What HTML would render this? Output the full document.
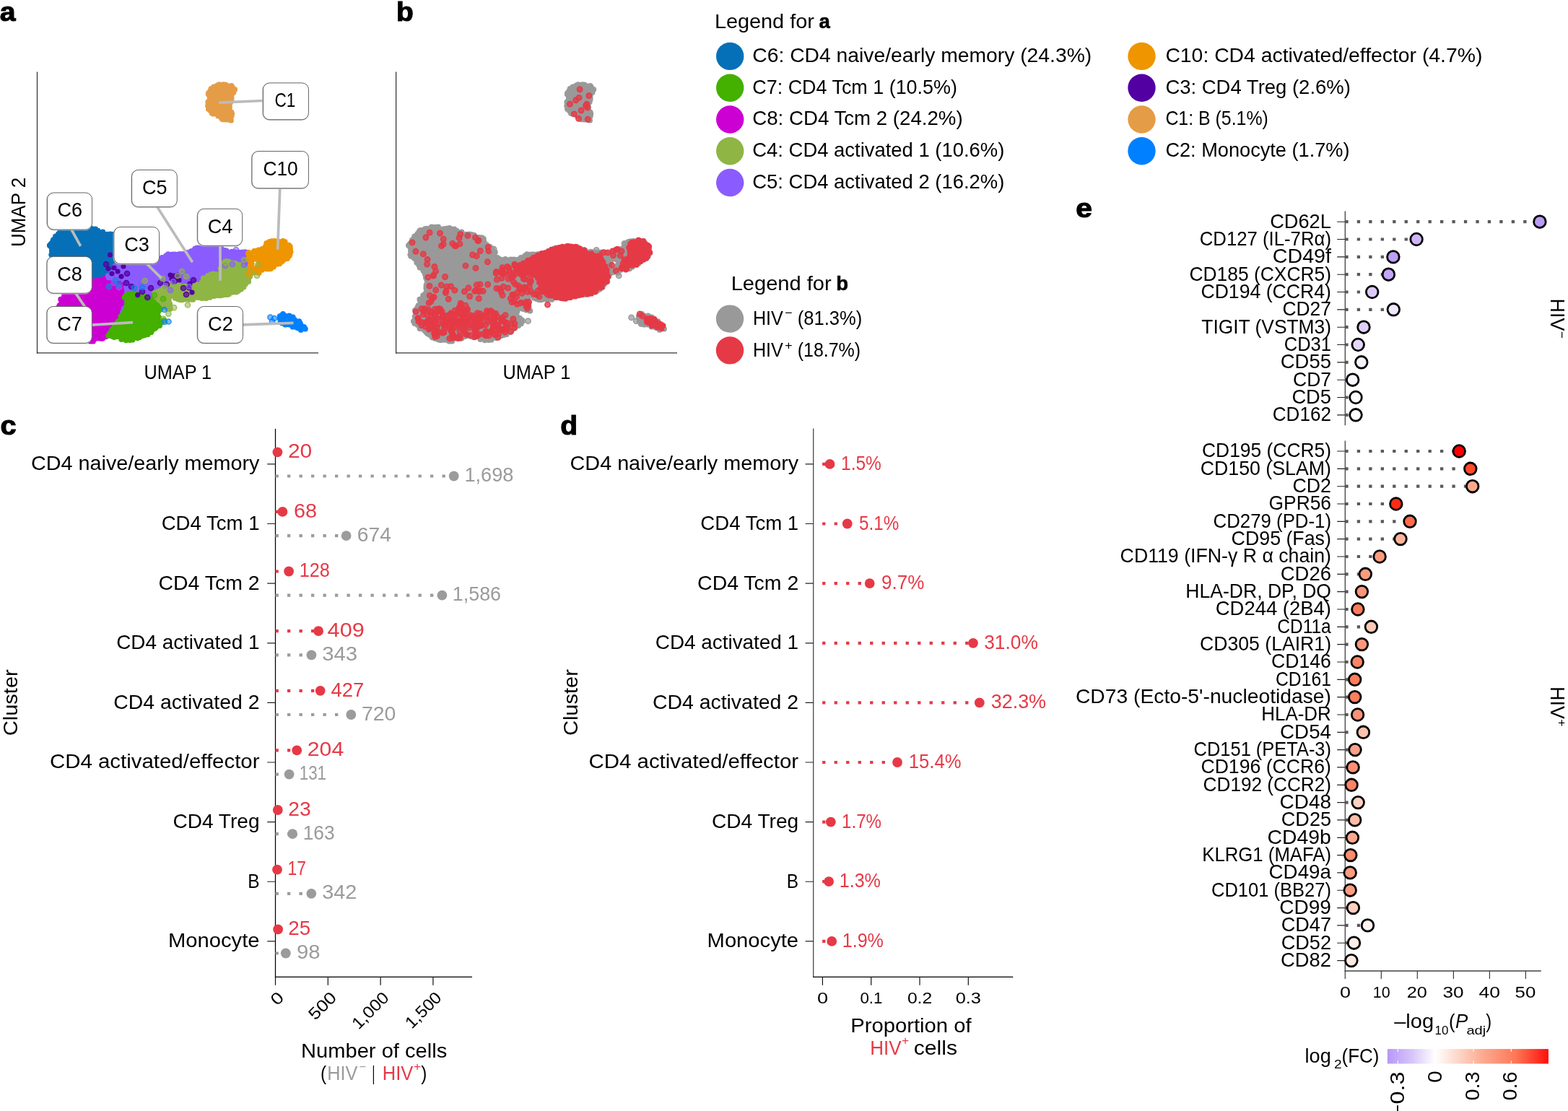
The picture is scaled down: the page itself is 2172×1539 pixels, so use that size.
<!DOCTYPE html>
<html lang="en"><head><meta charset="utf-8"><title>Figure</title>
<style>
html,body{margin:0;padding:0;background:#fff}
body{width:2172px;height:1539px;overflow:hidden}
svg{display:block}
text{font-family:"Liberation Sans",sans-serif}
.ax{stroke:#000;stroke-width:1.25;fill:none}
.tk{stroke:#222;stroke-width:1.15;fill:none}
</style></head><body>
<svg width="2172" height="1539" viewBox="0 0 2172 1539">
<rect width="2172" height="1539" fill="#fff"/>
<text x="-0.3" y="29.3" font-size="37.5" textLength="21.8" lengthAdjust="spacingAndGlyphs" font-weight="bold" stroke="#000" stroke-width="1.1">a</text>
<text x="549.1" y="29.3" font-size="37.5" textLength="23.8" lengthAdjust="spacingAndGlyphs" font-weight="bold" stroke="#000" stroke-width="1.1">b</text>
<path d="M50.9 488.9H441M548 488.9H938" stroke="#6e6e6e" stroke-width="1.7" fill="none"/>
<path d="M51.5 99.4V489.7M548.6 99.4V489.7" stroke="#3a3a3a" stroke-width="1.3" fill="none"/>
<text x="199.4" y="525.3" font-size="27.5" textLength="93.8" lengthAdjust="spacingAndGlyphs">UMAP 1</text>
<text x="696.5" y="525.3" font-size="27.5" textLength="93.8" lengthAdjust="spacingAndGlyphs">UMAP 1</text>
<g transform="translate(35 294) rotate(-90)">
<text x="-48.1" y="0" font-size="27.3" textLength="96.3" lengthAdjust="spacingAndGlyphs">UMAP 2</text>
</g>
<path d="M100.6 314.3h0M103.8 314.7h0M107.3 314.7h0M110 314.4h0M91.6 317.1h0M94.2 316.6h0M96.3 317.5h0M100.9 317.6h0M102.8 317.3h0M105.6 316.2h0M109.5 316.1h0M110.8 316.8h0M113.7 317.3h0M118.1 317.1h0M121 316.7h0M122.1 316.7h0M125.6 316h0M128.6 317.4h0M132.3 317.4h0M84.6 319.1h0M86.8 319h0M89.2 319h0M91.7 319h0M96.1 318.3h0M97.6 320.1h0M101.9 320h0M103.8 320.1h0M106.7 319.7h0M109.6 318.2h0M113.8 319.5h0M114.9 318.7h0M119.7 320.1h0M121.2 319.1h0M125.4 318.6h0M128 319.9h0M130.6 318.9h0M133 319.8h0M135.6 319.7h0M83.4 320.9h0M86 321.1h0M87.9 322.4h0M91.2 322.6h0M93.7 321.8h0M96.1 321.1h0M100.8 322.1h0M102.2 322.3h0M105.8 322h0M109.4 321.9h0M112.3 321h0M114.7 321.5h0M116.9 322.7h0M120 322.3h0M122.5 322.2h0M126.7 321.3h0M129.9 321.9h0M131.5 320.8h0M134 322h0M137.7 322.5h0M140 322.1h0M142.4 321.5h0M81.1 324h0M83.5 324.2h0M87.4 324.8h0M89.5 323.9h0M93.4 324.6h0M94.9 324.2h0M98.6 323.5h0M102.2 323.8h0M103.9 324.7h0M106.5 323.6h0M109.7 324.3h0M112.6 323.7h0M116.3 323.5h0M118 324h0M122.3 324.7h0M124 324.6h0M126.9 324.1h0M130.2 324.9h0M133.3 324.5h0M135.5 324.5h0M139.6 325.1h0M142.1 324.8h0M144.3 324.7h0M148.3 324.7h0M151 324.6h0M153.2 324.5h0M156.3 324.8h0M77 327.4h0M80.1 327.6h0M81.6 326.4h0M84.8 327.6h0M88.7 327.4h0M91.5 327h0M94.5 327h0M96.5 327.1h0M100.5 326h0M101.9 327.3h0M106.1 326.5h0M109.2 326.9h0M111.1 326.6h0M114.3 327.1h0M116.4 326.9h0M119.5 327.4h0M124 326.7h0M125.8 327h0M129.9 326.7h0M131 327.1h0M134 325.8h0M138 326h0M139.7 327.5h0M142.5 327.2h0M146.8 326.2h0M149.8 327.2h0M152.6 326h0M155.5 326.7h0M157.4 327.7h0M159.9 325.8h0M76.2 330.1h0M77.5 329.2h0M81.9 330h0M83.9 329h0M86.8 329.6h0M89.2 328.4h0M92.8 328.6h0M95.1 329.1h0M98 330h0M100.7 329.3h0M105.1 328.5h0M106.3 330.1h0M109.5 329.3h0M112.5 328.7h0M116.9 330.3h0M118 328.9h0M120.8 329.8h0M125.5 328.4h0M127.2 328.6h0M131.1 329.4h0M133.2 330.1h0M136.3 328.6h0M139.6 329.7h0M141.1 328.5h0M144.9 328.9h0M148 329.7h0M150.9 328.7h0M154.1 329.1h0M155.6 329.9h0M160.1 330h0M161.3 330.1h0M165.9 328.9h0M168.8 329.1h0M170.7 329.5h0M73.8 332.4h0M77.6 331.1h0M78.6 332.4h0M82.5 332.8h0M85.3 332.4h0M88.6 331.6h0M91.2 332.3h0M93.9 332h0M96.7 332.4h0M99.9 331.7h0M102.4 331.1h0M105.9 331h0M108.3 332.5h0M112.5 331.3h0M115.3 330.9h0M117.5 331.8h0M120.8 331.9h0M123.2 331.9h0M125.8 331.6h0M128.6 332.7h0M131.9 331h0M134.5 332h0M138.4 332.8h0M140.4 332.1h0M143.1 331.9h0M145.7 331.5h0M149.9 331.9h0M152.9 332.2h0M156 332.6h0M157.3 331.4h0M160.8 331.2h0M164 332h0M167.6 332.1h0M169.4 332.4h0M172.8 330.9h0M73.1 334.5h0M74.8 334.2h0M77.9 333.4h0M81.6 333.9h0M84.7 334.6h0M86.4 333.6h0M89.2 335.2h0M91.9 334.8h0M96.1 335h0M97.7 335.3h0M102.2 334.7h0M104.9 334.6h0M106.3 334.8h0M110.1 335.2h0M113.5 333.5h0M116.5 333.9h0M119.7 334.6h0M121.2 333.5h0M124.4 333.8h0M126.8 334.8h0M129.9 333.8h0M133.2 335.2h0M135.8 335.1h0M139.2 334h0M142.1 334.9h0M145.2 334.6h0M148.3 335h0M150.3 334.1h0M152.7 333.9h0M156.9 334.3h0M159 334.3h0M161.6 333.5h0M166.2 334.9h0M168.5 335.3h0M170.2 334.3h0M173.3 334.5h0M70.8 337.6h0M73.1 335.9h0M77.3 336.3h0M79.2 337.3h0M81.8 337.6h0M85.8 337.5h0M87.4 336.6h0M91.2 337.6h0M93.2 336.3h0M97.4 336.7h0M99.3 337.6h0M103.6 337.1h0M105.4 336.3h0M108.8 336h0M111.3 336.8h0M114.2 336.6h0M117.5 336.6h0M120.2 337.9h0M122.4 337.2h0M125.6 336.9h0M129.1 336.9h0M132.8 336h0M135.3 337.6h0M137.9 337.2h0M140.1 337.5h0M144.3 337.3h0M146.9 337.4h0M149.5 336.6h0M152 336h0M154.7 337.9h0M157.7 336.4h0M160.5 336.2h0M164.5 336.8h0M166.8 336.5h0M168.7 336.5h0M172.9 337h0M175 337.7h0M68.8 339.9h0M71.7 339.8h0M75 340.2h0M79 340.4h0M80.6 340h0M83.1 339.4h0M86.8 338.6h0M90.8 339h0M91.9 339.4h0M95.4 338.8h0M97.8 339.9h0M100.6 339.1h0M105.1 339.1h0M108.1 340.2h0M109.6 338.8h0M112.1 338.5h0M115.7 339.5h0M117.8 339.8h0M121.8 339.5h0M125.6 340.2h0M127.3 339h0M131.3 339.2h0M133.1 338.7h0M135.2 339.6h0M138.6 339.6h0M141.5 338.8h0M145.6 340h0M146.9 339.8h0M151 339.5h0M154.5 338.4h0M157.2 339.4h0M160.4 338.9h0M162.8 339.2h0M165 339.5h0M168.4 339.1h0M171.1 338.9h0M173.4 340.2h0M70.5 341.4h0M73.1 342.8h0M75.9 341.1h0M80.5 341.8h0M82.1 342.7h0M84.7 341h0M87.4 342.6h0M90.7 342.1h0M94.3 341.2h0M96.7 342.6h0M100.5 342.9h0M101.9 341.7h0M105.2 342h0M108.6 342.4h0M111.9 341.2h0M113.7 342.8h0M118.2 342h0M119.9 342.4h0M124 341.1h0M126.8 342.1h0M128.1 341.2h0M132.6 342.6h0M135.6 341h0M138.6 341.6h0M140.9 341h0M143.3 341.4h0M145.7 342.5h0M148.4 342.1h0M152.2 342.5h0M155 341h0M157.1 342.2h0M161 341.6h0M164.1 341.3h0M167.5 341.6h0M170.3 341.9h0M171.6 342.7h0M175.3 342h0M72.5 344.4h0M76.1 344.9h0M77.3 344.1h0M82 345.2h0M84.2 344.6h0M86.7 345h0M89.4 345h0M92.8 344.3h0M95.9 345.1h0M98.3 345.4h0M101.8 344h0M104.4 345.1h0M106.9 343.7h0M110.8 343.8h0M112.3 344.1h0M115.5 344.2h0M119.7 343.8h0M122.6 343.9h0M124.5 343.7h0M127.3 344.2h0M129.9 343.9h0M133.2 345.1h0M136.7 344.1h0M139.6 344.4h0M142.3 345h0M144.6 345.3h0M147.4 344.7h0M151.2 343.5h0M153.7 344.2h0M156 343.9h0M159.5 345h0M162.1 345.1h0M164.8 344.7h0M168.4 344.8h0M170.8 345.3h0M173.6 344.2h0M71.8 347.2h0M73.3 348h0M76.5 347.6h0M79.9 347.5h0M81.7 347.9h0M84.5 346.1h0M89.2 346.4h0M92.1 347.3h0M93.7 346.3h0M97.6 346.2h0M100.4 346.4h0M102.2 347h0M106.3 347.8h0M107.6 347.7h0M112.2 347h0M114.6 347.6h0M116.4 347.1h0M120 346h0M122.2 347.6h0M126 346.2h0M128.4 346.8h0M132.8 347.1h0M133.9 347.4h0M138.3 346.2h0M140.1 347.5h0M143.7 347.9h0M145.4 346.1h0M149.6 347.2h0M152.1 346.8h0M155.3 347.8h0M158.5 347.8h0M161.3 346h0M164.4 346.8h0M166 347.9h0M170 346.5h0M172.1 346.6h0M72.3 349.5h0M75.3 350.5h0M77.6 350.2h0M82.1 349.4h0M84.9 349.1h0M86.6 349.8h0M89.5 348.8h0M91.7 349.7h0M95.5 349.6h0M97.8 349h0M102.3 348.8h0M104.3 349.7h0M106.3 349h0M110.3 349.4h0M113.8 349.8h0M116.8 349h0M118.6 348.6h0M120.9 348.5h0M124.2 350.4h0M127.3 349.6h0M131 349.8h0M132.5 349h0M136.4 350.1h0M140 348.9h0M142.8 349.6h0M145.3 349h0M147.5 349.6h0M149.8 350h0M153.5 349.8h0M155.5 349.5h0M159.8 349.8h0M163.2 350.1h0M165.1 350.4h0M71.2 352.8h0M73.5 352.7h0M76.3 351.8h0M79.3 351.8h0M82 352.8h0M85.7 352.8h0M87.8 352.9h0M92.2 352.5h0M94.8 351.5h0M96.8 352.7h0M100 351.7h0M102.5 352.7h0M106.5 351.3h0M109.1 352.4h0M110.6 352.8h0M114.4 351.7h0M117.9 352.8h0M119.9 351.5h0M122.8 351.1h0M125.5 351.2h0M129.4 351.4h0M131.6 352.6h0M134.4 352.3h0M137.6 352.8h0M140.2 352.8h0M142.7 352.2h0M146.4 352h0M150 352.4h0M151.9 351.8h0M155.4 351.3h0M157 352.2h0M161.3 351.9h0M163.8 352.7h0M72.2 354.9h0M75.9 355.1h0M77.2 355.1h0M81.4 354.7h0M83.8 355.5h0M87.7 354.8h0M89.5 354.1h0M93.3 355.1h0M96.6 354.9h0M99 354.1h0M100.7 355.3h0M103.8 355.4h0M108 355.1h0M110.6 354.7h0M113.2 354.4h0M115.1 355.1h0M118.3 353.8h0M121.6 355h0M125.1 354.8h0M127.5 355h0M130.7 354.1h0M134.1 355.4h0M136 354.7h0M139.6 354.5h0M141.8 355.5h0M144.1 355h0M148.1 353.7h0M150.8 355h0M153.9 354.3h0M157.1 353.6h0M158.6 355.3h0M161.4 354.5h0M76.4 357.5h0M80.1 356.6h0M82.4 356.1h0M85.9 357.8h0M87.7 357.8h0M90.5 356.8h0M93.1 356.2h0M97.8 358.1h0M100.8 357.6h0M103 358h0M106.6 357.2h0M108.7 357h0M111.3 357.1h0M113.9 356.6h0M117.3 356.9h0M119.6 357.1h0M123.7 357.5h0M126.1 356.6h0M129 356.8h0M131.6 357.5h0M134.7 357.5h0M137.5 356.8h0M140.3 357.6h0M142.9 356.5h0M146.6 357.4h0M149.6 356.6h0M151.9 356.1h0M155.1 357.4h0M158.5 356.5h0M160.1 357.7h0M79 359.5h0M81.7 359h0M83.7 360.2h0M86.4 359.9h0M89.5 359.8h0M92.6 358.6h0M95.1 360.3h0M98.7 359.8h0M101.9 359.2h0M104.9 360h0M107.1 359.9h0M109.5 358.8h0M113 358.9h0M116.6 359.4h0M118.2 359.8h0M121.6 359.7h0M124.6 360.3h0M128.3 359h0M130.9 359.7h0M132.7 360.2h0M136.6 359.1h0M139.4 359.3h0M141.1 359.9h0M144.2 359.7h0M147 360.3h0M149.8 359.1h0M153.1 358.8h0M156 359.2h0M159.1 360.2h0M161.5 359h0M80.1 362.7h0M82.6 362.7h0M85.5 361.7h0M87.7 362.5h0M91.8 362.4h0M95 362.7h0M96.7 363h0M99.1 361.8h0M103.7 362.4h0M106.6 362.7h0M108.6 362.6h0M110.8 362.4h0M113.9 362.5h0M116.6 361.4h0M119.9 363h0M123 362.7h0M125.4 363.1h0M128.1 362h0M131.8 361.9h0M134.6 362.8h0M137.8 361.6h0M140.5 361.9h0M143.5 361.8h0M147.3 361.5h0M148.3 361.3h0M152 362.8h0M156 362.8h0M158.1 361.1h0M160.4 362.4h0M80.2 363.8h0M84.4 364.4h0M87.5 364.2h0M89.9 365h0M91.8 364.6h0M96.1 364.9h0M98.4 364.1h0M100.8 365.3h0M104.7 364.3h0M107.4 365h0M110.2 364h0M113.3 364.7h0M115.1 364.3h0M119.5 363.7h0M122.4 365.2h0M124.2 364.1h0M127.1 365.1h0M130.9 364.8h0M134.3 364.4h0M135.2 365.4h0M139.2 364.4h0M141.6 364.1h0M145 365.2h0M146.9 365.2h0M150.6 363.6h0M153.9 365.2h0M156.4 365.1h0M158.8 364.7h0M83 367.1h0M84.6 367.6h0M89 367.5h0M92 368h0M93.3 367.3h0M96.5 368h0M99.2 366.6h0M103 366.8h0M106.4 366.5h0M108.3 368.1h0M111.2 367.4h0M114.3 367.4h0M117 366.2h0M120.4 366.5h0M123.4 368h0M125.5 367.3h0M129.5 366.5h0M131.7 368h0M134.1 366.4h0M137.3 367h0M140.3 367.1h0M144 368h0M147.2 366.7h0M149.3 367.5h0M151.7 366.4h0M154.8 367.6h0M158 366.6h0M84.5 370.7h0M85.9 369.4h0M90 368.9h0M92.4 370.5h0M95.2 369h0M98.7 370.3h0M101.5 370.2h0M105.2 368.9h0M108.2 369.8h0M109.6 368.7h0M112.5 369.8h0M116 370.6h0M119.5 369.2h0M120.7 369.5h0M124.1 369.4h0M127 370.1h0M129.6 370.5h0M133.7 369.4h0M135.3 370.7h0M139 370.3h0M142.8 369.8h0M144.9 370.7h0M148.1 370.4h0M150.8 370.4h0M154.3 368.7h0M156.6 369h0M88.9 371.6h0M90.6 372.9h0M94.8 372h0M96.6 372.4h0M99.4 372h0M103.4 371.6h0M105.3 372.5h0M108.7 372.9h0M111 372.3h0M113.9 371.5h0M117 373h0M119.4 371.6h0M123.2 371.3h0M126.2 372.4h0M129.5 371.7h0M131.9 371.9h0M134.5 372.1h0M138.3 373.2h0M140.6 372.6h0M144.4 373.2h0M145.8 372.3h0M148.7 372.8h0M152.6 372.2h0M155.5 372.7h0M89.2 375h0M92.6 375.6h0M94.8 373.8h0M98.7 375h0M100.5 374.6h0M104.5 373.8h0M108 374.8h0M110.5 375.6h0M113.3 375.3h0M115.8 375.4h0M118.1 375.5h0M120.7 373.9h0M125.5 375h0M126.7 374.9h0M130.1 374h0M132.4 375h0M137 375.3h0M139.8 374.8h0M142 373.9h0M144.2 375.7h0M148.6 374.7h0M151 375.2h0M153.1 374.6h0M155.9 374h0M91.2 378.1h0M94.3 377.1h0M96.1 378h0M99.6 376.8h0M103.7 377.9h0M105.9 377.4h0M107.7 377.7h0M111.7 376.3h0M113.8 377.6h0M118.3 377.6h0M119.3 378.2h0M123.9 376.3h0M126 376.7h0M128.1 377.4h0M132.2 376.6h0M135 377.7h0M137.2 377.6h0M141.3 377.9h0M143.6 376.8h0M147.3 378.2h0M149.9 377.6h0M152.7 377.2h0M91.9 380.3h0M95.2 379.9h0M98.7 379.6h0M100.9 380.7h0M104.1 379.4h0M108 380.2h0M111.1 380.2h0M113.7 379h0M116.5 380.3h0M117.9 379.7h0M121.9 379.6h0M124.7 380h0M127.1 379.3h0M129.6 380.5h0M132.5 379.5h0M136.9 380.7h0M138.7 378.9h0M142 378.8h0M144.8 380.1h0M147 379.4h0M149.9 379h0M94.3 381.5h0M98 382.1h0M100.4 382.9h0M102.6 382.7h0M106 381.3h0M108 382h0M110.6 383.1h0M115.3 383.2h0M118 383.2h0M121 381.4h0M123.4 382.9h0M125.2 382.3h0M129.3 381.7h0M132.8 381.8h0M135.7 382.6h0M137.5 382.2h0M139.7 381.9h0M144.2 382h0M146.5 383.1h0M92.7 384.6h0M96 385.1h0M98 385.7h0M101 385h0M105.2 385.8h0M106.6 384.2h0M109.7 385.2h0M112.1 383.9h0M115.5 384.1h0M118.5 385.3h0M122.6 384.7h0M123.9 385h0M128.3 384.1h0M131.2 385.2h0M132.4 385.1h0M136.7 385.4h0M138.1 385.3h0M142.2 384.6h0M94.1 387.4h0M96.1 388h0M99.3 388.1h0M103.3 387.8h0M106.6 386.5h0M108 387.6h0M110.6 386.6h0M114.5 387.3h0M116.4 387.4h0M119.4 386.5h0M122.9 386.7h0M125.4 387.8h0M128.6 386.5h0M131 387.6h0M95.4 390.1h0M97.5 389.4h0M101.9 389.4h0M104.1 390.3h0M106.9 389.9h0M112.1 389.6h0M94.6 392h0M99.2 392.3h0" stroke="#0570B8" stroke-width="7.8" stroke-linecap="round" fill="none"/>
<path d="M145.5 385.8h0M147.2 385.8h0M134.7 388.1h0M138.1 388.2h0M141.2 387.2h0M144.1 387.1h0M145.4 386.8h0M150.1 387h0M153.1 387.7h0M154.3 387.1h0M158.8 387.2h0M160.4 386.4h0M162.9 387.9h0M166.2 388h0M109.9 390.4h0M115.4 389.6h0M118.5 389.2h0M120.8 390.7h0M124.7 390h0M127.7 390.6h0M129.5 389.3h0M133.5 390.4h0M135.8 390.3h0M139.9 389.2h0M142.4 390.7h0M145.5 389.1h0M147.4 390.3h0M150.1 389.4h0M154 390.7h0M155.6 390.5h0M159.8 389.9h0M161.4 389.3h0M165.1 390.6h0M168.2 390.8h0M170.8 389.9h0M97.1 393.2h0M103.5 392.2h0M106.5 392h0M109.6 392h0M111.8 392.1h0M114.3 393.1h0M117.8 392.5h0M120 391.7h0M122.8 391.4h0M126.1 392.4h0M128.1 391.6h0M130.9 393.1h0M135.7 393.1h0M137.3 392.3h0M140.5 392.8h0M143.9 392.4h0M146.3 392.6h0M150.1 393.4h0M152.3 391.6h0M155.9 391.9h0M157.4 392.8h0M161 392.9h0M164.4 392.4h0M166.3 392.5h0M168.9 391.5h0M172.7 392.2h0M93.3 395.1h0M94.6 394.2h0M99.4 395.8h0M102.3 394.8h0M105.1 395.6h0M106.8 394.1h0M109.6 394.3h0M112.6 394.3h0M115.6 393.9h0M118.9 394h0M120.7 394.9h0M124.7 394.4h0M128.4 395.5h0M131.3 394.7h0M133.1 395.5h0M135.6 394.8h0M140.1 394.6h0M141.8 395.7h0M144.9 395.1h0M147.4 395.1h0M151.6 395h0M153.9 395.4h0M156.8 394.7h0M159.1 394.4h0M162.4 394.3h0M164.8 394.7h0M169 395h0M170.8 395h0M173.9 394.9h0M94.7 398.1h0M97.4 397.5h0M100.3 397.7h0M103.3 397.2h0M104.8 398h0M108.4 396.5h0M112.3 397h0M115 397.8h0M116.8 397.8h0M121.2 397.5h0M124 397.7h0M126.3 396.7h0M129.7 397.4h0M131.3 397.4h0M135.3 397.6h0M137.4 396.9h0M140.9 397.1h0M143.2 397.3h0M146.1 397.2h0M149.7 397.4h0M151.6 396.7h0M155.3 396.7h0M157.3 397.6h0M161.2 398h0M163.5 396.6h0M166.9 398.1h0M170.5 398.3h0M172.5 397.8h0M93.1 399.1h0M95.1 400.9h0M99.3 400h0M100.8 399.9h0M104.4 400.9h0M108 399.2h0M110.3 400.7h0M112.9 400.6h0M115.6 400.7h0M118.8 399h0M121.5 399.4h0M123.9 400.6h0M128.4 400.3h0M130.2 401h0M133 399.3h0M135.7 400.2h0M139.8 399.8h0M141.2 400h0M144.9 399.2h0M147.8 399.1h0M151.4 400.1h0M153.9 399.1h0M155.5 400h0M158.9 399.2h0M161.6 400.3h0M165.1 400.1h0M168.7 400.3h0M171.4 399.2h0M173.3 399.9h0M94.3 403.1h0M97.8 403.2h0M100.1 401.9h0M102.3 401.9h0M104.8 403.1h0M109.4 401.6h0M112.3 402.2h0M114.8 402.5h0M116.6 401.7h0M121.1 401.6h0M123.2 402h0M126 402h0M128.8 403.1h0M131.9 403.1h0M134.4 403.3h0M138.6 402.1h0M140.4 403.2h0M143.5 402.5h0M146 401.7h0M148.7 401.7h0M152.2 403.1h0M155.1 401.9h0M157.8 402.3h0M161.6 403.5h0M163.6 403.1h0M166 402.4h0M169.1 403h0M172.7 402.1h0M93.6 404.7h0M96.2 405.6h0M98.2 404.5h0M102.3 405.2h0M103.7 405h0M107.3 405.6h0M110 405.4h0M112.9 405.1h0M116.7 406h0M119.1 405.1h0M121.2 404.9h0M125.2 405.4h0M126.7 404.3h0M130.9 404.7h0M133.5 405.2h0M135.7 404.7h0M139.7 404.8h0M142.1 404.5h0M145.2 405.7h0M147.1 404.5h0M150.1 404.8h0M154.4 405.2h0M156.2 404.3h0M159.5 405h0M161.8 405.8h0M165.4 404.7h0M168.6 404h0M171.9 405.3h0M173 405.6h0M92.2 406.7h0M94.2 406.8h0M97.2 407.8h0M99.2 407.2h0M102.2 407.5h0M106.3 406.8h0M108.7 407.9h0M111 406.8h0M114.2 408.1h0M117 408h0M119.3 408.5h0M122.8 407.1h0M125.5 408.1h0M129.4 407.3h0M132.7 406.9h0M134.1 408.5h0M137.5 408h0M139.7 407.6h0M143.4 408.2h0M145.9 407h0M149.3 408.3h0M152.1 407.4h0M154.4 407.3h0M157.3 407.2h0M161.7 407.5h0M162.8 407.6h0M165.9 407.5h0M169.2 408h0M171.6 406.6h0M89 409.2h0M92.1 409.5h0M95.6 409.6h0M97.9 409.6h0M102.3 410.5h0M103.5 411h0M106.4 410.8h0M111.1 409.9h0M112 410.2h0M116.7 409.5h0M118.5 410.7h0M122.6 410.2h0M124.1 409.5h0M127.1 409.7h0M129.4 410.1h0M132.6 410.4h0M136.7 409.4h0M138.7 409.2h0M141.4 409.3h0M145.8 409.8h0M148.3 409.2h0M151.4 409.7h0M153 410.5h0M156.3 410.5h0M158.8 409.7h0M161.8 410.6h0M165 410.5h0M169 410.3h0M170.4 409.5h0M89.2 413.5h0M91.7 412.7h0M94.2 413.5h0M96.9 412h0M99.8 413.2h0M103.1 411.7h0M105 412.7h0M109 412.5h0M112.4 413.3h0M113.5 412.9h0M117.1 412.3h0M119.5 412.9h0M123 413.1h0M125.4 412.1h0M129.3 412.8h0M131.6 413.1h0M134.2 411.8h0M138.3 413.5h0M141.2 412.8h0M143 413.3h0M146.3 412.7h0M148.5 412h0M152.7 411.8h0M156 411.9h0M158.1 413.3h0M160 413.1h0M162.8 413.5h0M166.6 412.6h0M169.7 411.7h0M84.2 414.7h0M86.9 414.2h0M90.5 416h0M92 414.8h0M94.9 415.7h0M98.6 414.6h0M100.6 415.1h0M103.3 414.5h0M107.9 415.4h0M110.9 414.4h0M113.4 415.3h0M115 414.5h0M119.6 414.7h0M122 414.5h0M125.4 415.7h0M128 415.8h0M130.8 414.1h0M133.2 416.1h0M136.1 415.5h0M139.3 414.1h0M141.5 415.5h0M145.1 415.6h0M147.1 414.6h0M151.2 414.9h0M153.3 414.7h0M156.3 415.3h0M160.2 414.1h0M162 416h0M164.2 415.5h0M168.7 415.4h0M171.3 415.5h0M173.3 415.4h0M86.4 418.4h0M89 418.6h0M92.1 417.4h0M94.5 418.2h0M97.7 417.3h0M100.1 418.5h0M103.1 418.3h0M106.1 416.9h0M108.3 417.9h0M111.9 416.9h0M114 417.7h0M118.2 417.1h0M121 417.8h0M123.6 416.9h0M125.5 417.5h0M129.7 418.4h0M132.8 418.5h0M135.5 418.5h0M137.4 417.9h0M140.2 417.6h0M142.8 418.2h0M146.7 417.5h0M148.8 416.8h0M151.7 417h0M155 418.4h0M157.8 417.5h0M160.1 417.2h0M164.6 417.8h0M167.6 418.2h0M169.3 416.7h0M171.9 418.3h0M85 420h0M87.6 419.7h0M89.6 419.4h0M92.2 419.6h0M96.5 420.1h0M98.8 419.8h0M101.6 419.5h0M104.5 419.6h0M108.1 420.1h0M110 419.2h0M112.7 421h0M116.8 419.5h0M117.8 419.3h0M120.8 419.6h0M125.4 419.6h0M127.9 420.5h0M131.2 420.9h0M133.9 420.2h0M135.4 420.4h0M138.8 419.8h0M142.6 420.7h0M144.9 419.2h0M147.1 421.1h0M150.7 419.7h0M152.6 419.8h0M157 419.9h0M159 419.4h0M161.5 419.5h0M165.3 419.6h0M168.1 420h0M171.3 419.4h0M173 420.7h0M82.4 423.1h0M85.1 423.2h0M88.1 423.1h0M91.2 422h0M94 421.8h0M96.7 422.3h0M100.7 423.4h0M102.1 421.8h0M106.3 423.1h0M108.4 422h0M111.3 423.2h0M114.3 421.8h0M117.4 423h0M119.9 422.1h0M122.5 421.7h0M125.3 422.7h0M129.8 422.6h0M131.1 423.1h0M135.2 422.1h0M137.5 422.5h0M139.8 421.7h0M144.4 423.6h0M146.7 422.1h0M148.2 422.3h0M152.2 422.1h0M155.1 422.1h0M158.8 422.6h0M161.3 421.9h0M164.1 422.6h0M167 422.1h0M168.8 422.5h0M172.6 422.7h0M81.1 425.8h0M83.3 425.9h0M87.8 425.4h0M89 426h0M92 425.3h0M95.7 424.3h0M98.8 424.8h0M101.4 425.7h0M103.9 425.7h0M107.6 425.6h0M110.8 424.3h0M112.6 425.2h0M115.7 424.5h0M118.5 424.4h0M120.8 424.6h0M124.4 426.1h0M127.5 425.2h0M131.4 425h0M133.3 424.9h0M137 424.2h0M139.6 425.2h0M142.4 424.5h0M144.3 425.9h0M147.6 425.8h0M151 424.7h0M153.9 426.2h0M156.3 425.8h0M159.9 425.9h0M162.7 424.8h0M164.9 425.8h0M167.9 425.6h0M170.4 425.9h0M79.7 428.4h0M83.5 427.3h0M85 427.5h0M87.5 428.5h0M91.7 428.7h0M94.5 428.4h0M96.9 427.1h0M99.9 428.4h0M103 428.2h0M105.3 426.9h0M108.5 427.1h0M111.2 427h0M113.7 427.1h0M118.3 428.1h0M120.9 428.6h0M123.7 428h0M126.8 428.1h0M129.8 427.6h0M130.9 428.2h0M135.5 428.7h0M137 427.9h0M139.7 426.9h0M143.3 427.1h0M146.9 428.4h0M149.7 428.3h0M151.8 427.9h0M154.5 427.4h0M158.1 426.9h0M160.2 426.9h0M163.4 428.6h0M166.8 427.7h0M170.2 427.1h0M77.9 430h0M80.9 431.2h0M84.8 431.2h0M87.8 430h0M90 430h0M93.6 429.6h0M95.4 430.9h0M98.4 430h0M102 430.8h0M104.6 431h0M106.7 430.7h0M109.9 429.2h0M113.4 429.6h0M116.4 429.9h0M119.1 430.6h0M122.5 430h0M124.5 431h0M127 430h0M130.9 429.6h0M134.3 429.9h0M136.6 430.5h0M138.1 431h0M142.6 430.9h0M145.4 430.7h0M148.7 431.1h0M150.3 431.1h0M153 431h0M157.4 429.9h0M158.7 431h0M162.1 430.5h0M166.1 429.8h0M168.1 430.2h0M79.5 432.8h0M82.3 433.5h0M85.9 432h0M87.5 433.5h0M91.8 432.8h0M94.2 433.6h0M96 433.7h0M100.1 431.8h0M103.1 431.8h0M104.8 431.9h0M109.2 432.4h0M111.1 432.2h0M114 433.6h0M116.8 433h0M119.4 432.5h0M123.7 432.2h0M126.4 432.6h0M129 432h0M132.7 432.1h0M134.1 431.8h0M138.3 433.6h0M140.2 432.4h0M143 432.7h0M145.9 432h0M149.5 431.8h0M152.8 433h0M156 432.2h0M157.2 433.6h0M161.6 433.1h0M164.2 432.3h0M166.9 433.3h0M79.1 434.3h0M81.7 436h0M84.8 436.1h0M87.9 436.3h0M90.5 434.8h0M91.9 435.2h0M96 435.2h0M97.9 435.1h0M101.4 435.4h0M104.5 435.1h0M107.2 436h0M110.3 435.8h0M112.3 434.9h0M116.4 436.1h0M118.2 434.5h0M121.8 434.6h0M125.1 436.2h0M128.1 436.1h0M129.7 435h0M133.6 434.6h0M136.7 436.2h0M140 436h0M141.4 435.1h0M145.5 435.9h0M148.1 434.3h0M149.8 435.3h0M153.9 435.1h0M156.1 436.3h0M158.6 435.3h0M163 434.3h0M164.7 435.2h0M168.4 434.8h0M77.5 438.5h0M80.5 438.7h0M82 438h0M85.3 437.8h0M88.2 438h0M91.7 437h0M94.1 438.4h0M97.5 437.3h0M100.6 437.2h0M102.9 436.9h0M105.8 437.1h0M108.6 437.8h0M111.3 438.6h0M114.9 437.1h0M117.8 438.5h0M120.7 437.1h0M122.7 438.5h0M127 437.9h0M129.8 438.4h0M131.7 437.3h0M135.4 438.3h0M136.8 437.7h0M140.6 438.1h0M142.4 437.4h0M146.2 437.4h0M148.7 437.8h0M151.6 438.7h0M155.8 438.6h0M158.8 437.2h0M160.6 437.1h0M164 437.1h0M77.9 440.2h0M82 439.9h0M83.7 440h0M87.3 440.2h0M90.7 439.6h0M93.7 440.4h0M94.6 439.7h0M98.9 439.6h0M100.5 440.9h0M104 440.5h0M106.7 440.4h0M110.5 441.2h0M112.9 440.5h0M116.4 440h0M118.5 440.9h0M121.8 441.1h0M124.6 440h0M128 439.7h0M129.7 440.9h0M132.9 440.3h0M136.2 439.4h0M140 440h0M142.2 440.3h0M145.3 440.5h0M147.4 439.8h0M151.3 440.3h0M153.5 441.1h0M156.6 439.9h0M159.9 440h0M162.2 441.3h0M164.8 439.8h0M77.4 443.5h0M78.7 442.5h0M83.2 442.8h0M85.4 443h0M87.7 443.6h0M90.9 442.4h0M94.2 442.2h0M96.7 442.6h0M99 443.6h0M103.3 443.7h0M105.4 443.2h0M108.7 443.1h0M111.2 442.8h0M114.2 443.3h0M116.8 442.9h0M119.9 443h0M122.5 443.5h0M126.7 442h0M128.2 443.4h0M131.3 443.8h0M134.5 442.3h0M137.3 443.6h0M141.2 442.6h0M143.1 443.1h0M146.1 442.6h0M149.8 442.8h0M151.4 443.3h0M154.5 442.5h0M157.9 442.8h0M161.4 442.7h0M163.9 441.9h0M75.7 445.1h0M78.8 446h0M80.6 444.9h0M83.9 445.7h0M87.5 445.5h0M90.1 444.9h0M92.9 445.8h0M96.3 446h0M99.1 444.9h0M101.1 445.9h0M104.4 444.6h0M106.4 444.6h0M110.9 445.1h0M113.1 445.8h0M116.8 444.4h0M119.2 445h0M121.8 445.3h0M125.2 445.2h0M127.7 446.1h0M130 444.4h0M133.4 445.3h0M135.5 444.8h0M139.2 445.2h0M141.9 445.4h0M145.9 445.5h0M148.6 444.6h0M150.1 444.7h0M153.4 446h0M156.9 445.4h0M160.1 444.6h0M77.3 447.9h0M79.9 447.8h0M83.3 448.5h0M85.5 447.8h0M87.9 446.9h0M90.7 447.3h0M93.7 448.3h0M97.3 447.1h0M100.6 447.7h0M102.8 447h0M106.3 448.8h0M109 448.8h0M111.5 448.8h0M114.6 448.1h0M117.1 447.9h0M120.4 447.6h0M122.3 447.3h0M127 447.8h0M129.6 447.4h0M131 448.1h0M134.9 447.4h0M138.3 447.4h0M140.4 447.1h0M143.9 448.2h0M146.1 447.9h0M148.4 447.8h0M152.4 447.8h0M155 448h0M157.6 447.4h0M160.6 447.5h0M81.3 450.1h0M83.5 450.3h0M87 450.8h0M89.5 449.5h0M91.8 450.9h0M96.3 450.7h0M98.1 451.3h0M101.5 450.2h0M104.6 450.5h0M107.8 451.4h0M111 450h0M113.5 451h0M115.5 450.5h0M118.6 450h0M122.6 450.1h0M124.8 449.6h0M127.2 449.8h0M130.9 450.4h0M133.3 450.8h0M136.1 449.8h0M139.3 450.5h0M141.5 449.5h0M145.3 449.9h0M147.2 451.1h0M150.2 450.1h0M152.6 451.1h0M156.1 450.1h0M84.8 452.9h0M89.1 453.2h0M91.2 453.1h0M93.7 452.4h0M96.5 453.9h0M99.4 453.9h0M101.9 452.7h0M106.1 453.7h0M107.7 453.5h0M111.8 453.6h0M114.5 453.8h0M117.6 453.5h0M119.5 453.3h0M124 452.9h0M125.3 453h0M129.2 452.1h0M131.9 453.5h0M133.8 453.8h0M137.9 453.9h0M140.3 452.5h0M143.4 452.2h0M147 452.3h0M149.3 452.4h0M151.4 453.5h0M155.8 452.5h0M84.3 455h0M87.4 455.3h0M89 455.7h0M92.3 455.3h0M94.6 456.4h0M99.1 454.5h0M101.4 456.1h0M103.8 455.4h0M106.9 454.8h0M109.1 454.8h0M113.7 455.8h0M115 455.1h0M119.6 456.3h0M122 455h0M124.7 455.6h0M127 455h0M130 455.2h0M133.4 455.2h0M136.3 455.7h0M139.3 454.7h0M142.3 455.9h0M145.4 455.7h0M147.3 455.6h0M150.4 454.9h0M154.5 455.1h0M91.4 458h0M93.3 457.8h0M97.5 458.4h0M99.3 458.5h0M102.8 457.7h0M104.8 457.6h0M108.6 458.6h0M112.5 457.4h0M114.1 457.3h0M117.3 457.8h0M120.8 458.5h0M123.2 458.2h0M126.9 457.7h0M129 458.5h0M131.4 458.2h0M134.1 457.8h0M137.3 457.3h0M140.5 458.2h0M143.5 457.9h0M146.3 458.1h0M148.5 457.1h0M151.4 457.1h0M92.9 459.7h0M96.4 459.6h0M97.6 460.6h0M100.5 459.6h0M105.2 459.8h0M106.8 460.2h0M109.9 461.5h0M113.7 461.1h0M116.3 460.6h0M117.9 461h0M122 461.5h0M124.8 461h0M127.6 461.2h0M130.2 461.2h0M132.7 460h0M136.7 460.4h0M140 460.7h0M141.2 459.5h0M144.8 459.7h0M148.5 461h0M149.9 461.4h0M94.9 462.1h0M97.5 463.5h0M100.3 463.8h0M102.6 462.5h0M106.4 463.8h0M108.1 464h0M111.3 462.9h0M113.5 463.4h0M116.8 462.9h0M119.6 463.3h0M122.5 462.7h0M126.7 463.2h0M128.9 463.2h0M132.7 462.7h0M135.4 462.9h0M138.2 463.6h0M140.3 462.7h0M143.6 463.4h0M146.6 462.5h0M149.8 463.7h0M101 466.4h0M103.5 466.5h0M108.1 465.2h0M109.7 466.3h0M113.2 465.6h0M115.6 466.4h0M118 465.7h0M121.3 466.5h0M124.5 466.4h0M126.8 466.5h0M130.9 465.1h0M134.2 466h0M135.6 466h0M138.7 464.6h0M142.1 465.2h0M144.8 465h0M147.1 466h0M102 467.6h0M105.7 468.9h0M107.9 467.4h0M110.7 468.3h0M113.6 468.9h0M117 467.2h0M120.3 468.5h0M122.9 467.7h0M125.9 468.1h0M129.4 468h0M131.2 467.9h0M134.6 468.4h0M137.1 468.6h0M141.2 468.9h0M142.8 468.2h0M109.9 470.3h0M113 471.2h0M115.3 470.6h0M117.9 470.8h0M122 471h0M123.8 470.2h0M127.8 471.4h0M131 469.6h0M125.3 472.7h0M129 472.7h0" stroke="#CC00D2" stroke-width="7.8" stroke-linecap="round" fill="none"/>
<path d="M177.2 339.5h0M178.2 341.3h0M181.2 341.7h0M280.1 342.4h0M283.3 342.8h0M286 342.6h0M288.6 341.8h0M291.9 342.7h0M295.2 342h0M296.4 342.9h0M299.5 342.6h0M302.3 341.9h0M176.5 343.8h0M179.8 344.5h0M183.4 343.7h0M184.6 344.3h0M270.2 344.5h0M273 343.5h0M275.2 343.6h0M278.7 344.6h0M281.2 344.6h0M284.8 345.4h0M287.9 344.1h0M289 344.4h0M292.7 344.8h0M295.6 344.1h0M298.4 344h0M302 344.5h0M303.8 344.9h0M306.8 344.6h0M175.2 347.9h0M179.1 347.5h0M182.1 347.5h0M183.5 346.8h0M186.4 347.8h0M265.2 347.9h0M267.7 347.5h0M270.2 346.6h0M274.3 346.9h0M276 347.8h0M280.4 346h0M282.1 347.7h0M285.9 346.5h0M287.8 347.8h0M291.7 347.2h0M293.6 346.3h0M298.1 346.7h0M300.2 346.4h0M302 347.7h0M306.8 346.7h0M308 347.6h0M311.4 347h0M314 347.6h0M167.9 350.4h0M170.5 350h0M174.2 350h0M176.2 348.9h0M178.8 348.8h0M182.4 348.7h0M186.4 349.7h0M188.8 349.4h0M258.6 350h0M263.9 348.6h0M267.1 349.3h0M269 350.1h0M271.7 349.7h0M275.8 350.1h0M277.8 348.7h0M281.3 348.8h0M284.3 348.7h0M286.5 349h0M290 350h0M293.2 348.9h0M296 349.9h0M299.4 348.9h0M301.8 349h0M303.8 350h0M307.7 350.4h0M309.8 349.1h0M312.2 349.7h0M315.1 349.5h0M319.8 350.3h0M321.2 348.7h0M324.7 349.2h0M327.6 350.1h0M329.6 349.3h0M332.9 349.8h0M335.9 349.5h0M339.7 349.2h0M342.9 350.4h0M166.4 351.5h0M170.1 351.5h0M173.4 351.9h0M175.8 352.9h0M177.8 351.7h0M180.5 352.1h0M184.4 351.3h0M232.9 352.1h0M236.4 352.8h0M239.3 352.5h0M242.5 352.4h0M245.6 352.9h0M248.7 351.9h0M249.9 352.6h0M252.9 351.9h0M257.5 351.7h0M258.9 351.4h0M262.2 352.3h0M264.6 351.5h0M267.5 351.7h0M270.4 352h0M274.9 352h0M276.8 351.4h0M279 351.4h0M283 353h0M285.2 351.9h0M288.8 351.8h0M292.1 352.2h0M294.9 352.5h0M297.4 352.9h0M299.9 351.6h0M303.3 352.5h0M305.1 351.8h0M309.3 352.2h0M311.3 352.9h0M314.3 351.4h0M318.2 352.6h0M320 352h0M323 352.8h0M326.2 352.9h0M329 351.7h0M332.2 352.6h0M334.6 351.8h0M338.6 352.1h0M340.3 352.7h0M165.6 355h0M169 353.9h0M171.6 353.8h0M173.9 354.2h0M177.6 354.5h0M179.2 355.4h0M183.4 354.8h0M186 354.8h0M229.9 354.3h0M231.5 353.6h0M234 354.1h0M237.8 355.4h0M240.3 355.4h0M243.6 355.3h0M246.1 354.8h0M250.2 354h0M251.3 353.6h0M254.5 354.6h0M258.7 354.9h0M261.7 355.5h0M264.2 353.6h0M266.5 355.5h0M269.7 353.6h0M273.3 354.7h0M274.4 354h0M279 353.8h0M280.7 355.3h0M283.7 355.5h0M287.4 353.7h0M290.9 353.8h0M292.3 353.8h0M296 355.5h0M299.6 354.8h0M300.8 355h0M304.1 355.4h0M306.6 353.9h0M310.4 355.2h0M313.1 354.7h0M315.8 354.6h0M318 354.4h0M322.3 354h0M324.2 353.7h0M327.4 354.2h0M329.9 354.9h0M333.3 354.6h0M336.5 353.9h0M338.4 354.2h0M342.4 354.4h0M163.7 356.8h0M166.6 357.5h0M170.2 357.8h0M172.3 356.7h0M174.7 356.4h0M179.1 357.8h0M181.8 357.9h0M183.4 357.6h0M186.2 357.9h0M189.6 357.3h0M191.8 356.9h0M224.5 356.8h0M226.8 358h0M231.2 356.6h0M233.1 356.1h0M236.9 356.6h0M239.1 358h0M241.8 356.5h0M245.5 357.8h0M247.6 357.7h0M250.3 357.6h0M254.6 356.3h0M256 356.1h0M258.6 356.8h0M262.4 356.7h0M265.3 358h0M268.2 357.1h0M271.8 356.5h0M273.7 356.7h0M277 356.6h0M280.6 356.8h0M283 357.1h0M285.2 357.8h0M288.3 358h0M291.1 356.4h0M294.6 357h0M296.6 357.7h0M300.7 356.8h0M302 356.5h0M306.2 357.4h0M308.7 356.5h0M311.9 357.5h0M314.8 356.3h0M316.8 357.1h0M320.4 356.3h0M323.5 356.3h0M326.5 357.2h0M329.6 357.2h0M331.8 357.7h0M335.3 356.8h0M338.7 357.7h0M339.9 357.3h0M164.8 358.8h0M168.7 360.6h0M170.1 360.1h0M174.8 359.4h0M175.9 360.5h0M179.6 359.5h0M183.3 359.5h0M185.3 360.4h0M188.7 359.7h0M191.4 359.1h0M194.9 358.8h0M197.9 360.6h0M200.2 359.9h0M202.8 358.9h0M206.2 360.1h0M210.6 359.5h0M214.7 359.3h0M219.9 359.7h0M222.4 360.1h0M227 358.6h0M228.7 359h0M231.9 359.4h0M234.8 359.2h0M237.5 359.5h0M241.5 359.2h0M244.2 359.4h0M245.9 358.8h0M249.2 360.3h0M252.1 360.1h0M254.4 359.6h0M258.9 360.4h0M261 359.4h0M263.7 360.4h0M266.9 360h0M270.4 358.8h0M272.9 358.6h0M274.6 359.5h0M277.6 359h0M280.4 359h0M283.4 360.2h0M286.5 359.1h0M289 360.1h0M293.7 359.4h0M296.4 358.8h0M299 359.8h0M301 359.6h0M304.3 359.2h0M306.9 359.1h0M309.4 360.2h0M312.5 358.8h0M316 360h0M318.7 360.4h0M322.8 360.4h0M325.6 359.1h0M327.8 359h0M330.8 360.2h0M332.5 360.3h0M335.8 359.8h0M339.1 360h0M342.4 358.8h0M163.8 361.9h0M166.4 361.3h0M170.1 362.3h0M172.6 362.9h0M175.9 361.2h0M178.6 361.7h0M181.8 362.9h0M184.2 361.9h0M187.5 362.4h0M189.9 363h0M193.6 362.3h0M194.7 362h0M199 363.1h0M201.4 362.4h0M204.7 363h0M206.9 362.9h0M210.7 361.2h0M213.6 361.6h0M215.4 362.5h0M219.1 361.8h0M222.6 362.7h0M224.1 362.2h0M227.2 362.7h0M230.6 362.7h0M232.4 361.7h0M237.1 361.4h0M238.9 362.2h0M241.2 361.8h0M244.2 361.7h0M248 361.4h0M250.8 361.4h0M254.3 361.6h0M257.2 361.6h0M260.2 362.8h0M262.9 362.7h0M265.9 363.1h0M268.8 363h0M271.4 362.5h0M274.1 361.7h0M276.9 361.4h0M280.5 361.6h0M283 361.4h0M286.1 361.7h0M288 362.7h0M292 361.4h0M293.9 362.9h0M296.3 362.6h0M300.4 361.3h0M303.3 362.9h0M305.7 361.2h0M308.2 362.7h0M320 361.7h0M323.5 362.1h0M327 363h0M329.2 362.8h0M331.5 361.3h0M335.4 361.4h0M338.7 362.1h0M341.3 362.9h0M342.8 362.4h0M162.7 364h0M164.9 363.8h0M168.5 364.8h0M171.5 363.9h0M173.2 363.8h0M176.8 364.2h0M180.6 364.2h0M183 364.8h0M186.4 365.6h0M188 364.3h0M191.1 365.4h0M194.9 364.3h0M197.9 364.2h0M199.2 364.4h0M202.2 364.1h0M205.7 364.3h0M209.2 365.1h0M212.4 365.2h0M214.4 364.3h0M218.2 364.9h0M221.1 365.4h0M223.6 364.1h0M226.8 364.3h0M229.3 364h0M231.7 365.6h0M235.2 363.7h0M236.9 363.9h0M239.9 365.2h0M243.7 365.4h0M245.8 365.2h0M250.2 364.3h0M253.1 364.3h0M255.9 364h0M258.9 363.9h0M261.4 365.1h0M263 365.6h0M267.3 365.1h0M270 364.5h0M271.6 365.5h0M276 364.6h0M277.9 364.7h0M281.2 363.8h0M284.4 364.5h0M287.9 365.6h0M290.3 365.1h0M291.8 365.5h0M295.9 365.3h0M297.6 365.5h0M300.6 363.9h0M304.9 364.1h0M330 364.1h0M333.7 364.8h0M336.3 364.7h0M338.6 363.7h0M341.7 363.9h0M344.1 365.5h0M160.5 367.5h0M162.7 367.6h0M165.8 366.7h0M170.2 367.3h0M171.9 366.7h0M175 367.7h0M178.6 367.9h0M180.4 366.3h0M183.6 367.2h0M187.1 367h0M190.8 367.7h0M191.8 368.1h0M196.3 366.4h0M198.3 367.9h0M200.6 366.6h0M205.3 367.5h0M206.8 366.7h0M211.1 366.3h0M212.7 366.5h0M216.8 366.7h0M219.1 367.5h0M221.1 367.9h0M224 366.6h0M227.5 367.3h0M231.2 367.1h0M234 366.2h0M235.5 367.4h0M238.4 366.8h0M242.4 366.4h0M245.5 367h0M248.2 366.8h0M250.1 367h0M253.4 367.3h0M256.3 367.8h0M259.1 368h0M263.2 367.7h0M265.8 367.3h0M267.7 366.4h0M270.7 367h0M273.1 367.6h0M277.4 367.9h0M279 367.7h0M282.4 366.9h0M286.2 367.1h0M288.1 366.8h0M291.8 367.9h0M294.6 367h0M297.7 367.3h0M299.6 367.9h0M302.5 366.3h0M306.8 366.2h0M338.1 366.8h0M340.6 367.8h0M344.3 367.5h0M159.3 369.1h0M162.5 369.5h0M164.4 370.1h0M167.6 370.3h0M171.8 369h0M174.4 369.9h0M175.8 369.6h0M179.9 370.6h0M181.7 370.1h0M184.9 369.6h0M188 369.3h0M190.6 369.5h0M193.8 370.3h0M196.3 369.9h0M200.8 368.9h0M203.2 369.4h0M206 370.2h0M208.6 370.1h0M211.4 369.1h0M214.6 370.5h0M217.5 369.3h0M220.6 370.2h0M223.6 370.7h0M227 369.6h0M229.7 369.1h0M232.9 368.8h0M234.7 370.2h0M238.5 370h0M239.7 368.8h0M242.5 369.7h0M245.8 370.4h0M250.2 369.4h0M252.3 369.2h0M254.1 369.2h0M258.8 369.7h0M260.5 369.9h0M263 370.2h0M266.7 369.5h0M270.6 370.5h0M273 370.1h0M274.5 370.4h0M278.6 369.3h0M282 369.8h0M283.8 369.4h0M287.9 370.5h0M288.9 369.5h0M293.2 370.3h0M296.3 368.9h0M297.8 370.4h0M301.5 369.2h0M303.6 369.3h0M339.3 368.8h0M341.7 368.9h0M345.4 370.2h0M158.9 372.8h0M161.2 372.2h0M163.6 371.9h0M166.6 372.3h0M168.7 372.2h0M171.8 372.1h0M175.3 372.3h0M177.5 371.2h0M182.1 371.8h0M183.7 372.7h0M187.5 371.2h0M189.3 371.9h0M192.5 373.1h0M195.8 373.1h0M198.7 372.9h0M200.5 373.1h0M204.5 371.3h0M207 372.5h0M211 371.9h0M213.8 371.7h0M215.9 373.2h0M218.3 372.8h0M221.6 372.8h0M225.2 371.4h0M227.3 372.8h0M231.2 372.2h0M232.6 372.2h0M235.6 373h0M239.9 371.5h0M242 371.4h0M245.8 372.7h0M248.1 372.9h0M250.9 371.3h0M253 371.7h0M256.6 372.4h0M259.4 371.5h0M262.4 371.8h0M266.1 373.1h0M267.3 372h0M270.6 372.7h0M273.2 372.2h0M277.6 372.1h0M279.7 372.2h0M282 371.8h0M284.6 372.4h0M288.9 372.1h0M290.8 373h0M293.3 371.4h0M296.9 373.2h0M300.5 371.3h0M303 371.4h0M343.6 371.4h0M159.7 373.9h0M163.2 374.3h0M164.8 373.9h0M168.8 375.3h0M171.4 375h0M174.2 374.8h0M177.2 374h0M180.4 374.9h0M183 374.7h0M185.6 373.8h0M187.5 375.7h0M191.6 374.1h0M193.8 375.3h0M197.3 375.2h0M200.7 374.8h0M203.6 374.2h0M205.5 373.9h0M209.1 374.7h0M212.3 373.9h0M214.9 374.8h0M216.9 374.2h0M220 375.6h0M224.1 374.3h0M225.3 374.5h0M229 375.6h0M231.6 374.3h0M233.9 375.4h0M236.8 375.6h0M240.4 374.6h0M243.5 375.5h0M246 373.8h0M249.6 375h0M251.3 375.5h0M255 375.7h0M258.3 373.9h0M261.4 374h0M264.7 375.4h0M267.6 375.2h0M270.2 375.3h0M272.8 374.1h0M275 375.5h0M277.9 375.7h0M280.3 374.4h0M285 374.5h0M287.7 374.8h0M289.8 374.7h0M292.3 374.8h0M295 374h0M299.2 374.6h0M302.4 374h0M303.5 375h0M345.8 374.2h0M155.6 377.6h0M158.7 376.3h0M160.8 376.5h0M162.9 378h0M165.9 377.8h0M169.4 377.4h0M173.3 377.3h0M175.3 377.1h0M177.5 377.6h0M181.7 377.3h0M183.2 376.4h0M187.7 378h0M190.3 377.9h0M193.5 376.6h0M195.7 377.7h0M198.1 378h0M201.3 376.7h0M204.8 377h0M207.2 376.3h0M209.7 377.3h0M212.5 376.4h0M215.2 378h0M217.9 376.8h0M221.1 376.9h0M224.5 376.7h0M226.8 377.3h0M229.6 377.4h0M233.8 377.5h0M236.5 376.6h0M239.5 377.9h0M241.9 376.8h0M245.7 377.4h0M248.4 376.8h0M250.5 377.2h0M254 376.6h0M255.9 376.9h0M260.4 377h0M261.4 378.2h0M264.3 377.8h0M268.6 376.3h0M270.8 376.4h0M273.6 377.7h0M277.8 377.9h0M280.6 378h0M282.7 376.6h0M285 376.6h0M288.1 377.8h0M292 376.4h0M294.3 377.5h0M297.5 377.1h0M300.2 376.5h0M303.4 376.3h0M154.3 378.9h0M157.2 380.1h0M160 378.9h0M163.2 379.2h0M165.7 378.9h0M168.4 379.1h0M171.3 379.2h0M173.3 380.5h0M177.2 380h0M180.5 380.3h0M182.8 379.8h0M185.6 379.3h0M187.8 378.8h0M192 380.2h0M194.2 379.9h0M197 379.8h0M200.8 379.8h0M203.2 379h0M205.4 379.5h0M208.3 380.8h0M211.3 380.2h0M213.8 380h0M217.1 380.5h0M219.9 379.1h0M223 379.5h0M226.5 380.6h0M229.5 379.1h0M230.9 379.2h0M234.1 379.7h0M238 379.6h0M241 379.4h0M244.2 380.3h0M246 379.3h0M248.6 380.7h0M252.3 378.9h0M254.9 380.7h0M258.2 378.9h0M261.4 380.4h0M263.1 379.3h0M266.8 378.9h0M268.9 380.6h0M272.1 380.7h0M274.7 379.5h0M277.5 380.4h0M281.8 379.5h0M283.3 380.2h0M287.5 379.2h0M289.3 380.5h0M149.7 382.2h0M152.3 381.9h0M154.1 382.6h0M157.8 382.4h0M161.8 382h0M164.7 382.4h0M166 382.9h0M170.1 383.1h0M172.8 382.4h0M175.3 381.4h0M179.2 382.1h0M181 381.4h0M183.5 381.7h0M187.8 381.3h0M190 382.3h0M191.8 382h0M195.3 383.3h0M199.2 382.9h0M201.4 382.3h0M203.6 381.8h0M207.2 382.2h0M211 382.1h0M212.2 382.8h0M215.3 383.1h0M218.2 382.3h0M221 381.8h0M224.3 383.2h0M227 381.9h0M229.6 382.7h0M234.3 382.9h0M236.2 381.7h0M238.6 382.8h0M241.3 381.9h0M245.8 382.8h0M248.8 383.3h0M250.2 381.7h0M253.8 382.3h0M256.6 381.9h0M260.3 381.4h0M261.6 382.8h0M265.9 382.6h0M268.3 382.5h0M271.6 382h0M274.8 381.4h0M277.7 382.6h0M280 382.8h0M282.1 381.5h0M285.4 381.6h0M150.6 384.4h0M154.6 384.8h0M156.3 384.7h0M160.3 385.3h0M162.9 385.7h0M165.3 384.6h0M168.1 384.5h0M172 384.4h0M172.9 384.5h0M177.1 385.2h0M178.9 385.5h0M182.5 385h0M185.5 384.8h0M188.9 385.3h0M191.8 384.6h0M193.9 385.6h0M197.6 384.6h0M199.9 385h0M203 385.7h0M206.6 385h0M209.1 385.3h0M211.4 384.1h0M215.2 385.3h0M217.4 384.9h0M220.3 384.7h0M223.4 385.8h0M225.4 385.4h0M229.2 385h0M231.5 385.2h0M235.4 384.8h0M238.7 384.4h0M241.4 384.9h0M244.2 385.6h0M247.4 384.6h0M250 384.6h0M251.9 384.5h0M255.8 383.9h0M258.6 384.9h0M260.5 385.4h0M263.6 384.8h0M266.2 385.5h0M269.5 385.1h0M271.5 384.5h0M274.8 384.9h0M277.8 385.3h0M170.5 387.5h0M173.3 387.1h0M175.8 387.7h0M178.6 387.9h0M180.3 386.5h0M183.3 388h0M187.9 387.8h0M189.2 387.2h0M193.5 388.1h0M194.7 387.7h0M198.8 388h0M201.7 388h0M205.2 387.7h0M206.6 387.6h0M211 386.9h0M213 388.2h0M216.7 387.8h0M219.7 388.1h0M221.8 386.4h0M224.9 386.6h0M227.2 387.1h0M231.1 387.8h0M233.4 388.3h0M236.5 386.5h0M238.2 386.6h0M241.4 387.9h0M244.3 388.2h0M248.2 388.3h0M250.7 388h0M254 386.5h0M256.9 387.1h0M259.4 386.6h0M261.5 387.8h0M266.1 386.6h0M268.4 386.7h0M271.1 387.6h0M273.9 388h0M276.3 387h0M278.8 387.3h0M174.6 389.2h0M176.3 389.6h0M179.3 389.2h0M182.8 389h0M184.7 389.3h0M188.1 389.9h0M190.5 390h0M193.7 389.6h0M197.9 390.4h0M199.1 389.6h0M202.8 389.7h0M204.9 390.2h0M207.9 389.7h0M211.1 389.9h0M214.6 389.7h0M218.2 390.3h0M220 389.8h0M223.9 389.6h0M225.4 390h0M229.8 389.6h0M232 389.6h0M235.7 390.3h0M237.8 390.1h0M241.3 390.2h0M243.1 390.4h0M246 390.9h0M249.6 390.6h0M252 390.8h0M255.4 389.7h0M257.1 390.7h0M261.1 389.8h0M262.8 389.7h0M266.9 389.6h0M270.4 389.7h0M271.5 390.5h0M275.3 388.9h0M277.3 390.7h0M175.8 392.1h0M177.5 392.6h0M180.6 392.7h0M185 392.5h0M187.3 391.8h0M190.1 392.2h0M193.3 392.8h0M196.6 393.2h0M199.4 393.4h0M200.8 391.9h0M203.6 391.9h0M206.3 392.6h0M210.6 391.9h0M212.5 391.4h0M215.7 392h0M218.6 392.5h0M221.6 393.1h0M225.3 393.2h0M226.6 391.7h0M230.5 392.1h0M232.8 392.6h0M239.7 392.9h0M241.9 391.8h0M245.3 392.1h0M247.6 391.9h0M251.3 392.3h0M254.4 391.7h0M255.9 392.5h0M258.5 393.2h0M263 392.2h0M264.4 391.9h0M267.7 393.2h0M271.9 391.7h0M274.6 392h0M275.9 392.5h0M176.2 394.3h0M179.3 394h0M182.7 394.1h0M185.4 395.2h0M189 395.3h0M191.4 394.4h0M193.9 394.4h0M198.1 394.2h0M200.9 394h0M202.8 395.3h0M206.7 394.6h0M208.1 393.9h0M211.8 395.7h0M214 395.7h0M217.2 394.1h0M219.7 395.2h0M223.2 395.6h0M225.7 394.7h0M248.6 394.8h0M252.1 394.4h0M255.2 394.1h0M258.4 394.3h0M260 394.9h0M265.8 394h0M175.1 397.9h0M178.1 397.6h0M181.1 397h0M184.1 397.8h0M186.9 397.8h0M190.8 396.9h0M192.9 397.8h0M195.4 397.1h0M199.1 398.2h0M201.6 397.4h0M204.8 397.5h0M208.1 398.2h0M209.4 398.1h0M213.4 396.8h0M215 396.6h0M218.9 397.3h0M222.3 396.9h0M224.4 397.4h0M177.3 399.6h0M179.6 400.8h0M182.8 400.5h0M186.4 400.9h0M189 399.2h0M191.7 400.1h0M194.7 399.6h0M197.4 399.2h0M199.5 399.8h0M203.2 400.2h0M206.6 400.4h0M208.9 400.3h0M212.1 400.2h0M213.5 400.4h0M217.2 399.4h0M221 400.5h0M222.6 399.4h0M175.9 403h0M178.5 401.8h0M181.8 403.1h0M184.3 401.8h0M187.6 401.5h0M189.6 402.9h0M193.5 403.3h0M195.1 401.7h0M197.7 403.4h0M201.4 401.6h0M203.8 403h0M206.8 401.8h0M209.7 402.6h0M212.5 401.8h0M215.7 402.4h0M218.2 401.7h0M176.6 405.3h0M179.3 405.4h0M182.5 404.8h0M186.2 405.4h0M189 405.9h0M191.6 404.4h0M193.9 405.9h0M196.7 405.9h0M200.5 404.7h0M202 404h0M205.5 404.5h0M208.6 405.7h0M211.3 404.7h0M175.5 407.6h0M193.1 407.4h0M194.9 407.7h0M199.1 406.8h0M201.7 406.8h0M205.2 407.8h0M207.4 408.1h0M210.4 407.7h0M213.6 407.9h0M202.8 410.8h0M206.3 410.8h0M207.8 409.5h0M212.1 410.5h0M207.5 411.9h0M209.4 412h0M212.6 412.5h0M212.3 415h0M175.9 417.8h0M174.2 425.9h0M172 427.1h0M171.4 429.6h0M170 432.8h0" stroke="#8A5CFF" stroke-width="7.8" stroke-linecap="round" fill="none"/>
<path d="M312.2 362.2h0M313.8 361.9h0M317 362.6h0M308.1 365h0M309.5 364.5h0M312.1 364.5h0M317 363.9h0M319.6 365.1h0M322.2 364.6h0M324 364.7h0M326.9 365.4h0M308.8 367.3h0M311.5 367.3h0M315.4 366.4h0M317.8 367.4h0M320.7 368h0M322.3 366.6h0M325.4 367.2h0M328.4 367.2h0M332.4 367h0M334.4 368.1h0M308.3 369.5h0M310.8 369.9h0M313.6 370.5h0M315.2 370.2h0M318.5 369.4h0M320.9 369.6h0M325.7 369.7h0M327.6 370.2h0M330.3 370.2h0M334.2 369.3h0M336.8 369.8h0M305.7 371.9h0M309.1 371.5h0M310.7 371.7h0M315.5 373.1h0M316.7 372.8h0M320.3 373.2h0M322.5 371.6h0M326.4 372.5h0M328.1 371.2h0M331.5 371.7h0M334.1 372.8h0M337.9 372.4h0M340.9 372.4h0M306.8 374.6h0M310.1 374.6h0M313.1 374.3h0M315.4 374h0M318.6 375.2h0M322.1 374.5h0M324.3 374.6h0M327.7 374.3h0M330.3 375.2h0M333.3 374.8h0M336.6 374.6h0M338.4 374h0M341.5 375.1h0M305.9 377.7h0M308.7 377.2h0M310.8 377.3h0M314.7 376.8h0M316.9 378h0M321.1 377.7h0M323.3 376.3h0M326.4 376.5h0M329 377.6h0M332.8 377.5h0M335.5 378h0M338.2 378h0M339.8 377.9h0M344.1 377.6h0M347.2 377.9h0M292.1 380.2h0M295.6 379.3h0M299 380.1h0M300.6 380.1h0M303.4 380.5h0M307 379.8h0M311 380.1h0M313.6 379.8h0M316.1 379.6h0M318.7 379.2h0M322.3 380.6h0M325.4 379h0M328.1 380.3h0M329.8 380.7h0M333.7 379.5h0M336.4 379.6h0M339.5 380.3h0M342.6 379h0M345.2 380h0M347.1 380.2h0M288 381.8h0M291.6 382.8h0M294.1 382.2h0M296.9 382.9h0M299.6 382.7h0M302 382.7h0M305.5 383.3h0M308.4 382.8h0M310.9 383.1h0M314.1 382.1h0M317.5 381.9h0M320.6 382.7h0M323 383h0M325.4 381.3h0M329.1 381.8h0M330.9 381.4h0M335.6 381.4h0M337.8 382.4h0M340.9 383.2h0M344.4 381.5h0M346.1 383.1h0M281.7 385.3h0M283.2 385.5h0M287.1 385.2h0M290.7 383.8h0M293 384.6h0M296.5 385h0M298.8 384.7h0M302.2 384.1h0M304 384.3h0M306.5 384.4h0M311.1 384.2h0M312.8 385.1h0M316.3 384.1h0M319 385.3h0M320.9 385.2h0M325.5 385.2h0M327.4 383.9h0M330.2 385.6h0M333.9 385.1h0M336.3 385.1h0M339 385.5h0M341.9 385.2h0M344.7 384.7h0M282.5 386.4h0M286.2 387.3h0M288.3 386.5h0M292 387.9h0M293.9 386.5h0M297.2 387.9h0M300.7 388.3h0M302 386.6h0M305.1 388.1h0M307.9 388.3h0M311.7 387.5h0M314.2 387.1h0M318 387.7h0M320.3 388.2h0M322.9 387.6h0M325.2 387.7h0M329.1 388h0M332.1 387h0M335.3 387.2h0M338.3 387.8h0M341.1 388.2h0M343.9 388h0M280.8 389.8h0M283.5 390.2h0M288 389.1h0M289.1 389.5h0M291.9 390.5h0M296.2 390.5h0M297.6 390h0M301.8 390.1h0M305 389.9h0M307.3 389.8h0M310.5 390.5h0M312.1 389.7h0M315.3 389.9h0M319 389.5h0M322.2 389.2h0M324.7 390.3h0M328.5 390.4h0M329.9 390.3h0M333.8 390.3h0M337.2 389.7h0M339.6 389.2h0M341.8 390.6h0M344.2 390.1h0M235.5 392.9h0M279.2 391.9h0M282 393h0M285.4 391.7h0M288 391.6h0M291.5 391.9h0M294.7 393.2h0M297.3 391.8h0M300.2 392h0M303 391.5h0M305.7 391.7h0M308.9 392.6h0M311.9 392.9h0M315.3 393.3h0M318.1 392.5h0M319.7 392.4h0M323.8 393.2h0M327 392.1h0M328.9 392.5h0M331.4 391.4h0M334.2 393.1h0M337 392.4h0M340.1 393.3h0M229.5 395.3h0M231.6 395.2h0M235.6 395h0M238 394.9h0M240.9 395.1h0M243.1 394.9h0M247 395h0M263.6 395.1h0M270.4 395.3h0M272 394.2h0M275.9 394.7h0M277.8 395.3h0M281 395.7h0M283.1 394.3h0M287.4 394.1h0M289.7 394.9h0M293.6 395h0M294.8 395.1h0M299 395.6h0M301.8 394h0M304.6 394.8h0M306.4 395.6h0M309.8 394.9h0M312.4 395.2h0M316.8 395.5h0M318.7 394.9h0M321.5 395.8h0M325.7 395.7h0M327.9 395.7h0M331.3 395.5h0M333.1 395.3h0M335.8 394.3h0M227 397h0M229.8 398.2h0M233.5 398.1h0M235.6 398.3h0M239.8 397.1h0M242.3 396.5h0M245.3 397.5h0M248.4 398.1h0M250.4 398.3h0M254.2 396.6h0M256.4 396.6h0M260 396.9h0M262.9 397.5h0M264.9 398.3h0M267.7 397.3h0M271.7 397.2h0M273 396.6h0M277.1 396.7h0M280.4 396.8h0M281.8 396.6h0M285.7 397.8h0M288.5 397.1h0M290.6 397.7h0M295.1 396.9h0M296.5 397.3h0M300.3 398h0M303.9 397.4h0M305.5 397h0M309.7 396.6h0M311.3 397.6h0M315 397.4h0M317.3 396.5h0M321.2 396.6h0M323.6 396.5h0M325.6 398.4h0M329.2 397.6h0M332 397.9h0M335.3 397.8h0M337.6 397.5h0M225.6 400.7h0M228.4 399.8h0M232.6 399h0M234.5 399h0M238.7 400.7h0M241.3 400.8h0M243.9 400.1h0M246.8 400.2h0M248.6 400.8h0M252.1 400.7h0M254.9 400.1h0M257.5 400.7h0M261.7 399.6h0M264.6 400.7h0M267.4 400.2h0M269 400h0M273.4 399h0M274.9 400.6h0M278.8 399.4h0M282.1 399.2h0M283.6 400.5h0M287.3 399.5h0M289.5 400.3h0M293.7 400.2h0M296.2 399.1h0M298.4 399.4h0M301.8 399.7h0M304.7 399.1h0M306.4 399.3h0M309.7 400.9h0M313.7 400.4h0M316.2 399.2h0M319.7 400h0M321 399.5h0M324.3 399.5h0M326.7 400.5h0M330.1 399h0M334 400.5h0M222 402.9h0M224.7 401.9h0M227.6 402.4h0M230.2 403.4h0M233.9 401.7h0M235.8 402h0M238.9 402.8h0M242.8 401.8h0M244.8 403.1h0M247.4 403.3h0M251.2 402.5h0M254.6 403h0M256.2 402.1h0M260.1 403.3h0M262.2 403.4h0M264.6 401.8h0M268 402.3h0M270.1 402.2h0M273 402.5h0M277.1 403.4h0M279.7 401.5h0M282.8 403.2h0M284.8 403h0M288.4 401.7h0M291.5 402.9h0M293.4 403.1h0M297 402.2h0M299.9 401.6h0M302.2 401.5h0M305.6 402.4h0M308 403.3h0M312.6 402.6h0M314.9 402.3h0M316.7 403.1h0M319.9 401.8h0M324.1 402h0M326.2 401.9h0M329.5 403.3h0M331.4 401.8h0M214.4 405.9h0M218.3 404.2h0M221 404.3h0M222.6 404.2h0M226.5 406h0M229.4 405.6h0M231 406h0M233.9 404.4h0M237 404.9h0M239.8 405h0M244.2 404h0M245.5 405.1h0M249 405.9h0M252.5 405.2h0M255.5 406h0M258.7 404.7h0M261.2 405.7h0M263.2 405h0M266.7 406h0M269.4 404.4h0M272.7 405.9h0M275.5 405.4h0M279.2 404.7h0M282 405.2h0M283.4 405.6h0M286.3 404.3h0M289.7 405.3h0M292.6 405.2h0M295.5 404.5h0M298.1 405.5h0M301.9 404.9h0M303.8 404.5h0M307.5 404.8h0M310.2 404.6h0M313 405.8h0M315.6 404.9h0M319.8 404.3h0M320.8 404.9h0M323.7 404.3h0M327.5 404.6h0M216.7 407.7h0M218.5 406.7h0M221.2 408.5h0M225.4 407.2h0M227.7 407.2h0M230.7 406.7h0M232.6 407.5h0M235.9 407.9h0M239.8 407.9h0M242.7 406.6h0M244 408.4h0M248.5 408.5h0M251.5 406.6h0M254.2 407.3h0M257.1 407.5h0M258.8 406.7h0M262.4 406.9h0M264.4 407.1h0M267.4 407.6h0M271.8 407h0M274.8 408.5h0M277.2 406.7h0M280.1 406.6h0M281.9 407.2h0M286.1 407.2h0M287.5 407.6h0M290.5 408.4h0M295.2 407.8h0M296.4 407.5h0M300.2 407.8h0M302.7 406.6h0M305.2 406.7h0M309.3 408.5h0M312.3 407h0M314.3 408.2h0M317 407.6h0M215 409.7h0M217.4 409.7h0M221.1 410.1h0M223.6 410.1h0M227 410.7h0M230 409.4h0M232 409.7h0M240.7 410h0M242.7 409.6h0M247.1 411h0M249.3 409.2h0M252.4 411h0M255.4 409.1h0M257.4 410.4h0M260.3 410h0M263.1 409.8h0M267.1 411h0M269.4 410.1h0M273 410.4h0M275.1 409.3h0M277.3 410.8h0M281.9 409.4h0M284.5 410.9h0M286.3 410.5h0M289.2 410h0M291.8 410.5h0M296.5 410h0M299.3 409.3h0M301.1 409.2h0M305.1 409.4h0M216.9 412.7h0M219.2 412.9h0M221.5 413.2h0M224.7 412.7h0M228.1 412.1h0M230.6 412.3h0M234.3 412.5h0M242.6 412.8h0M245.3 413.2h0M247.3 412.4h0M251.5 412.8h0M254.1 411.9h0M255.6 412.7h0M259.4 412.7h0M261.8 412.7h0M265.2 413.4h0M268.6 411.7h0M270.1 412h0M273.7 411.9h0M276.4 412.2h0M279.5 413.1h0M283.4 412.8h0M285.4 413.2h0M287.7 412h0M290.5 411.9h0M214 414.4h0M216.7 414.7h0M219.9 415.8h0M223.2 415.8h0M226.5 415.2h0M229.8 415.7h0M232.8 415.3h0M246.5 414.3h0M249.7 415.2h0M252.1 415.4h0M254.7 414.7h0M258 414.3h0M260 414.6h0M262.8 414.8h0M267.2 414.9h0M215.1 417.1h0M218.5 417.3h0M222.2 416.7h0M225.3 418.4h0M226.9 418h0M230.8 417.1h0M234 417.6h0M217.8 419.3h0M219.8 419.9h0M223.9 420.4h0M226.1 419.4h0M228.1 419.3h0M230.9 419.9h0M235.3 421.1h0M220.8 422h0M223.7 422.7h0M228 422.7h0M230 422.3h0M233.5 422.6h0M223.5 426h0M226.6 425.1h0M229.7 424.2h0M231 425.5h0M235.3 425.1h0M222.3 427.2h0M233.2 427h0M235.8 427.8h0" stroke="#8FB545" stroke-width="7.8" stroke-linecap="round" fill="none"/>
<path d="M177.9 408h0M181.2 407h0M184 406.5h0M187.5 408.5h0M190.2 407.5h0M174.8 409.1h0M176.2 409.2h0M178.9 410.7h0M182.2 409.3h0M186 409.1h0M187.6 409.8h0M190.5 410.1h0M195 410.9h0M197.1 410.3h0M199.9 410.2h0M172.5 411.8h0M174.7 412.4h0M178.7 411.9h0M182.1 412.8h0M184.3 412.1h0M187.3 411.8h0M190.2 413.5h0M193.2 411.9h0M194.7 411.6h0M199.4 411.6h0M200.5 412.4h0M203.7 413.2h0M175.9 414.4h0M178.9 415.2h0M182.2 415.6h0M184.6 415.3h0M188.6 416.1h0M190.7 414.8h0M193.5 414.6h0M197.7 415.6h0M200.5 415.4h0M201.9 415.8h0M205.3 414.7h0M209.6 415.9h0M177.3 417.8h0M181.2 418.2h0M183.9 417.7h0M186.3 417.8h0M189.1 417.1h0M193.5 416.8h0M195.5 416.7h0M198.8 416.7h0M201 417.3h0M203.6 416.9h0M206.9 417.3h0M211 417.5h0M212.8 418.3h0M176.1 419.8h0M180.5 420h0M181.8 419.2h0M185.8 420h0M189 420.5h0M192.2 420.9h0M194 419.4h0M197.1 419.3h0M199.9 420.4h0M202.8 420.4h0M206.2 420h0M209.4 419.2h0M211 420.3h0M213.7 420.2h0M175.6 422.9h0M177.7 422.9h0M181.9 422.6h0M184.2 421.8h0M187.5 423.6h0M189.2 422.6h0M193.7 421.9h0M195.6 423.3h0M198.3 423.1h0M200.8 421.8h0M204.4 422.7h0M207.8 422.5h0M211 421.8h0M213 422.7h0M216.8 422.3h0M218 423.5h0M176.7 425.6h0M179.5 425.3h0M182.6 425.9h0M185.9 424.8h0M188.3 424.5h0M190.6 425.1h0M195.2 424.6h0M197.3 425.5h0M200.7 424.9h0M202.7 425.4h0M206.2 424.8h0M209.6 425.8h0M211.4 425.3h0M213.9 425.4h0M216.7 425h0M220.1 426.1h0M175.9 428.6h0M177.6 427.1h0M180.9 428.5h0M184 428h0M186.7 427.6h0M189.5 427.9h0M192.3 426.9h0M194.9 426.7h0M199 428.6h0M202 428.4h0M203.4 427.3h0M207.1 427.9h0M209.6 426.8h0M212.3 427.2h0M216.6 427.2h0M219 426.8h0M173.5 430h0M177.3 430.7h0M179.5 429.9h0M183.3 429.6h0M185.4 431.1h0M189.2 430.1h0M190.8 429.7h0M193.6 430.5h0M197.6 430.7h0M200 430.5h0M202.8 429.9h0M205.5 430.3h0M208.8 430.6h0M211.8 431.2h0M214.7 430.4h0M217.3 429.7h0M219.4 430.9h0M171.6 432.8h0M175.6 433.3h0M178.1 433h0M182.1 433.4h0M183.7 431.9h0M186.4 433.2h0M190.6 431.9h0M192.4 432.4h0M196.3 432.7h0M197.8 432.9h0M200.7 432.4h0M204.4 431.9h0M207 433.6h0M210.6 433.6h0M212.8 433h0M215.4 433.6h0M218.8 432.7h0M171.5 435.4h0M173.6 434.3h0M176.3 434.9h0M180.4 434.5h0M181.9 435.1h0M186.4 435.7h0M187.7 435.4h0M190.7 435.8h0M195.1 436.2h0M197.7 435.5h0M200 436.1h0M203 435.3h0M206.3 434.5h0M207.7 435.4h0M212 435.5h0M215.1 436.3h0M216.8 435.3h0M167.3 438.4h0M168.9 436.8h0M173.4 437.1h0M175.2 438.3h0M178.7 437h0M181.7 437h0M184.7 438.4h0M187.8 438.1h0M188.9 437.8h0M192.6 437.5h0M195.4 437h0M199.2 437.8h0M202.2 438.8h0M203.6 437.5h0M208 438.2h0M210.4 438.5h0M212.4 437.7h0M215.8 437.9h0M218.7 438h0M168.7 440.5h0M170.4 440.4h0M173.6 439.4h0M176.8 441.3h0M179.4 439.7h0M183.1 440.5h0M185.1 440.2h0M188.3 440.3h0M191.3 441.2h0M194.8 439.9h0M197 441.2h0M199.1 441h0M202.9 441.3h0M204.8 439.9h0M209 439.5h0M211.6 439.7h0M214.1 440.1h0M217 441.1h0M220.2 439.6h0M167.4 443.1h0M170.4 443.8h0M171.5 442.9h0M175.3 443.1h0M177.4 442.8h0M181.2 443.5h0M185 442.5h0M187.1 442.3h0M190.4 443.8h0M192.7 442.9h0M195.2 443.2h0M197.7 442.5h0M201.3 442.4h0M204 442h0M206.4 443.6h0M210.1 442.5h0M212.7 443.5h0M215.4 442.9h0M219.8 442.3h0M221.2 443.7h0M163.2 446h0M165 444.6h0M167.3 444.5h0M171 445.1h0M173.5 446.2h0M176.2 444.8h0M180.5 444.8h0M181.7 445.8h0M184.9 445.6h0M188.4 445.9h0M192.1 446.2h0M193.6 444.4h0M196.2 445h0M200 444.9h0M203.5 445.1h0M205 444.5h0M207.9 445.1h0M211 444.8h0M215.4 444.9h0M216.9 446.2h0M220.3 446.3h0M164.1 447.4h0M165.8 447.5h0M169.8 447.5h0M172.9 447.7h0M176.2 447.2h0M177.7 448h0M181.4 448.7h0M183.6 448h0M187 447.4h0M190.1 447.1h0M191.9 448.3h0M195.2 448.6h0M198.5 447.6h0M202 447.6h0M203.7 448.3h0M208.1 447.3h0M209.9 447.5h0M212.7 447.3h0M215.8 447.1h0M218.6 447.6h0M221 447.3h0M158.9 450.8h0M161.9 451h0M166.1 449.7h0M168.5 450.1h0M171.7 449.7h0M174.1 449.9h0M176.2 450.7h0M178.8 451h0M182.2 451h0M186.3 451.3h0M188.2 450.1h0M192.1 451.3h0M195 450.1h0M197 451.4h0M200.7 450.7h0M202.9 449.9h0M206.7 451.3h0M209.1 450.1h0M212.4 449.6h0M213.8 449.5h0M217.2 450.9h0M221.2 451h0M158.3 453.3h0M160.4 452.8h0M164.2 452.8h0M166.9 452.1h0M169.3 453.3h0M171.6 453.3h0M174.5 452h0M178.2 452.2h0M181.3 452.8h0M184.1 453h0M186.2 452h0M188.8 453h0M193.5 453h0M194.9 453.6h0M198.7 452.6h0M201.2 453.2h0M204 452.7h0M208.2 453.5h0M209.9 453.4h0M214 452.4h0M216 453.4h0M155.6 456.1h0M160.1 454.9h0M162.7 455.7h0M165.7 455.4h0M167.9 455.4h0M170 455.1h0M173.1 456.1h0M177.6 454.9h0M180.4 455.1h0M183.1 456.4h0M186.3 456.3h0M187.8 455.4h0M191.5 454.7h0M195 455.6h0M196.7 456.3h0M199.2 455h0M202.2 455.5h0M206.1 455h0M208.6 454.8h0M211.4 456.2h0M214.5 455h0M155.7 457h0M157.4 457.8h0M160 457.8h0M163.1 457.7h0M167 458.6h0M169.2 457.3h0M172.8 458.6h0M175.5 457.8h0M178.1 457.2h0M181.7 458.2h0M184.8 458.4h0M186.2 458.5h0M189.9 457.2h0M193.5 458.4h0M196.2 457.1h0M199.2 458.4h0M201.3 457.8h0M204 457.9h0M206.5 457.3h0M210.3 458h0M154.1 460.9h0M156 460.6h0M159 459.9h0M162.7 460.4h0M165.8 460.8h0M168.9 459.9h0M170.1 461h0M173 460.2h0M177.4 460.7h0M180.1 461.4h0M182.4 459.6h0M185 460.9h0M189.1 460.1h0M192.1 460.6h0M194.8 461.2h0M197.5 459.7h0M199.6 459.8h0M203.9 460.5h0M205.3 459.8h0M209.3 460.2h0M151.9 463.7h0M154.4 462.1h0M157 462.7h0M160.2 463h0M162.9 462.7h0M166.9 463.2h0M169.2 463.9h0M172 463h0M175.5 463.9h0M177.2 463.7h0M180.2 462.6h0M183 464h0M186 463.4h0M188.9 462.4h0M192.5 462.8h0M196.6 463.6h0M198.8 463h0M200.9 464h0M204.6 463.2h0M150.2 464.9h0M153.1 464.8h0M155.9 465.9h0M158.8 466.4h0M162.9 466.1h0M164.6 465.1h0M168.6 464.8h0M170 466.2h0M174.1 465.7h0M176.4 465.3h0M179.2 465.5h0M182.8 464.9h0M186.3 465h0M187.4 466.5h0M192.1 466.6h0M194.2 466.2h0M197.7 464.9h0M158.3 467.1h0M166.7 467.1h0M170.3 468.9h0M171.7 468.1h0M174.9 467.4h0M179.2 468.7h0M181.9 468.9h0M183.8 467.7h0M187.6 467.7h0M190.6 468.3h0M193 467.3h0M168.2 470h0M174.5 471.3h0M179.9 471.1h0M183.5 470.7h0" stroke="#44B000" stroke-width="7.8" stroke-linecap="round" fill="none"/>
<path d="M373.3 334.9h0M376.4 334.1h0M380 333.8h0M383.1 334.2h0M385.8 335.1h0M389.3 335.1h0M391.9 334h0M394.7 335h0M369.2 336.8h0M371.9 337.4h0M375 337.9h0M378.5 336.2h0M382 336.4h0M384.8 336.5h0M387 337.7h0M390.3 337.1h0M393 337.7h0M368.9 340h0M370.6 338.8h0M374.1 339.2h0M376.9 339.6h0M380.4 338.8h0M382.8 338.5h0M385.7 339.2h0M388.1 339h0M391 339.8h0M394.5 339.3h0M397.1 340.2h0M400 339.7h0M367.7 341.7h0M370.4 342.2h0M372.3 341.9h0M375.5 342.9h0M379 341.3h0M380.2 341.3h0M384 342.6h0M386.7 341.1h0M390.7 342h0M393.7 342.7h0M394.9 342.2h0M399.6 341.7h0M401.8 341.7h0M363.2 344.9h0M366.3 344.3h0M368 345.1h0M370.4 343.5h0M374.2 344.2h0M377.6 345h0M378.9 345.2h0M381.8 344.1h0M386.4 344.4h0M387.9 343.9h0M391.2 343.7h0M393.5 343.9h0M397.4 344.7h0M400 343.6h0M402.1 344.4h0M352.4 347.7h0M358.1 346.5h0M361.7 346.4h0M363.4 347.8h0M367.2 346.1h0M369.3 346.4h0M372.3 346.2h0M375.4 346.3h0M378.6 347h0M381.2 347.5h0M383.6 347h0M387.3 346.3h0M390.8 347.5h0M392.6 347.8h0M395.2 347.2h0M397.8 346.4h0M401.4 346.3h0M351.6 348.8h0M353.9 349.1h0M357.1 350h0M358.7 349.3h0M363.3 348.6h0M365.8 348.8h0M367.3 348.8h0M371.8 348.8h0M374.5 349.4h0M376.1 349h0M379 349h0M383.5 350.3h0M386.5 349.7h0M388.4 349.9h0M390.6 348.9h0M393.5 350.1h0M396.7 349h0M401.1 348.8h0M402.6 348.8h0M343.9 351.1h0M345.6 352.6h0M356 352.1h0M357.2 352.9h0M360.3 352.5h0M363.6 351.2h0M367.2 352.2h0M368.7 351.1h0M371.6 352.4h0M374.7 351.4h0M378.6 352.4h0M381 353h0M383.9 351.5h0M388 353h0M389.3 351.4h0M392.5 352.5h0M395.8 352.4h0M398.5 352.6h0M401.4 352.8h0M345 355.4h0M347.2 354.2h0M357.3 354.8h0M359.7 353.7h0M362.1 353.8h0M365.7 354.6h0M368.5 354.4h0M370.3 355.4h0M373.4 354.3h0M376.1 354.9h0M379.5 354.1h0M382.1 354.4h0M385.5 353.9h0M388.6 355.5h0M390.6 354.6h0M393.7 354.9h0M397.8 354.1h0M400.7 354.5h0M344.4 358h0M346 357.8h0M350 357.1h0M353 357h0M355.5 357.1h0M357.4 357.9h0M360 356.7h0M363 357.3h0M366.1 356.7h0M370.5 357.9h0M373.5 357h0M375 357.9h0M378.8 356.5h0M382.1 357.2h0M384.9 356.4h0M387 357.6h0M389.3 358h0M393.3 357.7h0M396.1 356.9h0M398.1 358h0M345.3 360h0M347.3 360.5h0M350.6 359.3h0M356.7 359.6h0M360.4 360.5h0M363.4 359.5h0M364.8 360.1h0M369.1 360.3h0M370.6 360.2h0M373.6 359.3h0M377.6 360.3h0M379.1 358.9h0M382.1 359.3h0M384.9 360h0M389.2 359.3h0M391 359.1h0M393.3 359.5h0M347.3 362.4h0M361.7 361.9h0M362.9 362.8h0M366.5 362.8h0M370.1 362.1h0M371.9 362.7h0M374.6 363.1h0M378.1 361.9h0M382 363h0M383.9 361.3h0M387.1 362.3h0M390.9 361.9h0M348.6 365h0M360.1 365.3h0M361.6 364.1h0M365.7 365.1h0M368.7 364.7h0M371.9 364.9h0M374.2 364.6h0M377 363.9h0M379.6 364.5h0M382.4 364.4h0M385.3 365.6h0M387.5 365.1h0M346.6 367.8h0M358.7 366.9h0M361.2 366.3h0M363 367.3h0M366.3 367.1h0M370.5 367.8h0M372.4 366.8h0M375.1 368.1h0M378.8 367.8h0M380.5 366.9h0M347.3 370.1h0M357.3 370h0M358.8 369.2h0M361.5 369.3h0M365.3 370.5h0M368.5 369.9h0M370.8 368.7h0M374.6 368.9h0M376.3 370h0M378.8 369.7h0M346.7 371.4h0M348.8 372.8h0M352 373.1h0M357.8 372.1h0M361.9 372.5h0M364 371.9h0M367.2 371.3h0M369.3 372.4h0M372.5 372.5h0M375 372.2h0M347.3 374h0M350.9 374.2h0M354 374.6h0M356.9 374.6h0M359.2 375.6h0M362.7 373.9h0M350.3 377.4h0M352.6 377.1h0M355.2 376.7h0M358.7 377.9h0" stroke="#EE9500" stroke-width="7.8" stroke-linecap="round" fill="none"/>
<path d="M392 434.8h0M387.6 438.1h0M389.2 437.5h0M393.5 436.8h0M395.6 437.8h0M400.7 437.4h0M388.8 440.3h0M391.2 439.4h0M395 439.7h0M396.5 439.6h0M399.7 439.7h0M403.7 439.1h0M405.8 439.5h0M387.8 441.3h0M389.8 442.9h0M393 442.4h0M395.1 442.4h0M397.9 442.2h0M401.5 442.4h0M404.3 441.2h0M408.1 443.2h0M388.5 445h0M390.7 445.2h0M393.6 444.5h0M397.8 445.5h0M399.5 443.8h0M403.9 443.8h0M405.1 443.7h0M409.5 445.5h0M411.1 445.3h0M414.3 445.1h0M390.7 447.5h0M393.3 446.8h0M395.3 448.1h0M399.3 447.2h0M401.6 447.6h0M404.6 447.1h0M406.7 448h0M411.3 446.8h0M412.6 447.8h0M415.7 447.6h0M395.3 449.7h0M400.3 449.5h0M402.5 449.2h0M406.3 449h0M409.7 450.5h0M412.5 449.7h0M413.9 450.7h0M416.7 450.5h0M405.5 452.7h0M407.3 452.6h0M410.2 452h0M412.3 452.8h0M415.9 452.7h0M419.1 452.4h0M421.1 452.9h0M411.9 454h0M414.5 454.8h0M418.3 455.3h0M420.9 454.5h0M422.9 455.6h0M416.6 456.9h0" stroke="#0080FF" stroke-width="7.8" stroke-linecap="round" fill="none"/>
<path d="M301.5 118.1h0M303.7 117.2h0M306 117.9h0M309.5 117.1h0M312.4 117.5h0M314.9 118.9h0M320.6 118.9h0M296.2 120.3h0M299 119.9h0M301.7 120.6h0M305.1 120.9h0M308.5 119.7h0M312 121.5h0M314 120.8h0M317.7 120.6h0M319.2 120.2h0M321.9 120.8h0M292.5 123h0M295.5 122.9h0M298.3 122.6h0M301.3 123.2h0M303.8 123.9h0M306.4 123.3h0M309.4 123.9h0M311.9 122.8h0M314.6 123.1h0M317.4 123.5h0M321.6 122.6h0M325.2 123.9h0M291.3 125.6h0M293.4 125.7h0M297.3 126h0M300.2 126.1h0M301.6 126.5h0M304.9 126.1h0M308.5 124.7h0M311.7 126.1h0M314.6 125h0M317.1 125.2h0M320.7 125.7h0M322.4 126.1h0M288.9 129h0M292.2 127.3h0M295.7 127.2h0M298.5 127.6h0M300.6 127.9h0M303.4 127.7h0M305.9 127.5h0M309.7 128.4h0M313.5 128.1h0M314.7 128.3h0M318.9 128.6h0M322.2 129.1h0M323.5 128.1h0M288.6 130.5h0M289.9 130.5h0M293.6 131.1h0M296.7 129.9h0M299.4 131h0M303.3 129.8h0M304.8 130.1h0M307.6 131.6h0M311.9 131.5h0M314.6 131.2h0M317.1 130.9h0M320.1 130.9h0M290.2 132.4h0M292 133h0M296 133.9h0M298.3 133.4h0M301.1 132.3h0M303.5 133.5h0M307.4 132.6h0M309.3 133.5h0M312.2 133h0M314.9 132.4h0M317.8 133.5h0M320.5 133.7h0M290.7 136.1h0M293.3 136.2h0M296.4 134.9h0M300.1 134.7h0M302 136h0M305.3 136h0M307.5 135.7h0M310.2 135h0M313.9 134.7h0M316.8 136.3h0M320.6 134.9h0M290.3 138.4h0M292.7 138.3h0M295 137.4h0M297.7 137.4h0M300.4 138.7h0M304.6 138.4h0M307.3 138h0M309.3 137.5h0M312.8 139.2h0M315.5 138.7h0M318.2 137.3h0M320.6 137.6h0M288.2 141.5h0M291.5 141.3h0M293.5 141.7h0M297.5 139.8h0M299.1 139.8h0M303.2 141.3h0M305.5 139.9h0M307.8 141.4h0M310.5 140.3h0M313.7 140.5h0M316.2 140.8h0M319.7 141h0M288.6 143.5h0M292.6 142.6h0M295.5 143.6h0M298.3 144.1h0M300.9 142.4h0M303.3 142.3h0M307.1 142.4h0M309.6 144.1h0M312.9 144.1h0M315.1 144.1h0M318.2 143.3h0M288 146.6h0M291.7 146.2h0M294.5 145.8h0M296.4 144.8h0M298.6 146.6h0M301.6 146.1h0M305.4 145.4h0M308.1 146.6h0M311.9 145.9h0M313.3 145.8h0M316 145.5h0M289.2 147.7h0M292 148.5h0M294.7 147.8h0M298.4 147.5h0M300.1 149h0M304.4 149.3h0M307.2 148.5h0M309.8 148.7h0M312.2 147.5h0M314.8 147.4h0M318 148.3h0M288.8 151.1h0M291.5 150.8h0M294 150.1h0M295.8 151.4h0M298.9 151.6h0M301.9 150.5h0M305.6 151.8h0M308.8 151.3h0M311.2 151.8h0M314.1 151.1h0M316.6 151.2h0M291.6 153.3h0M294.4 152.8h0M298.2 153.8h0M300.7 152.4h0M303.6 152.6h0M307.4 153.3h0M309.5 154h0M313 152.5h0M316.3 153.3h0M318.8 154h0M293.7 156.7h0M296.6 156.9h0M299.4 154.9h0M301.9 155.7h0M305.2 155.6h0M307.9 156.4h0M311.4 156.5h0M313.3 155.5h0M317.1 155h0M320.7 155.7h0M295.6 157.7h0M300.7 157.7h0M304.2 157.5h0M306.1 158.1h0M310.5 157.6h0M312.6 159.3h0M316.1 157.7h0M318.8 157.5h0M321.3 157.8h0M302.2 160.5h0M305.6 160.2h0M308.4 161.6h0M311.5 160.6h0M314.3 161.1h0M317.1 160.6h0M320.7 160.8h0M306.9 163.7h0M310.6 164.4h0M313.5 164h0M315.7 163.1h0M318.3 163h0M308.4 165.3h0M311.9 165.4h0M313.1 165.5h0M317 165.8h0M320 166.7h0" stroke="#E59C46" stroke-width="7.8" stroke-linecap="round" fill="none"/>
<path d="M241 382h0M244 386h0M238 386h0M246 381h0M242 390h0M248 388h0M236 381h0M263 393h0M266 405h0M262 399h0M152.5 353h0M171 369h0M155 379h0M150 372h0M163 376h0M168 383h0M158 371h0M190.7 408.6h0" stroke="#5300A2" stroke-width="7.2" stroke-linecap="round" fill="none"/>
<g fill="#5300A2" fill-opacity="0.7" stroke="#5300A2" stroke-opacity="0.9" stroke-width="1.5"><circle cx="204.3" cy="412" r="3.6"/><circle cx="197" cy="404" r="3.6"/><circle cx="175" cy="392" r="3.6"/><circle cx="182" cy="397" r="3.6"/><circle cx="231" cy="394" r="3.6"/><circle cx="254" cy="399" r="3.6"/><circle cx="258" cy="408" r="3.6"/><circle cx="209" cy="399" r="3.6"/><circle cx="222" cy="392" r="3.6"/><circle cx="147" cy="366" r="3.6"/><circle cx="176" cy="379" r="3.6"/><circle cx="268" cy="388" r="3.6"/></g>
<g fill="#8A5CFF" fill-opacity="0.55" stroke="#8A5CFF" stroke-opacity="0.8" stroke-width="1.5"><circle cx="332" cy="351" r="3.6"/><circle cx="338" cy="367" r="3.6"/><circle cx="322" cy="366" r="3.6"/><circle cx="312" cy="368" r="3.6"/><circle cx="327" cy="346" r="3.6"/><circle cx="165" cy="398" r="3.6"/><circle cx="158" cy="392" r="3.6"/><circle cx="236" cy="402" r="3.6"/><circle cx="229" cy="396" r="3.6"/><circle cx="240" cy="390" r="3.6"/><circle cx="262" cy="397" r="3.6"/></g>
<g fill="#8FB545" fill-opacity="0.55" stroke="#8FB545" stroke-opacity="0.8" stroke-width="1.5"><circle cx="200.6" cy="389" r="3.6"/><circle cx="225" cy="386" r="3.6"/><circle cx="228" cy="399" r="3.6"/><circle cx="246" cy="382" r="3.6"/><circle cx="252" cy="376" r="3.6"/><circle cx="258" cy="383" r="3.6"/><circle cx="313" cy="364" r="3.6"/><circle cx="338" cy="360" r="3.6"/><circle cx="357" cy="367" r="3.6"/><circle cx="356" cy="382" r="3.6"/><circle cx="349" cy="376" r="3.6"/><circle cx="233.4" cy="434.7" r="3.6"/><circle cx="241.1" cy="426.2" r="3.6"/><circle cx="260" cy="422.5" r="3.6"/><circle cx="232" cy="427" r="3.6"/><circle cx="226.5" cy="441.5" r="3.6"/><circle cx="227" cy="416" r="3.6"/><circle cx="230" cy="421" r="3.6"/></g>
<g fill="#EE9500" fill-opacity="0.55" stroke="#EE9500" stroke-opacity="0.8" stroke-width="1.5"><circle cx="345" cy="350" r="3.6"/><circle cx="347" cy="362" r="3.6"/><circle cx="352" cy="372" r="3.6"/><circle cx="350" cy="357" r="3.6"/><circle cx="344" cy="380" r="3.6"/></g>
<g fill="#44B000" fill-opacity="0.55" stroke="#44B000" stroke-opacity="0.8" stroke-width="1.5"><circle cx="221.5" cy="429" r="3.6"/><circle cx="223" cy="447" r="3.6"/><circle cx="227" cy="444" r="3.6"/><circle cx="214" cy="409" r="3.6"/><circle cx="226" cy="414" r="3.6"/><circle cx="153" cy="461" r="3.6"/><circle cx="160" cy="450" r="3.6"/></g>
<g fill="#0A86E0" fill-opacity="0.55" stroke="#0A86E0" stroke-opacity="0.8" stroke-width="1.5"><circle cx="227.6" cy="429" r="3.6"/><circle cx="233.5" cy="445.5" r="3.6"/><circle cx="228" cy="446" r="3.6"/><circle cx="165" cy="395" r="3.6"/><circle cx="151" cy="397" r="3.6"/><circle cx="186" cy="399" r="3.6"/><circle cx="197" cy="398" r="3.6"/><circle cx="160" cy="388" r="3.6"/></g>
<g fill="#0080FF" fill-opacity="0.55" stroke="#0080FF" stroke-opacity="0.8" stroke-width="1.5"><circle cx="374.4" cy="439.5" r="3.6"/><circle cx="380" cy="441" r="3.6"/><circle cx="377" cy="445" r="3.6"/></g>
<path d="M364 139.5L303.2 142.1M387.8 261L384.6 345.8M217.7 286.6L266.6 363.2M99 318L111.6 340.9M305 340.3L305 388.7M203.4 365.5L223.7 385.4M104.8 406.1L118.3 426M127.4 450.2L184 446.7M336.5 449.8L406.5 447.3" stroke="#BBBBBB" stroke-width="3.7" fill="none"/>
<rect x="364" y="115.4" width="62.9" height="50.8" rx="9" fill="#fff" stroke="#C0C0C0" stroke-width="1.5"/>
<rect x="364.5" y="114.9" width="62.9" height="50.8" rx="9" fill="#fff" stroke="#444" stroke-width="0.8"/>
<text x="380.4" y="148.2" font-size="27.8" textLength="28.8" lengthAdjust="spacingAndGlyphs">C1</text>
<rect x="348.5" y="210" width="78.4" height="51.3" rx="9" fill="#fff" stroke="#C0C0C0" stroke-width="1.5"/>
<rect x="349" y="209.5" width="78.4" height="51.3" rx="9" fill="#fff" stroke="#444" stroke-width="0.8"/>
<text x="364.4" y="243.1" font-size="27.8" textLength="48.3" lengthAdjust="spacingAndGlyphs">C10</text>
<rect x="182.1" y="235.9" width="62.7" height="51.2" rx="9" fill="#fff" stroke="#C0C0C0" stroke-width="1.5"/>
<rect x="182.6" y="235.4" width="62.7" height="51.2" rx="9" fill="#fff" stroke="#444" stroke-width="0.8"/>
<text x="197" y="268.9" font-size="27.8" textLength="34.6" lengthAdjust="spacingAndGlyphs">C5</text>
<rect x="65" y="267.5" width="62" height="51" rx="9" fill="#fff" stroke="#C0C0C0" stroke-width="1.5"/>
<rect x="65.5" y="267" width="62" height="51" rx="9" fill="#fff" stroke="#444" stroke-width="0.8"/>
<text x="79.5" y="300.4" font-size="27.8" textLength="34.6" lengthAdjust="spacingAndGlyphs">C6</text>
<rect x="273.2" y="289.8" width="62" height="51" rx="9" fill="#fff" stroke="#C0C0C0" stroke-width="1.5"/>
<rect x="273.7" y="289.3" width="62" height="51" rx="9" fill="#fff" stroke="#444" stroke-width="0.8"/>
<text x="287.7" y="322.7" font-size="27.8" textLength="34.6" lengthAdjust="spacingAndGlyphs">C4</text>
<rect x="157.4" y="314.9" width="62.7" height="51.1" rx="9" fill="#fff" stroke="#C0C0C0" stroke-width="1.5"/>
<rect x="157.9" y="314.4" width="62.7" height="51.1" rx="9" fill="#fff" stroke="#444" stroke-width="0.8"/>
<text x="172.2" y="347.8" font-size="27.8" textLength="34.6" lengthAdjust="spacingAndGlyphs">C3</text>
<rect x="64.6" y="355.9" width="62.3" height="50.8" rx="9" fill="#fff" stroke="#C0C0C0" stroke-width="1.5"/>
<rect x="65.1" y="355.4" width="62.3" height="50.8" rx="9" fill="#fff" stroke="#444" stroke-width="0.8"/>
<text x="79.2" y="388.7" font-size="27.8" textLength="34.6" lengthAdjust="spacingAndGlyphs">C8</text>
<rect x="64.6" y="425" width="62.3" height="50.8" rx="9" fill="#fff" stroke="#C0C0C0" stroke-width="1.5"/>
<rect x="65.1" y="424.5" width="62.3" height="50.8" rx="9" fill="#fff" stroke="#444" stroke-width="0.8"/>
<text x="79.2" y="457.8" font-size="27.8" textLength="34.6" lengthAdjust="spacingAndGlyphs">C7</text>
<rect x="273.2" y="425" width="62.8" height="50.8" rx="9" fill="#fff" stroke="#C0C0C0" stroke-width="1.5"/>
<rect x="273.7" y="424.5" width="62.8" height="50.8" rx="9" fill="#fff" stroke="#444" stroke-width="0.8"/>
<text x="288.1" y="457.8" font-size="27.8" textLength="34.6" lengthAdjust="spacingAndGlyphs">C2</text>
<path d="M597.7 314.3h0M600.9 314.7h0M604.4 314.7h0M607.1 314.4h0M588.7 317.1h0M591.3 316.6h0M593.4 317.5h0M598 317.6h0M599.9 317.3h0M602.7 316.2h0M606.6 316.1h0M607.9 316.8h0M610.8 317.3h0M615.2 317.1h0M618.1 316.7h0M619.2 316.7h0M622.7 316h0M625.7 317.4h0M629.4 317.4h0M581.7 319.1h0M583.9 319h0M586.3 319h0M588.8 319h0M593.2 318.3h0M594.7 320.1h0M599 320h0M600.9 320.1h0M603.8 319.7h0M606.7 318.2h0M610.9 319.5h0M612 318.7h0M616.8 320.1h0M618.3 319.1h0M622.5 318.6h0M625.1 319.9h0M627.7 318.9h0M630.1 319.8h0M632.7 319.7h0M580.5 320.9h0M583.1 321.1h0M585 322.4h0M588.3 322.6h0M590.8 321.8h0M593.2 321.1h0M597.9 322.1h0M599.3 322.3h0M602.9 322h0M606.5 321.9h0M609.4 321h0M611.8 321.5h0M614 322.7h0M617.1 322.3h0M619.6 322.2h0M623.8 321.3h0M627 321.9h0M628.6 320.8h0M631.1 322h0M634.8 322.5h0M637.1 322.1h0M639.5 321.5h0M578.2 324h0M580.6 324.2h0M584.5 324.8h0M586.6 323.9h0M590.5 324.6h0M592 324.2h0M595.7 323.5h0M599.3 323.8h0M601 324.7h0M603.6 323.6h0M606.8 324.3h0M609.7 323.7h0M613.4 323.5h0M615.1 324h0M619.4 324.7h0M621.1 324.6h0M624 324.1h0M627.3 324.9h0M630.4 324.5h0M632.6 324.5h0M636.7 325.1h0M639.2 324.8h0M641.4 324.7h0M645.4 324.7h0M648.1 324.6h0M650.3 324.5h0M653.4 324.8h0M574.1 327.4h0M577.2 327.6h0M578.7 326.4h0M581.9 327.6h0M585.8 327.4h0M588.6 327h0M591.6 327h0M593.6 327.1h0M597.6 326h0M599 327.3h0M603.2 326.5h0M606.3 326.9h0M608.2 326.6h0M611.4 327.1h0M613.5 326.9h0M616.6 327.4h0M621.1 326.7h0M622.9 327h0M627 326.7h0M628.1 327.1h0M631.1 325.8h0M635.1 326h0M636.8 327.5h0M639.6 327.2h0M643.9 326.2h0M646.9 327.2h0M649.7 326h0M652.6 326.7h0M654.5 327.7h0M657 325.8h0M573.3 330.1h0M574.6 329.2h0M579 330h0M581 329h0M583.9 329.6h0M586.3 328.4h0M589.9 328.6h0M592.2 329.1h0M595.1 330h0M597.8 329.3h0M602.2 328.5h0M603.4 330.1h0M606.6 329.3h0M609.6 328.7h0M614 330.3h0M615.1 328.9h0M617.9 329.8h0M622.6 328.4h0M624.3 328.6h0M628.2 329.4h0M630.3 330.1h0M633.4 328.6h0M636.7 329.7h0M638.2 328.5h0M642 328.9h0M645.1 329.7h0M648 328.7h0M651.2 329.1h0M652.7 329.9h0M657.2 330h0M658.4 330.1h0M663 328.9h0M665.9 329.1h0M667.8 329.5h0M570.9 332.4h0M574.7 331.1h0M575.7 332.4h0M579.6 332.8h0M582.4 332.4h0M585.7 331.6h0M588.3 332.3h0M591 332h0M593.8 332.4h0M597 331.7h0M599.5 331.1h0M603 331h0M605.4 332.5h0M609.6 331.3h0M612.4 330.9h0M614.6 331.8h0M617.9 331.9h0M620.3 331.9h0M622.9 331.6h0M625.7 332.7h0M629 331h0M631.6 332h0M635.5 332.8h0M637.5 332.1h0M640.2 331.9h0M642.8 331.5h0M647 331.9h0M650 332.2h0M653.1 332.6h0M654.4 331.4h0M657.9 331.2h0M661.1 332h0M664.7 332.1h0M666.5 332.4h0M669.9 330.9h0M570.2 334.5h0M571.9 334.2h0M575 333.4h0M578.7 333.9h0M581.8 334.6h0M583.5 333.6h0M586.3 335.2h0M589 334.8h0M593.2 335h0M594.8 335.3h0M599.3 334.7h0M602 334.6h0M603.4 334.8h0M607.2 335.2h0M610.6 333.5h0M613.6 333.9h0M616.8 334.6h0M618.3 333.5h0M621.5 333.8h0M623.9 334.8h0M627 333.8h0M630.3 335.2h0M632.9 335.1h0M636.3 334h0M639.2 334.9h0M642.3 334.6h0M645.4 335h0M647.4 334.1h0M649.8 333.9h0M654 334.3h0M656.1 334.3h0M658.7 333.5h0M663.3 334.9h0M665.6 335.3h0M667.3 334.3h0M670.4 334.5h0M870.4 334.9h0M873.5 334.1h0M877.1 333.8h0M880.2 334.2h0M882.9 335.1h0M886.4 335.1h0M889 334h0M891.8 335h0M567.9 337.6h0M570.2 335.9h0M574.4 336.3h0M576.3 337.3h0M578.9 337.6h0M582.9 337.5h0M584.5 336.6h0M588.3 337.6h0M590.3 336.3h0M594.5 336.7h0M596.4 337.6h0M600.7 337.1h0M602.5 336.3h0M605.9 336h0M608.4 336.8h0M611.3 336.6h0M614.6 336.6h0M617.3 337.9h0M619.5 337.2h0M622.7 336.9h0M626.2 336.9h0M629.9 336h0M632.4 337.6h0M635 337.2h0M637.2 337.5h0M641.4 337.3h0M644 337.4h0M646.6 336.6h0M649.1 336h0M651.8 337.9h0M654.8 336.4h0M657.6 336.2h0M661.6 336.8h0M663.9 336.5h0M665.8 336.5h0M670 337h0M672.1 337.7h0M866.3 336.8h0M869 337.4h0M872.1 337.9h0M875.6 336.2h0M879.1 336.4h0M881.9 336.5h0M884.1 337.7h0M887.4 337.1h0M890.1 337.7h0M565.9 339.9h0M568.8 339.8h0M572.1 340.2h0M576.1 340.4h0M577.7 340h0M580.2 339.4h0M583.9 338.6h0M587.9 339h0M589 339.4h0M592.5 338.8h0M594.9 339.9h0M597.7 339.1h0M602.2 339.1h0M605.2 340.2h0M606.7 338.8h0M609.2 338.5h0M612.8 339.5h0M614.9 339.8h0M618.9 339.5h0M622.7 340.2h0M624.4 339h0M628.4 339.2h0M630.2 338.7h0M632.3 339.6h0M635.7 339.6h0M638.6 338.8h0M642.7 340h0M644 339.8h0M648.1 339.5h0M651.6 338.4h0M654.3 339.4h0M657.5 338.9h0M659.9 339.2h0M662.1 339.5h0M665.5 339.1h0M668.2 338.9h0M670.5 340.2h0M674.3 339.5h0M866 340h0M867.7 338.8h0M871.2 339.2h0M874 339.6h0M877.5 338.8h0M879.9 338.5h0M882.8 339.2h0M885.2 339h0M888.1 339.8h0M891.6 339.3h0M894.2 340.2h0M897.1 339.7h0M567.6 341.4h0M570.2 342.8h0M573 341.1h0M577.6 341.8h0M579.2 342.7h0M581.8 341h0M584.5 342.6h0M587.8 342.1h0M591.4 341.2h0M593.8 342.6h0M597.6 342.9h0M599 341.7h0M602.3 342h0M605.7 342.4h0M609 341.2h0M610.8 342.8h0M615.3 342h0M617 342.4h0M621.1 341.1h0M623.9 342.1h0M625.2 341.2h0M629.7 342.6h0M632.7 341h0M635.7 341.6h0M638 341h0M640.4 341.4h0M642.8 342.5h0M645.5 342.1h0M649.3 342.5h0M652.1 341h0M654.2 342.2h0M658.1 341.6h0M661.2 341.3h0M664.6 341.6h0M667.4 341.9h0M668.7 342.7h0M672.4 342h0M675.3 341.3h0M678.3 341.7h0M777.2 342.4h0M780.4 342.8h0M783.1 342.6h0M785.7 341.8h0M789 342.7h0M792.3 342h0M793.5 342.9h0M796.6 342.6h0M799.4 341.9h0M864.8 341.7h0M867.5 342.2h0M869.4 341.9h0M872.6 342.9h0M876.1 341.3h0M877.3 341.3h0M881.1 342.6h0M883.8 341.1h0M887.8 342h0M890.8 342.7h0M892 342.2h0M896.7 341.7h0M898.9 341.7h0M569.6 344.4h0M573.2 344.9h0M574.4 344.1h0M579.1 345.2h0M581.3 344.6h0M583.8 345h0M586.5 345h0M589.9 344.3h0M593 345.1h0M595.4 345.4h0M598.9 344h0M601.5 345.1h0M604 343.7h0M607.9 343.8h0M609.4 344.1h0M612.6 344.2h0M616.8 343.8h0M619.7 343.9h0M621.6 343.7h0M624.4 344.2h0M627 343.9h0M630.3 345.1h0M633.8 344.1h0M636.7 344.4h0M639.4 345h0M641.7 345.3h0M644.5 344.7h0M648.3 343.5h0M650.8 344.2h0M653.1 343.9h0M656.6 345h0M659.2 345.1h0M661.9 344.7h0M665.5 344.8h0M667.9 345.3h0M670.7 344.2h0M673.6 343.8h0M676.9 344.5h0M680.5 343.7h0M681.7 344.3h0M767.3 344.5h0M770.1 343.5h0M772.3 343.6h0M775.8 344.6h0M778.3 344.6h0M781.9 345.4h0M785 344.1h0M786.1 344.4h0M789.8 344.8h0M792.7 344.1h0M795.5 344h0M799.1 344.5h0M800.9 344.9h0M803.9 344.6h0M860.3 344.9h0M863.4 344.3h0M865.1 345.1h0M867.5 343.5h0M871.3 344.2h0M874.7 345h0M876 345.2h0M878.9 344.1h0M883.5 344.4h0M885 343.9h0M888.3 343.7h0M890.6 343.9h0M894.5 344.7h0M897.1 343.6h0M899.2 344.4h0M568.9 347.2h0M570.4 348h0M573.6 347.6h0M577 347.5h0M578.8 347.9h0M581.6 346.1h0M586.3 346.4h0M589.2 347.3h0M590.8 346.3h0M594.7 346.2h0M597.5 346.4h0M599.3 347h0M603.4 347.8h0M604.7 347.7h0M609.3 347h0M611.7 347.6h0M613.5 347.1h0M617.1 346h0M619.3 347.6h0M623.1 346.2h0M625.5 346.8h0M629.9 347.1h0M631 347.4h0M635.4 346.2h0M637.2 347.5h0M640.8 347.9h0M642.5 346.1h0M646.7 347.2h0M649.2 346.8h0M652.4 347.8h0M655.6 347.8h0M658.4 346h0M661.5 346.8h0M663.1 347.9h0M667.1 346.5h0M669.2 346.6h0M672.3 347.9h0M676.2 347.5h0M679.2 347.5h0M680.6 346.8h0M683.5 347.8h0M762.3 347.9h0M764.8 347.5h0M767.3 346.6h0M771.4 346.9h0M773.1 347.8h0M777.5 346h0M779.2 347.7h0M783 346.5h0M784.9 347.8h0M788.8 347.2h0M790.7 346.3h0M795.2 346.7h0M797.3 346.4h0M799.1 347.7h0M803.9 346.7h0M805.1 347.6h0M808.5 347h0M811.1 347.6h0M849.5 347.7h0M855.2 346.5h0M858.8 346.4h0M860.5 347.8h0M864.3 346.1h0M866.4 346.4h0M869.4 346.2h0M872.5 346.3h0M875.7 347h0M878.3 347.5h0M880.7 347h0M884.4 346.3h0M887.9 347.5h0M889.7 347.8h0M892.3 347.2h0M894.9 346.4h0M898.5 346.3h0M569.4 349.5h0M572.4 350.5h0M574.7 350.2h0M579.2 349.4h0M582 349.1h0M583.7 349.8h0M586.6 348.8h0M588.8 349.7h0M592.6 349.6h0M594.9 349h0M599.4 348.8h0M601.4 349.7h0M603.4 349h0M607.4 349.4h0M610.9 349.8h0M613.9 349h0M615.7 348.6h0M618 348.5h0M621.3 350.4h0M624.4 349.6h0M628.1 349.8h0M629.6 349h0M633.5 350.1h0M637.1 348.9h0M639.9 349.6h0M642.4 349h0M644.6 349.6h0M646.9 350h0M650.6 349.8h0M652.6 349.5h0M656.9 349.8h0M660.3 350.1h0M662.2 350.4h0M665 350.4h0M667.6 350h0M671.3 350h0M673.3 348.9h0M675.9 348.8h0M679.5 348.7h0M683.5 349.7h0M685.9 349.4h0M755.7 350h0M761 348.6h0M764.2 349.3h0M766.1 350.1h0M768.8 349.7h0M772.9 350.1h0M774.9 348.7h0M778.4 348.8h0M781.4 348.7h0M783.6 349h0M787.1 350h0M790.3 348.9h0M793.1 349.9h0M796.5 348.9h0M798.9 349h0M800.9 350h0M804.8 350.4h0M806.9 349.1h0M809.3 349.7h0M812.2 349.5h0M816.9 350.3h0M818.3 348.7h0M821.8 349.2h0M824.7 350.1h0M826.7 349.3h0M830 349.8h0M833 349.5h0M836.8 349.2h0M840 350.4h0M848.7 348.8h0M851 349.1h0M854.2 350h0M855.8 349.3h0M860.4 348.6h0M862.9 348.8h0M864.4 348.8h0M868.9 348.8h0M871.6 349.4h0M873.2 349h0M876.1 349h0M880.6 350.3h0M883.6 349.7h0M885.5 349.9h0M887.7 348.9h0M890.6 350.1h0M893.8 349h0M898.2 348.8h0M899.7 348.8h0M568.3 352.8h0M570.6 352.7h0M573.4 351.8h0M576.4 351.8h0M579.1 352.8h0M582.8 352.8h0M584.9 352.9h0M589.3 352.5h0M591.9 351.5h0M593.9 352.7h0M597.1 351.7h0M599.6 352.7h0M603.6 351.3h0M606.2 352.4h0M607.7 352.8h0M611.5 351.7h0M615 352.8h0M617 351.5h0M619.9 351.1h0M622.6 351.2h0M626.5 351.4h0M628.7 352.6h0M631.5 352.3h0M634.7 352.8h0M637.3 352.8h0M639.8 352.2h0M643.5 352h0M647.1 352.4h0M649 351.8h0M652.5 351.3h0M654.1 352.2h0M658.4 351.9h0M660.9 352.7h0M663.5 351.5h0M667.2 351.5h0M670.5 351.9h0M672.9 352.9h0M674.9 351.7h0M677.6 352.1h0M681.5 351.3h0M730 352.1h0M733.5 352.8h0M736.4 352.5h0M739.6 352.4h0M742.7 352.9h0M745.8 351.9h0M747 352.6h0M750 351.9h0M754.6 351.7h0M756 351.4h0M759.3 352.3h0M761.7 351.5h0M764.6 351.7h0M767.5 352h0M772 352h0M773.9 351.4h0M776.1 351.4h0M780.1 353h0M782.3 351.9h0M785.9 351.8h0M789.2 352.2h0M792 352.5h0M794.5 352.9h0M797 351.6h0M800.4 352.5h0M802.2 351.8h0M806.4 352.2h0M808.4 352.9h0M811.4 351.4h0M815.3 352.6h0M817.1 352h0M820.1 352.8h0M823.3 352.9h0M826.1 351.7h0M829.3 352.6h0M831.7 351.8h0M835.7 352.1h0M837.4 352.7h0M841 351.1h0M842.7 352.6h0M853.1 352.1h0M854.3 352.9h0M857.4 352.5h0M860.7 351.2h0M864.3 352.2h0M865.8 351.1h0M868.7 352.4h0M871.8 351.4h0M875.7 352.4h0M878.1 353h0M881 351.5h0M885.1 353h0M886.4 351.4h0M889.6 352.5h0M892.9 352.4h0M895.6 352.6h0M898.5 352.8h0M569.3 354.9h0M573 355.1h0M574.3 355.1h0M578.5 354.7h0M580.9 355.5h0M584.8 354.8h0M586.6 354.1h0M590.4 355.1h0M593.7 354.9h0M596.1 354.1h0M597.8 355.3h0M600.9 355.4h0M605.1 355.1h0M607.7 354.7h0M610.3 354.4h0M612.2 355.1h0M615.4 353.8h0M618.7 355h0M622.2 354.8h0M624.6 355h0M627.8 354.1h0M631.2 355.4h0M633.1 354.7h0M636.7 354.5h0M638.9 355.5h0M641.2 355h0M645.2 353.7h0M647.9 355h0M651 354.3h0M654.2 353.6h0M655.7 355.3h0M658.5 354.5h0M662.7 355h0M666.1 353.9h0M668.7 353.8h0M671 354.2h0M674.7 354.5h0M676.3 355.4h0M680.5 354.8h0M683.1 354.8h0M727 354.3h0M728.6 353.6h0M731.1 354.1h0M734.9 355.4h0M737.4 355.4h0M740.7 355.3h0M743.2 354.8h0M747.3 354h0M748.4 353.6h0M751.6 354.6h0M755.8 354.9h0M758.8 355.5h0M761.3 353.6h0M763.6 355.5h0M766.8 353.6h0M770.4 354.7h0M771.5 354h0M776.1 353.8h0M777.8 355.3h0M780.8 355.5h0M784.5 353.7h0M788 353.8h0M789.4 353.8h0M793.1 355.5h0M796.7 354.8h0M797.9 355h0M801.2 355.4h0M803.7 353.9h0M807.5 355.2h0M810.2 354.7h0M812.9 354.6h0M815.1 354.4h0M819.4 354h0M821.3 353.7h0M824.5 354.2h0M827 354.9h0M830.4 354.6h0M833.6 353.9h0M835.5 354.2h0M839.5 354.4h0M842.1 355.4h0M844.3 354.2h0M854.4 354.8h0M856.8 353.7h0M859.2 353.8h0M862.8 354.6h0M865.6 354.4h0M867.4 355.4h0M870.5 354.3h0M873.2 354.9h0M876.6 354.1h0M879.2 354.4h0M882.6 353.9h0M885.7 355.5h0M887.7 354.6h0M890.8 354.9h0M894.9 354.1h0M897.8 354.5h0M573.5 357.5h0M577.2 356.6h0M579.5 356.1h0M583 357.8h0M584.8 357.8h0M587.6 356.8h0M590.2 356.2h0M594.9 358.1h0M597.9 357.6h0M600.1 358h0M603.7 357.2h0M605.8 357h0M608.4 357.1h0M611 356.6h0M614.4 356.9h0M616.7 357.1h0M620.8 357.5h0M623.2 356.6h0M626.1 356.8h0M628.7 357.5h0M631.8 357.5h0M634.6 356.8h0M637.4 357.6h0M640 356.5h0M643.7 357.4h0M646.7 356.6h0M649 356.1h0M652.2 357.4h0M655.6 356.5h0M657.2 357.7h0M660.8 356.8h0M663.7 357.5h0M667.3 357.8h0M669.4 356.7h0M671.8 356.4h0M676.2 357.8h0M678.9 357.9h0M680.5 357.6h0M683.3 357.9h0M686.7 357.3h0M688.9 356.9h0M721.6 356.8h0M723.9 358h0M728.3 356.6h0M730.2 356.1h0M734 356.6h0M736.2 358h0M738.9 356.5h0M742.6 357.8h0M744.7 357.7h0M747.4 357.6h0M751.7 356.3h0M753.1 356.1h0M755.7 356.8h0M759.5 356.7h0M762.4 358h0M765.3 357.1h0M768.9 356.5h0M770.8 356.7h0M774.1 356.6h0M777.7 356.8h0M780.1 357.1h0M782.3 357.8h0M785.4 358h0M788.2 356.4h0M791.7 357h0M793.7 357.7h0M797.8 356.8h0M799.1 356.5h0M803.3 357.4h0M805.8 356.5h0M809 357.5h0M811.9 356.3h0M813.9 357.1h0M817.5 356.3h0M820.6 356.3h0M823.6 357.2h0M826.7 357.2h0M828.9 357.7h0M832.4 356.8h0M835.8 357.7h0M837 357.3h0M841.5 358h0M843.1 357.8h0M847.1 357.1h0M850.1 357h0M852.6 357.1h0M854.5 357.9h0M857.1 356.7h0M860.1 357.3h0M863.2 356.7h0M867.6 357.9h0M870.6 357h0M872.1 357.9h0M875.9 356.5h0M879.2 357.2h0M882 356.4h0M884.1 357.6h0M886.4 358h0M890.4 357.7h0M893.2 356.9h0M895.2 358h0M576.1 359.5h0M578.8 359h0M580.8 360.2h0M583.5 359.9h0M586.6 359.8h0M589.7 358.6h0M592.2 360.3h0M595.8 359.8h0M599 359.2h0M602 360h0M604.2 359.9h0M606.6 358.8h0M610.1 358.9h0M613.7 359.4h0M615.3 359.8h0M618.7 359.7h0M621.7 360.3h0M625.4 359h0M628 359.7h0M629.8 360.2h0M633.7 359.1h0M636.5 359.3h0M638.2 359.9h0M641.3 359.7h0M644.1 360.3h0M646.9 359.1h0M650.2 358.8h0M653.1 359.2h0M656.2 360.2h0M658.6 359h0M661.9 358.8h0M665.8 360.6h0M667.2 360.1h0M671.9 359.4h0M673 360.5h0M676.7 359.5h0M680.4 359.5h0M682.4 360.4h0M685.8 359.7h0M688.5 359.1h0M692 358.8h0M695 360.6h0M697.3 359.9h0M699.9 358.9h0M703.3 360.1h0M707.7 359.5h0M711.8 359.3h0M717 359.7h0M719.5 360.1h0M724.1 358.6h0M725.8 359h0M729 359.4h0M731.9 359.2h0M734.6 359.5h0M738.6 359.2h0M741.3 359.4h0M743 358.8h0M746.3 360.3h0M749.2 360.1h0M751.5 359.6h0M756 360.4h0M758.1 359.4h0M760.8 360.4h0M764 360h0M767.5 358.8h0M770 358.6h0M771.7 359.5h0M774.7 359h0M777.5 359h0M780.5 360.2h0M783.6 359.1h0M786.1 360.1h0M790.8 359.4h0M793.5 358.8h0M796.1 359.8h0M798.1 359.6h0M801.4 359.2h0M804 359.1h0M806.5 360.2h0M809.6 358.8h0M813.1 360h0M815.8 360.4h0M819.9 360.4h0M822.7 359.1h0M824.9 359h0M827.9 360.2h0M829.6 360.3h0M832.9 359.8h0M836.2 360h0M839.5 358.8h0M842.4 360h0M844.4 360.5h0M847.7 359.3h0M853.8 359.6h0M857.5 360.5h0M860.5 359.5h0M861.9 360.1h0M866.2 360.3h0M867.7 360.2h0M870.7 359.3h0M874.7 360.3h0M876.2 358.9h0M879.2 359.3h0M882 360h0M886.3 359.3h0M888.1 359.1h0M890.4 359.5h0M577.2 362.7h0M579.7 362.7h0M582.6 361.7h0M584.8 362.5h0M588.9 362.4h0M592.1 362.7h0M593.8 363h0M596.2 361.8h0M600.8 362.4h0M603.7 362.7h0M605.7 362.6h0M607.9 362.4h0M611 362.5h0M613.7 361.4h0M617 363h0M620.1 362.7h0M622.5 363.1h0M625.2 362h0M628.9 361.9h0M631.7 362.8h0M634.9 361.6h0M637.6 361.9h0M640.6 361.8h0M644.4 361.5h0M645.4 361.3h0M649.1 362.8h0M653.1 362.8h0M655.2 361.1h0M657.5 362.4h0M660.9 361.9h0M663.5 361.3h0M667.2 362.3h0M669.7 362.9h0M673 361.2h0M675.7 361.7h0M678.9 362.9h0M681.3 361.9h0M684.6 362.4h0M687 363h0M690.7 362.3h0M691.8 362h0M696.1 363.1h0M698.5 362.4h0M701.8 363h0M704 362.9h0M707.8 361.2h0M710.7 361.6h0M712.5 362.5h0M716.2 361.8h0M719.7 362.7h0M721.2 362.2h0M724.3 362.7h0M727.7 362.7h0M729.5 361.7h0M734.2 361.4h0M736 362.2h0M738.3 361.8h0M741.3 361.7h0M745.1 361.4h0M747.9 361.4h0M751.4 361.6h0M754.3 361.6h0M757.3 362.8h0M760 362.7h0M763 363.1h0M765.9 363h0M768.5 362.5h0M771.2 361.7h0M774 361.4h0M777.6 361.6h0M780.1 361.4h0M783.2 361.7h0M785.1 362.7h0M789.1 361.4h0M791 362.9h0M793.4 362.6h0M797.5 361.3h0M800.4 362.9h0M802.8 361.2h0M805.3 362.7h0M809.3 362.2h0M810.9 361.9h0M814.1 362.6h0M817.1 361.7h0M820.6 362.1h0M824.1 363h0M826.3 362.8h0M828.6 361.3h0M832.5 361.4h0M835.8 362.1h0M838.4 362.9h0M839.9 362.4h0M844.4 362.4h0M858.8 361.9h0M860 362.8h0M863.6 362.8h0M867.2 362.1h0M869 362.7h0M871.7 363.1h0M875.2 361.9h0M879.1 363h0M881 361.3h0M884.2 362.3h0M888 361.9h0M577.3 363.8h0M581.5 364.4h0M584.6 364.2h0M587 365h0M588.9 364.6h0M593.2 364.9h0M595.5 364.1h0M597.9 365.3h0M601.8 364.3h0M604.5 365h0M607.3 364h0M610.4 364.7h0M612.2 364.3h0M616.6 363.7h0M619.5 365.2h0M621.3 364.1h0M624.2 365.1h0M628 364.8h0M631.4 364.4h0M632.3 365.4h0M636.3 364.4h0M638.7 364.1h0M642.1 365.2h0M644 365.2h0M647.7 363.6h0M651 365.2h0M653.5 365.1h0M655.9 364.7h0M659.8 364h0M662 363.8h0M665.6 364.8h0M668.6 363.9h0M670.3 363.8h0M673.9 364.2h0M677.7 364.2h0M680.1 364.8h0M683.5 365.6h0M685.1 364.3h0M688.2 365.4h0M692 364.3h0M695 364.2h0M696.3 364.4h0M699.3 364.1h0M702.8 364.3h0M706.3 365.1h0M709.5 365.2h0M711.5 364.3h0M715.3 364.9h0M718.2 365.4h0M720.7 364.1h0M723.9 364.3h0M726.4 364h0M728.8 365.6h0M732.3 363.7h0M734 363.9h0M737 365.2h0M740.8 365.4h0M742.9 365.2h0M747.3 364.3h0M750.2 364.3h0M753 364h0M756 363.9h0M758.5 365.1h0M760.1 365.6h0M764.4 365.1h0M767.1 364.5h0M768.7 365.5h0M773.1 364.6h0M775 364.7h0M778.3 363.8h0M781.5 364.5h0M785 365.6h0M787.4 365.1h0M788.9 365.5h0M793 365.3h0M794.7 365.5h0M797.7 363.9h0M802 364.1h0M805.2 365h0M806.6 364.5h0M809.2 364.5h0M814.1 363.9h0M816.7 365.1h0M819.3 364.6h0M821.1 364.7h0M824 365.4h0M827.1 364.1h0M830.8 364.8h0M833.4 364.7h0M835.7 363.7h0M838.8 363.9h0M841.2 365.5h0M845.7 365h0M857.2 365.3h0M858.7 364.1h0M862.8 365.1h0M865.8 364.7h0M869 364.9h0M871.3 364.6h0M874.1 363.9h0M876.7 364.5h0M879.5 364.4h0M882.4 365.6h0M884.6 365.1h0M580.1 367.1h0M581.7 367.6h0M586.1 367.5h0M589.1 368h0M590.4 367.3h0M593.6 368h0M596.3 366.6h0M600.1 366.8h0M603.5 366.5h0M605.4 368.1h0M608.3 367.4h0M611.4 367.4h0M614.1 366.2h0M617.5 366.5h0M620.5 368h0M622.6 367.3h0M626.6 366.5h0M628.8 368h0M631.2 366.4h0M634.4 367h0M637.4 367.1h0M641.1 368h0M644.3 366.7h0M646.4 367.5h0M648.8 366.4h0M651.9 367.6h0M655.1 366.6h0M657.6 367.5h0M659.8 367.6h0M662.9 366.7h0M667.3 367.3h0M669 366.7h0M672.1 367.7h0M675.7 367.9h0M677.5 366.3h0M680.7 367.2h0M684.2 367h0M687.9 367.7h0M688.9 368.1h0M693.4 366.4h0M695.4 367.9h0M697.7 366.6h0M702.4 367.5h0M703.9 366.7h0M708.2 366.3h0M709.8 366.5h0M713.9 366.7h0M716.2 367.5h0M718.2 367.9h0M721.1 366.6h0M724.6 367.3h0M728.3 367.1h0M731.1 366.2h0M732.6 367.4h0M735.5 366.8h0M739.5 366.4h0M742.6 367h0M745.3 366.8h0M747.2 367h0M750.5 367.3h0M753.4 367.8h0M756.2 368h0M760.3 367.7h0M762.9 367.3h0M764.8 366.4h0M767.8 367h0M770.2 367.6h0M774.5 367.9h0M776.1 367.7h0M779.5 366.9h0M783.3 367.1h0M785.2 366.8h0M788.9 367.9h0M791.7 367h0M794.8 367.3h0M796.7 367.9h0M799.6 366.3h0M803.9 366.2h0M805.9 367.3h0M808.6 367.3h0M812.5 366.4h0M814.9 367.4h0M817.8 368h0M819.4 366.6h0M822.5 367.2h0M825.5 367.2h0M829.5 367h0M831.5 368.1h0M835.2 366.8h0M837.7 367.8h0M841.4 367.5h0M843.7 367.8h0M855.8 366.9h0M858.3 366.3h0M860.1 367.3h0M863.4 367.1h0M867.6 367.8h0M869.5 366.8h0M872.2 368.1h0M875.9 367.8h0M877.6 366.9h0M581.6 370.7h0M583 369.4h0M587.1 368.9h0M589.5 370.5h0M592.3 369h0M595.8 370.3h0M598.6 370.2h0M602.3 368.9h0M605.3 369.8h0M606.7 368.7h0M609.6 369.8h0M613.1 370.6h0M616.6 369.2h0M617.8 369.5h0M621.2 369.4h0M624.1 370.1h0M626.7 370.5h0M630.8 369.4h0M632.4 370.7h0M636.1 370.3h0M639.9 369.8h0M642 370.7h0M645.2 370.4h0M647.9 370.4h0M651.4 368.7h0M653.7 369h0M656.4 369.1h0M659.6 369.5h0M661.5 370.1h0M664.7 370.3h0M668.9 369h0M671.5 369.9h0M672.9 369.6h0M677 370.6h0M678.8 370.1h0M682 369.6h0M685.1 369.3h0M687.7 369.5h0M690.9 370.3h0M693.4 369.9h0M697.9 368.9h0M700.3 369.4h0M703.1 370.2h0M705.7 370.1h0M708.5 369.1h0M711.7 370.5h0M714.6 369.3h0M717.7 370.2h0M720.7 370.7h0M724.1 369.6h0M726.8 369.1h0M730 368.8h0M731.8 370.2h0M735.6 370h0M736.8 368.8h0M739.6 369.7h0M742.9 370.4h0M747.3 369.4h0M749.4 369.2h0M751.2 369.2h0M755.9 369.7h0M757.6 369.9h0M760.1 370.2h0M763.8 369.5h0M767.7 370.5h0M770.1 370.1h0M771.6 370.4h0M775.7 369.3h0M779.1 369.8h0M780.9 369.4h0M785 370.5h0M786 369.5h0M790.3 370.3h0M793.4 368.9h0M794.9 370.4h0M798.6 369.2h0M800.7 369.3h0M805.4 369.5h0M807.9 369.9h0M810.7 370.5h0M812.3 370.2h0M815.6 369.4h0M818 369.6h0M822.8 369.7h0M824.7 370.2h0M827.4 370.2h0M831.3 369.3h0M833.9 369.8h0M836.4 368.8h0M838.8 368.9h0M842.5 370.2h0M844.4 370.1h0M854.4 370h0M855.9 369.2h0M858.6 369.3h0M862.4 370.5h0M865.6 369.9h0M867.9 368.7h0M871.7 368.9h0M873.4 370h0M875.9 369.7h0M586 371.6h0M587.7 372.9h0M591.9 372h0M593.7 372.4h0M596.5 372h0M600.5 371.6h0M602.4 372.5h0M605.8 372.9h0M608.1 372.3h0M611 371.5h0M614.1 373h0M616.5 371.6h0M620.3 371.3h0M623.3 372.4h0M626.6 371.7h0M629 371.9h0M631.6 372.1h0M635.4 373.2h0M637.7 372.6h0M641.5 373.2h0M642.9 372.3h0M645.8 372.8h0M649.7 372.2h0M652.6 372.7h0M656 372.8h0M658.3 372.2h0M660.7 371.9h0M663.7 372.3h0M665.8 372.2h0M668.9 372.1h0M672.4 372.3h0M674.6 371.2h0M679.2 371.8h0M680.8 372.7h0M684.6 371.2h0M686.4 371.9h0M689.6 373.1h0M692.9 373.1h0M695.8 372.9h0M697.6 373.1h0M701.6 371.3h0M704.1 372.5h0M708.1 371.9h0M710.9 371.7h0M713 373.2h0M715.4 372.8h0M718.7 372.8h0M722.3 371.4h0M724.4 372.8h0M728.3 372.2h0M729.7 372.2h0M732.7 373h0M737 371.5h0M739.1 371.4h0M742.9 372.7h0M745.2 372.9h0M748 371.3h0M750.1 371.7h0M753.7 372.4h0M756.5 371.5h0M759.5 371.8h0M763.2 373.1h0M764.4 372h0M767.7 372.7h0M770.3 372.2h0M774.7 372.1h0M776.8 372.2h0M779.1 371.8h0M781.7 372.4h0M786 372.1h0M787.9 373h0M790.4 371.4h0M794 373.2h0M797.6 371.3h0M800.1 371.4h0M802.8 371.9h0M806.2 371.5h0M807.8 371.7h0M812.6 373.1h0M813.8 372.8h0M817.4 373.2h0M819.6 371.6h0M823.5 372.5h0M825.2 371.2h0M828.6 371.7h0M831.2 372.8h0M835 372.4h0M838 372.4h0M840.7 371.4h0M843.8 371.4h0M845.9 372.8h0M849.1 373.1h0M854.9 372.1h0M859 372.5h0M861.1 371.9h0M864.3 371.3h0M866.4 372.4h0M869.6 372.5h0M872.1 372.2h0M586.3 375h0M589.7 375.6h0M591.9 373.8h0M595.8 375h0M597.6 374.6h0M601.6 373.8h0M605.1 374.8h0M607.6 375.6h0M610.4 375.3h0M612.9 375.4h0M615.2 375.5h0M617.8 373.9h0M622.6 375h0M623.8 374.9h0M627.2 374h0M629.5 375h0M634.1 375.3h0M636.9 374.8h0M639.1 373.9h0M641.3 375.7h0M645.7 374.7h0M648.1 375.2h0M650.2 374.6h0M653 374h0M656.8 373.9h0M660.3 374.3h0M661.9 373.9h0M665.9 375.3h0M668.5 375h0M671.3 374.8h0M674.3 374h0M677.5 374.9h0M680.1 374.7h0M682.7 373.8h0M684.6 375.7h0M688.7 374.1h0M690.9 375.3h0M694.4 375.2h0M697.8 374.8h0M700.7 374.2h0M702.6 373.9h0M706.2 374.7h0M709.4 373.9h0M712 374.8h0M714 374.2h0M717.1 375.6h0M721.2 374.3h0M722.4 374.5h0M726.1 375.6h0M728.7 374.3h0M731 375.4h0M733.9 375.6h0M737.5 374.6h0M740.6 375.5h0M743.1 373.8h0M746.7 375h0M748.4 375.5h0M752.1 375.7h0M755.4 373.9h0M758.5 374h0M761.8 375.4h0M764.7 375.2h0M767.3 375.3h0M769.9 374.1h0M772.1 375.5h0M775 375.7h0M777.4 374.4h0M782.1 374.5h0M784.8 374.8h0M786.9 374.7h0M789.4 374.8h0M792.1 374h0M796.3 374.6h0M799.5 374h0M800.6 375h0M803.9 374.6h0M807.2 374.6h0M810.2 374.3h0M812.5 374h0M815.7 375.2h0M819.2 374.5h0M821.4 374.6h0M824.8 374.3h0M827.4 375.2h0M830.4 374.8h0M833.7 374.6h0M835.5 374h0M838.6 375.1h0M842.9 374.2h0M844.4 374h0M848 374.2h0M851.1 374.6h0M854 374.6h0M856.3 375.6h0M859.8 373.9h0M588.3 378.1h0M591.4 377.1h0M593.2 378h0M596.7 376.8h0M600.8 377.9h0M603 377.4h0M604.8 377.7h0M608.8 376.3h0M610.9 377.6h0M615.4 377.6h0M616.4 378.2h0M621 376.3h0M623.1 376.7h0M625.2 377.4h0M629.3 376.6h0M632.1 377.7h0M634.3 377.6h0M638.4 377.9h0M640.7 376.8h0M644.4 378.2h0M647 377.6h0M649.8 377.2h0M652.7 377.6h0M655.8 376.3h0M657.9 376.5h0M660 378h0M663 377.8h0M666.5 377.4h0M670.4 377.3h0M672.4 377.1h0M674.6 377.6h0M678.8 377.3h0M680.3 376.4h0M684.8 378h0M687.4 377.9h0M690.6 376.6h0M692.8 377.7h0M695.2 378h0M698.4 376.7h0M701.9 377h0M704.3 376.3h0M706.8 377.3h0M709.6 376.4h0M712.3 378h0M715 376.8h0M718.2 376.9h0M721.6 376.7h0M723.9 377.3h0M726.7 377.4h0M730.9 377.5h0M733.6 376.6h0M736.6 377.9h0M739 376.8h0M742.8 377.4h0M745.5 376.8h0M747.6 377.2h0M751.1 376.6h0M753 376.9h0M757.5 377h0M758.5 378.2h0M761.4 377.8h0M765.7 376.3h0M767.9 376.4h0M770.7 377.7h0M774.9 377.9h0M777.7 378h0M779.8 376.6h0M782.1 376.6h0M785.2 377.8h0M789.1 376.4h0M791.4 377.5h0M794.6 377.1h0M797.3 376.5h0M800.5 376.3h0M803 377.7h0M805.8 377.2h0M807.9 377.3h0M811.8 376.8h0M814 378h0M818.2 377.7h0M820.4 376.3h0M823.5 376.5h0M826.1 377.6h0M829.9 377.5h0M832.6 378h0M835.3 378h0M836.9 377.9h0M841.2 377.6h0M844.3 377.9h0M847.4 377.4h0M849.7 377.1h0M852.3 376.7h0M855.8 377.9h0M589 380.3h0M592.3 379.9h0M595.8 379.6h0M598 380.7h0M601.2 379.4h0M605.1 380.2h0M608.2 380.2h0M610.8 379h0M613.6 380.3h0M615 379.7h0M619 379.6h0M621.8 380h0M624.2 379.3h0M626.7 380.5h0M629.6 379.5h0M634 380.7h0M635.8 378.9h0M639.1 378.8h0M641.9 380.1h0M644.1 379.4h0M647 379h0M651.4 378.9h0M654.3 380.1h0M657.1 378.9h0M660.3 379.2h0M662.8 378.9h0M665.5 379.1h0M668.4 379.2h0M670.4 380.5h0M674.3 380h0M677.6 380.3h0M679.9 379.8h0M682.7 379.3h0M684.9 378.8h0M689.1 380.2h0M691.3 379.9h0M694.1 379.8h0M697.9 379.8h0M700.3 379h0M702.5 379.5h0M705.4 380.8h0M708.4 380.2h0M710.9 380h0M714.2 380.5h0M717 379.1h0M720.1 379.5h0M723.6 380.6h0M726.6 379.1h0M728 379.2h0M731.2 379.7h0M735.1 379.6h0M738.1 379.4h0M741.3 380.3h0M743.1 379.3h0M745.7 380.7h0M749.4 378.9h0M752 380.7h0M755.3 378.9h0M758.5 380.4h0M760.2 379.3h0M763.9 378.9h0M766 380.6h0M769.2 380.7h0M771.8 379.5h0M774.6 380.4h0M778.9 379.5h0M780.4 380.2h0M784.6 379.2h0M786.4 380.5h0M789.2 380.2h0M792.7 379.3h0M796.1 380.1h0M797.7 380.1h0M800.5 380.5h0M804.1 379.8h0M808.1 380.1h0M810.7 379.8h0M813.2 379.6h0M815.8 379.2h0M819.4 380.6h0M822.5 379h0M825.2 380.3h0M826.9 380.7h0M830.8 379.5h0M833.5 379.6h0M836.6 380.3h0M839.7 379h0M842.3 380h0M844.2 380.2h0M591.4 381.5h0M595.1 382.1h0M597.5 382.9h0M599.7 382.7h0M603.1 381.3h0M605.1 382h0M607.7 383.1h0M612.4 383.2h0M615.1 383.2h0M618.1 381.4h0M620.5 382.9h0M622.3 382.3h0M626.4 381.7h0M629.9 381.8h0M632.8 382.6h0M634.6 382.2h0M636.8 381.9h0M641.3 382h0M643.6 383.1h0M646.8 382.2h0M649.4 381.9h0M651.2 382.6h0M654.9 382.4h0M658.9 382h0M661.8 382.4h0M663.1 382.9h0M667.2 383.1h0M669.9 382.4h0M672.4 381.4h0M676.3 382.1h0M678.1 381.4h0M680.6 381.7h0M684.9 381.3h0M687.1 382.3h0M688.9 382h0M692.4 383.3h0M696.3 382.9h0M698.5 382.3h0M700.7 381.8h0M704.3 382.2h0M708.1 382.1h0M709.3 382.8h0M712.4 383.1h0M715.3 382.3h0M718.1 381.8h0M721.4 383.2h0M724.1 381.9h0M726.7 382.7h0M731.4 382.9h0M733.3 381.7h0M735.7 382.8h0M738.4 381.9h0M742.9 382.8h0M745.9 383.3h0M747.3 381.7h0M750.9 382.3h0M753.7 381.9h0M757.4 381.4h0M758.7 382.8h0M763 382.6h0M765.4 382.5h0M768.7 382h0M771.9 381.4h0M774.8 382.6h0M777.1 382.8h0M779.2 381.5h0M782.5 381.6h0M785.1 381.8h0M788.7 382.8h0M791.2 382.2h0M794 382.9h0M796.7 382.7h0M799.1 382.7h0M802.6 383.3h0M805.5 382.8h0M808 383.1h0M811.2 382.1h0M814.6 381.9h0M817.7 382.7h0M820.1 383h0M822.5 381.3h0M826.2 381.8h0M828 381.4h0M832.7 381.4h0M834.9 382.4h0M838 383.2h0M841.5 381.5h0M843.2 383.1h0M589.8 384.6h0M593.1 385.1h0M595.1 385.7h0M598.1 385h0M602.3 385.8h0M603.7 384.2h0M606.8 385.2h0M609.2 383.9h0M612.6 384.1h0M615.6 385.3h0M619.7 384.7h0M621 385h0M625.4 384.1h0M628.3 385.2h0M629.5 385.1h0M633.8 385.4h0M635.2 385.3h0M639.3 384.6h0M642.6 385.8h0M644.3 385.8h0M647.7 384.4h0M651.7 384.8h0M653.4 384.7h0M657.4 385.3h0M660 385.7h0M662.4 384.6h0M665.2 384.5h0M669.1 384.4h0M670 384.5h0M674.2 385.2h0M676 385.5h0M679.6 385h0M682.6 384.8h0M686 385.3h0M688.9 384.6h0M691 385.6h0M694.7 384.6h0M697 385h0M700.1 385.7h0M703.7 385h0M706.2 385.3h0M708.5 384.1h0M712.3 385.3h0M714.5 384.9h0M717.4 384.7h0M720.5 385.8h0M722.5 385.4h0M726.3 385h0M728.6 385.2h0M732.5 384.8h0M735.8 384.4h0M738.5 384.9h0M741.3 385.6h0M744.5 384.6h0M747.1 384.6h0M749 384.5h0M752.9 383.9h0M755.7 384.9h0M757.6 385.4h0M760.7 384.8h0M763.3 385.5h0M766.6 385.1h0M768.6 384.5h0M771.9 384.9h0M774.9 385.3h0M778.8 385.3h0M780.3 385.5h0M784.2 385.2h0M787.8 383.8h0M790.1 384.6h0M793.6 385h0M795.9 384.7h0M799.3 384.1h0M801.1 384.3h0M803.6 384.4h0M808.2 384.2h0M809.9 385.1h0M813.4 384.1h0M816.1 385.3h0M818 385.2h0M822.6 385.2h0M824.5 383.9h0M827.3 385.6h0M831 385.1h0M833.4 385.1h0M836.1 385.5h0M839 385.2h0M841.8 384.7h0M591.2 387.4h0M593.2 388h0M596.4 388.1h0M600.4 387.8h0M603.7 386.5h0M605.1 387.6h0M607.7 386.6h0M611.6 387.3h0M613.5 387.4h0M616.5 386.5h0M620 386.7h0M622.5 387.8h0M625.7 386.5h0M628.1 387.6h0M631.8 388.1h0M635.2 388.2h0M638.3 387.2h0M641.2 387.1h0M642.5 386.8h0M647.2 387h0M650.2 387.7h0M651.4 387.1h0M655.9 387.2h0M657.5 386.4h0M660 387.9h0M663.3 388h0M667.6 387.5h0M670.4 387.1h0M672.9 387.7h0M675.7 387.9h0M677.4 386.5h0M680.4 388h0M685 387.8h0M686.3 387.2h0M690.6 388.1h0M691.8 387.7h0M695.9 388h0M698.8 388h0M702.3 387.7h0M703.7 387.6h0M708.1 386.9h0M710.1 388.2h0M713.8 387.8h0M716.8 388.1h0M718.9 386.4h0M722 386.6h0M724.3 387.1h0M728.2 387.8h0M730.5 388.3h0M733.6 386.5h0M735.3 386.6h0M738.5 387.9h0M741.4 388.2h0M745.3 388.3h0M747.8 388h0M751.1 386.5h0M754 387.1h0M756.5 386.6h0M758.6 387.8h0M763.2 386.6h0M765.5 386.7h0M768.2 387.6h0M771 388h0M773.4 387h0M775.9 387.3h0M779.6 386.4h0M783.3 387.3h0M785.4 386.5h0M789.1 387.9h0M791 386.5h0M794.3 387.9h0M797.8 388.3h0M799.1 386.6h0M802.2 388.1h0M805 388.3h0M808.8 387.5h0M811.3 387.1h0M815.1 387.7h0M817.4 388.2h0M820 387.6h0M822.3 387.7h0M826.2 388h0M829.2 387h0M832.4 387.2h0M835.4 387.8h0M838.2 388.2h0M841 388h0M592.5 390.1h0M594.6 389.4h0M599 389.4h0M601.2 390.3h0M604 389.9h0M607 390.4h0M609.2 389.6h0M612.5 389.6h0M615.6 389.2h0M617.9 390.7h0M621.8 390h0M624.8 390.6h0M626.6 389.3h0M630.6 390.4h0M632.9 390.3h0M637 389.2h0M639.5 390.7h0M642.6 389.1h0M644.5 390.3h0M647.2 389.4h0M651.1 390.7h0M652.7 390.5h0M656.9 389.9h0M658.5 389.3h0M662.2 390.6h0M665.3 390.8h0M667.9 389.9h0M671.7 389.2h0M673.4 389.6h0M676.4 389.2h0M679.9 389h0M681.8 389.3h0M685.2 389.9h0M687.6 390h0M690.8 389.6h0M695 390.4h0M696.2 389.6h0M699.9 389.7h0M702 390.2h0M705 389.7h0M708.2 389.9h0M711.7 389.7h0M715.3 390.3h0M717.1 389.8h0M721 389.6h0M722.5 390h0M726.9 389.6h0M729.1 389.6h0M732.8 390.3h0M734.9 390.1h0M738.4 390.2h0M740.2 390.4h0M743.1 390.9h0M746.7 390.6h0M749.1 390.8h0M752.5 389.7h0M754.2 390.7h0M758.2 389.8h0M759.9 389.7h0M764 389.6h0M767.5 389.7h0M768.6 390.5h0M772.4 388.9h0M774.4 390.7h0M777.9 389.8h0M780.6 390.2h0M785.1 389.1h0M786.2 389.5h0M789 390.5h0M793.3 390.5h0M794.7 390h0M798.9 390.1h0M802.1 389.9h0M804.4 389.8h0M807.6 390.5h0M809.2 389.7h0M812.4 389.9h0M816.1 389.5h0M819.3 389.2h0M821.8 390.3h0M825.6 390.4h0M827 390.3h0M830.9 390.3h0M834.3 389.7h0M836.7 389.2h0M838.9 390.6h0M841.3 390.1h0M591.7 392h0M594.2 393.2h0M596.3 392.3h0M600.6 392.2h0M603.6 392h0M606.7 392h0M608.9 392.1h0M611.4 393.1h0M614.9 392.5h0M617.1 391.7h0M619.9 391.4h0M623.2 392.4h0M625.2 391.6h0M628 393.1h0M632.8 393.1h0M634.4 392.3h0M637.6 392.8h0M641 392.4h0M643.4 392.6h0M647.2 393.4h0M649.4 391.6h0M653 391.9h0M654.5 392.8h0M658.1 392.9h0M661.5 392.4h0M663.4 392.5h0M666 391.5h0M669.8 392.2h0M672.9 392.1h0M674.6 392.6h0M677.7 392.7h0M682.1 392.5h0M684.4 391.8h0M687.2 392.2h0M690.4 392.8h0M693.7 393.2h0M696.5 393.4h0M697.9 391.9h0M700.7 391.9h0M703.4 392.6h0M707.7 391.9h0M709.6 391.4h0M712.8 392h0M715.7 392.5h0M718.7 393.1h0M722.4 393.2h0M723.7 391.7h0M727.6 392.1h0M729.9 392.6h0M732.6 392.9h0M736.8 392.9h0M739 391.8h0M742.4 392.1h0M744.7 391.9h0M748.4 392.3h0M751.5 391.7h0M753 392.5h0M755.6 393.2h0M760.1 392.2h0M761.5 391.9h0M764.8 393.2h0M769 391.7h0M771.7 392h0M773 392.5h0M776.3 391.9h0M779.1 393h0M782.5 391.7h0M785.1 391.6h0M788.6 391.9h0M791.8 393.2h0M794.4 391.8h0M797.3 392h0M800.1 391.5h0M802.8 391.7h0M806 392.6h0M809 392.9h0M812.4 393.3h0M815.2 392.5h0M816.8 392.4h0M820.9 393.2h0M824.1 392.1h0M826 392.5h0M828.5 391.4h0M831.3 393.1h0M834.1 392.4h0M837.2 393.3h0M590.4 395.1h0M591.7 394.2h0M596.5 395.8h0M599.4 394.8h0M602.2 395.6h0M603.9 394.1h0M606.7 394.3h0M609.7 394.3h0M612.7 393.9h0M616 394h0M617.8 394.9h0M621.8 394.4h0M625.5 395.5h0M628.4 394.7h0M630.2 395.5h0M632.7 394.8h0M637.2 394.6h0M638.9 395.7h0M642 395.1h0M644.5 395.1h0M648.7 395h0M651 395.4h0M653.9 394.7h0M656.2 394.4h0M659.5 394.3h0M661.9 394.7h0M666.1 395h0M667.9 395h0M671 394.9h0M673.3 394.3h0M676.4 394h0M679.8 394.1h0M682.5 395.2h0M686.1 395.3h0M688.5 394.4h0M691 394.4h0M695.2 394.2h0M698 394h0M699.9 395.3h0M703.8 394.6h0M705.2 393.9h0M708.9 395.7h0M711.1 395.7h0M714.3 394.1h0M716.8 395.2h0M720.3 395.6h0M722.8 394.7h0M726.6 395.3h0M728.7 395.2h0M732.7 395h0M735.1 394.9h0M738 395.1h0M740.2 394.9h0M744.1 395h0M745.7 394.8h0M749.2 394.4h0M752.3 394.1h0M755.5 394.3h0M757.1 394.9h0M760.7 395.1h0M762.9 394h0M767.5 395.3h0M769.1 394.2h0M773 394.7h0M774.9 395.3h0M778.1 395.7h0M780.2 394.3h0M784.5 394.1h0M786.8 394.9h0M790.7 395h0M791.9 395.1h0M796.1 395.6h0M798.9 394h0M801.7 394.8h0M803.5 395.6h0M806.9 394.9h0M809.5 395.2h0M813.9 395.5h0M815.8 394.9h0M818.6 395.8h0M822.8 395.7h0M825 395.7h0M828.4 395.5h0M830.2 395.3h0M832.9 394.3h0M591.8 398.1h0M594.5 397.5h0M597.4 397.7h0M600.4 397.2h0M601.9 398h0M605.5 396.5h0M609.4 397h0M612.1 397.8h0M613.9 397.8h0M618.3 397.5h0M621.1 397.7h0M623.4 396.7h0M626.8 397.4h0M628.4 397.4h0M632.4 397.6h0M634.5 396.9h0M638 397.1h0M640.3 397.3h0M643.2 397.2h0M646.8 397.4h0M648.7 396.7h0M652.4 396.7h0M654.4 397.6h0M658.3 398h0M660.6 396.6h0M664 398.1h0M667.6 398.3h0M669.6 397.8h0M672.2 397.9h0M675.2 397.6h0M678.2 397h0M681.2 397.8h0M684 397.8h0M687.9 396.9h0M690 397.8h0M692.5 397.1h0M696.2 398.2h0M698.7 397.4h0M701.9 397.5h0M705.2 398.2h0M706.5 398.1h0M710.5 396.8h0M712.1 396.6h0M716 397.3h0M719.4 396.9h0M721.5 397.4h0M724.1 397h0M726.9 398.2h0M730.6 398.1h0M732.7 398.3h0M736.9 397.1h0M739.4 396.5h0M742.4 397.5h0M745.5 398.1h0M747.5 398.3h0M751.3 396.6h0M753.5 396.6h0M757.1 396.9h0M760 397.5h0M762 398.3h0M764.8 397.3h0M768.8 397.2h0M770.1 396.6h0M774.2 396.7h0M777.5 396.8h0M778.9 396.6h0M782.8 397.8h0M785.6 397.1h0M787.7 397.7h0M792.2 396.9h0M793.6 397.3h0M797.4 398h0M801 397.4h0M802.6 397h0M806.8 396.6h0M808.4 397.6h0M812.1 397.4h0M814.4 396.5h0M818.3 396.6h0M820.7 396.5h0M822.7 398.4h0M826.3 397.6h0M829.1 397.9h0M832.4 397.8h0M834.7 397.5h0M590.2 399.1h0M592.2 400.9h0M596.4 400h0M597.9 399.9h0M601.5 400.9h0M605.1 399.2h0M607.4 400.7h0M610 400.6h0M612.7 400.7h0M615.9 399h0M618.6 399.4h0M621 400.6h0M625.5 400.3h0M627.3 401h0M630.1 399.3h0M632.8 400.2h0M636.9 399.8h0M638.3 400h0M642 399.2h0M644.9 399.1h0M648.5 400.1h0M651 399.1h0M652.6 400h0M656 399.2h0M658.7 400.3h0M662.2 400.1h0M665.8 400.3h0M668.5 399.2h0M670.4 399.9h0M674.4 399.6h0M676.7 400.8h0M679.9 400.5h0M683.5 400.9h0M686.1 399.2h0M688.8 400.1h0M691.8 399.6h0M694.5 399.2h0M696.6 399.8h0M700.3 400.2h0M703.7 400.4h0M706 400.3h0M709.2 400.2h0M710.6 400.4h0M714.3 399.4h0M718.1 400.5h0M719.7 399.4h0M722.7 400.7h0M725.5 399.8h0M729.7 399h0M731.6 399h0M735.8 400.7h0M738.4 400.8h0M741 400.1h0M743.9 400.2h0M745.7 400.8h0M749.2 400.7h0M752 400.1h0M754.6 400.7h0M758.8 399.6h0M761.7 400.7h0M764.5 400.2h0M766.1 400h0M770.5 399h0M772 400.6h0M775.9 399.4h0M779.2 399.2h0M780.7 400.5h0M784.4 399.5h0M786.6 400.3h0M790.8 400.2h0M793.3 399.1h0M795.5 399.4h0M798.9 399.7h0M801.8 399.1h0M803.5 399.3h0M806.8 400.9h0M810.8 400.4h0M813.3 399.2h0M816.8 400h0M818.1 399.5h0M821.4 399.5h0M823.8 400.5h0M827.2 399h0M831.1 400.5h0M591.4 403.1h0M594.9 403.2h0M597.2 401.9h0M599.4 401.9h0M601.9 403.1h0M606.5 401.6h0M609.4 402.2h0M611.9 402.5h0M613.7 401.7h0M618.2 401.6h0M620.3 402h0M623.1 402h0M625.9 403.1h0M629 403.1h0M631.5 403.3h0M635.7 402.1h0M637.5 403.2h0M640.6 402.5h0M643.1 401.7h0M645.8 401.7h0M649.3 403.1h0M652.2 401.9h0M654.9 402.3h0M658.7 403.5h0M660.7 403.1h0M663.1 402.4h0M666.2 403h0M669.8 402.1h0M673 403h0M675.6 401.8h0M678.9 403.1h0M681.4 401.8h0M684.7 401.5h0M686.7 402.9h0M690.6 403.3h0M692.2 401.7h0M694.8 403.4h0M698.5 401.6h0M700.9 403h0M703.9 401.8h0M706.8 402.6h0M709.6 401.8h0M712.8 402.4h0M715.3 401.7h0M719.1 402.9h0M721.8 401.9h0M724.7 402.4h0M727.3 403.4h0M731 401.7h0M732.9 402h0M736 402.8h0M739.9 401.8h0M741.9 403.1h0M744.5 403.3h0M748.3 402.5h0M751.7 403h0M753.3 402.1h0M757.2 403.3h0M759.3 403.4h0M761.7 401.8h0M765.1 402.3h0M767.2 402.2h0M770.1 402.5h0M774.2 403.4h0M776.8 401.5h0M779.9 403.2h0M781.9 403h0M785.5 401.7h0M788.6 402.9h0M790.5 403.1h0M794.1 402.2h0M797 401.6h0M799.3 401.5h0M802.7 402.4h0M805.1 403.3h0M809.7 402.6h0M812 402.3h0M813.8 403.1h0M817 401.8h0M821.2 402h0M823.3 401.9h0M826.6 403.3h0M828.5 401.8h0M590.7 404.7h0M593.3 405.6h0M595.3 404.5h0M599.4 405.2h0M600.8 405h0M604.4 405.6h0M607.1 405.4h0M610 405.1h0M613.8 406h0M616.2 405.1h0M618.3 404.9h0M622.3 405.4h0M623.8 404.3h0M628 404.7h0M630.6 405.2h0M632.8 404.7h0M636.8 404.8h0M639.2 404.5h0M642.3 405.7h0M644.2 404.5h0M647.2 404.8h0M651.5 405.2h0M653.3 404.3h0M656.6 405h0M658.9 405.8h0M662.5 404.7h0M665.7 404h0M669 405.3h0M670.1 405.6h0M673.7 405.3h0M676.4 405.4h0M679.6 404.8h0M683.3 405.4h0M686.1 405.9h0M688.7 404.4h0M691 405.9h0M693.8 405.9h0M697.6 404.7h0M699.1 404h0M702.6 404.5h0M705.7 405.7h0M708.4 404.7h0M711.5 405.9h0M715.4 404.2h0M718.1 404.3h0M719.7 404.2h0M723.6 406h0M726.5 405.6h0M728.1 406h0M731 404.4h0M734.1 404.9h0M736.9 405h0M741.3 404h0M742.6 405.1h0M746.1 405.9h0M749.6 405.2h0M752.6 406h0M755.8 404.7h0M758.3 405.7h0M760.3 405h0M763.8 406h0M766.5 404.4h0M769.8 405.9h0M772.6 405.4h0M776.3 404.7h0M779.1 405.2h0M780.5 405.6h0M783.4 404.3h0M786.8 405.3h0M789.7 405.2h0M792.6 404.5h0M795.2 405.5h0M799 404.9h0M800.9 404.5h0M804.6 404.8h0M807.3 404.6h0M810.1 405.8h0M812.7 404.9h0M816.9 404.3h0M817.9 404.9h0M820.8 404.3h0M824.6 404.6h0M589.3 406.7h0M591.3 406.8h0M594.3 407.8h0M596.3 407.2h0M599.3 407.5h0M603.4 406.8h0M605.8 407.9h0M608.1 406.8h0M611.3 408.1h0M614.1 408h0M616.4 408.5h0M619.9 407.1h0M622.6 408.1h0M626.5 407.3h0M629.8 406.9h0M631.2 408.5h0M634.6 408h0M636.8 407.6h0M640.5 408.2h0M643 407h0M646.4 408.3h0M649.2 407.4h0M651.5 407.3h0M654.4 407.2h0M658.8 407.5h0M659.9 407.6h0M663 407.5h0M666.3 408h0M668.7 406.6h0M672.6 407.6h0M675 408h0M678.3 407h0M681.1 406.5h0M684.6 408.5h0M687.3 407.5h0M690.2 407.4h0M692 407.7h0M696.2 406.8h0M698.8 406.8h0M702.3 407.8h0M704.5 408.1h0M707.5 407.7h0M710.7 407.9h0M713.8 407.7h0M715.6 406.7h0M718.3 408.5h0M722.5 407.2h0M724.8 407.2h0M727.8 406.7h0M729.7 407.5h0M733 407.9h0M736.9 407.9h0M739.8 406.6h0M741.1 408.4h0M745.6 408.5h0M748.6 406.6h0M751.3 407.3h0M754.2 407.5h0M755.9 406.7h0M759.5 406.9h0M761.5 407.1h0M764.5 407.6h0M768.9 407h0M771.9 408.5h0M774.3 406.7h0M777.2 406.6h0M779 407.2h0M783.2 407.2h0M784.6 407.6h0M787.6 408.4h0M792.3 407.8h0M793.5 407.5h0M797.3 407.8h0M799.8 406.6h0M802.3 406.7h0M806.4 408.5h0M809.4 407h0M811.4 408.2h0M814.1 407.6h0M586.1 409.2h0M589.2 409.5h0M592.7 409.6h0M595 409.6h0M599.4 410.5h0M600.6 411h0M603.5 410.8h0M608.2 409.9h0M609.1 410.2h0M613.8 409.5h0M615.6 410.7h0M619.7 410.2h0M621.2 409.5h0M624.2 409.7h0M626.5 410.1h0M629.7 410.4h0M633.8 409.4h0M635.8 409.2h0M638.5 409.3h0M642.9 409.8h0M645.4 409.2h0M648.5 409.7h0M650.1 410.5h0M653.4 410.5h0M655.9 409.7h0M658.9 410.6h0M662.1 410.5h0M666.1 410.3h0M667.5 409.5h0M671.9 409.1h0M673.3 409.2h0M676 410.7h0M679.3 409.3h0M683.1 409.1h0M684.7 409.8h0M687.6 410.1h0M692.1 410.9h0M694.2 410.3h0M697 410.2h0M699.9 410.8h0M703.4 410.8h0M704.9 409.5h0M709.2 410.5h0M712.1 409.7h0M714.5 409.7h0M718.2 410.1h0M720.7 410.1h0M724.1 410.7h0M727.1 409.4h0M729.1 409.7h0M737.8 410h0M739.8 409.6h0M744.2 411h0M746.4 409.2h0M749.5 411h0M752.5 409.1h0M754.5 410.4h0M757.4 410h0M760.2 409.8h0M764.2 411h0M766.5 410.1h0M770.1 410.4h0M772.2 409.3h0M774.4 410.8h0M779 409.4h0M781.6 410.9h0M783.4 410.5h0M786.3 410h0M788.9 410.5h0M793.6 410h0M796.4 409.3h0M798.2 409.2h0M802.2 409.4h0M586.3 413.5h0M588.8 412.7h0M591.3 413.5h0M594 412h0M596.9 413.2h0M600.2 411.7h0M602.1 412.7h0M606.1 412.5h0M609.5 413.3h0M610.6 412.9h0M614.2 412.3h0M616.6 412.9h0M620.1 413.1h0M622.5 412.1h0M626.4 412.8h0M628.7 413.1h0M631.3 411.8h0M635.4 413.5h0M638.3 412.8h0M640.1 413.3h0M643.4 412.7h0M645.6 412h0M649.8 411.8h0M653.1 411.9h0M655.2 413.3h0M657.1 413.1h0M659.9 413.5h0M663.7 412.6h0M666.8 411.7h0M669.6 411.8h0M671.8 412.4h0M675.8 411.9h0M679.2 412.8h0M681.4 412.1h0M684.4 411.8h0M687.3 413.5h0M690.3 411.9h0M691.8 411.6h0M696.5 411.6h0M697.6 412.4h0M700.8 413.2h0M704.6 411.9h0M706.5 412h0M709.7 412.5h0M714 412.7h0M716.3 412.9h0M718.6 413.2h0M721.8 412.7h0M725.2 412.1h0M727.7 412.3h0M731.4 412.5h0M739.7 412.8h0M742.4 413.2h0M744.4 412.4h0M748.6 412.8h0M751.2 411.9h0M752.7 412.7h0M756.5 412.7h0M758.9 412.7h0M762.3 413.4h0M765.7 411.7h0M767.2 412h0M770.8 411.9h0M773.5 412.2h0M776.6 413.1h0M780.5 412.8h0M782.5 413.2h0M784.8 412h0M787.6 411.9h0M581.3 414.7h0M584 414.2h0M587.6 416h0M589.1 414.8h0M592 415.7h0M595.7 414.6h0M597.7 415.1h0M600.4 414.5h0M605 415.4h0M608 414.4h0M610.5 415.3h0M612.1 414.5h0M616.7 414.7h0M619.1 414.5h0M622.5 415.7h0M625.1 415.8h0M627.9 414.1h0M630.3 416.1h0M633.2 415.5h0M636.4 414.1h0M638.6 415.5h0M642.2 415.6h0M644.2 414.6h0M648.3 414.9h0M650.4 414.7h0M653.4 415.3h0M657.3 414.1h0M659.1 416h0M661.3 415.5h0M665.8 415.4h0M668.4 415.5h0M670.4 415.4h0M673 414.4h0M676 415.2h0M679.3 415.6h0M681.7 415.3h0M685.7 416.1h0M687.8 414.8h0M690.6 414.6h0M694.8 415.6h0M697.6 415.4h0M699 415.8h0M702.4 414.7h0M706.7 415.9h0M709.4 415h0M711.1 414.4h0M713.8 414.7h0M717 415.8h0M720.3 415.8h0M723.6 415.2h0M726.9 415.7h0M729.9 415.3h0M743.6 414.3h0M746.8 415.2h0M749.2 415.4h0M751.8 414.7h0M755.1 414.3h0M757.1 414.6h0M759.9 414.8h0M764.3 414.9h0M583.5 418.4h0M586.1 418.6h0M589.2 417.4h0M591.6 418.2h0M594.8 417.3h0M597.2 418.5h0M600.2 418.3h0M603.2 416.9h0M605.4 417.9h0M609 416.9h0M611.1 417.7h0M615.3 417.1h0M618.1 417.8h0M620.7 416.9h0M622.6 417.5h0M626.8 418.4h0M629.9 418.5h0M632.6 418.5h0M634.5 417.9h0M637.3 417.6h0M639.9 418.2h0M643.8 417.5h0M645.9 416.8h0M648.8 417h0M652.1 418.4h0M654.9 417.5h0M657.2 417.2h0M661.7 417.8h0M664.7 418.2h0M666.4 416.7h0M669 418.3h0M673 417.8h0M674.4 417.8h0M678.3 418.2h0M681 417.7h0M683.4 417.8h0M686.2 417.1h0M690.6 416.8h0M692.6 416.7h0M695.9 416.7h0M698.1 417.3h0M700.7 416.9h0M704 417.3h0M708.1 417.5h0M709.9 418.3h0M712.2 417.1h0M715.6 417.3h0M719.3 416.7h0M722.4 418.4h0M724 418h0M727.9 417.1h0M731.1 417.6h0M582.1 420h0M584.7 419.7h0M586.7 419.4h0M589.3 419.6h0M593.6 420.1h0M595.9 419.8h0M598.7 419.5h0M601.6 419.6h0M605.2 420.1h0M607.1 419.2h0M609.8 421h0M613.9 419.5h0M614.9 419.3h0M617.9 419.6h0M622.5 419.6h0M625 420.5h0M628.3 420.9h0M631 420.2h0M632.5 420.4h0M635.9 419.8h0M639.7 420.7h0M642 419.2h0M644.2 421.1h0M647.8 419.7h0M649.7 419.8h0M654.1 419.9h0M656.1 419.4h0M658.6 419.5h0M662.4 419.6h0M665.2 420h0M668.4 419.4h0M670.1 420.7h0M673.2 419.8h0M677.6 420h0M678.9 419.2h0M682.9 420h0M686.1 420.5h0M689.3 420.9h0M691.1 419.4h0M694.2 419.3h0M697 420.4h0M699.9 420.4h0M703.3 420h0M706.5 419.2h0M708.1 420.3h0M710.8 420.2h0M714.9 419.3h0M716.9 419.9h0M721 420.4h0M723.2 419.4h0M725.2 419.3h0M728 419.9h0M732.4 421.1h0M579.5 423.1h0M582.2 423.2h0M585.2 423.1h0M588.3 422h0M591.1 421.8h0M593.8 422.3h0M597.8 423.4h0M599.2 421.8h0M603.4 423.1h0M605.5 422h0M608.4 423.2h0M611.4 421.8h0M614.5 423h0M617 422.1h0M619.6 421.7h0M622.4 422.7h0M626.9 422.6h0M628.2 423.1h0M632.3 422.1h0M634.6 422.5h0M636.9 421.7h0M641.5 423.6h0M643.8 422.1h0M645.3 422.3h0M649.3 422.1h0M652.2 422.1h0M655.9 422.6h0M658.4 421.9h0M661.2 422.6h0M664.1 422.1h0M665.9 422.5h0M669.7 422.7h0M672.7 422.9h0M674.8 422.9h0M679 422.6h0M681.3 421.8h0M684.6 423.6h0M686.3 422.6h0M690.8 421.9h0M692.7 423.3h0M695.4 423.1h0M697.9 421.8h0M701.5 422.7h0M704.9 422.5h0M708.1 421.8h0M710.1 422.7h0M713.9 422.3h0M715.1 423.5h0M717.9 422h0M720.8 422.7h0M725.1 422.7h0M727.1 422.3h0M730.6 422.6h0M578.2 425.8h0M580.4 425.9h0M584.9 425.4h0M586.1 426h0M589.1 425.3h0M592.8 424.3h0M595.9 424.8h0M598.5 425.7h0M601 425.7h0M604.7 425.6h0M607.9 424.3h0M609.7 425.2h0M612.8 424.5h0M615.6 424.4h0M617.9 424.6h0M621.5 426.1h0M624.6 425.2h0M628.5 425h0M630.4 424.9h0M634.1 424.2h0M636.7 425.2h0M639.5 424.5h0M641.4 425.9h0M644.7 425.8h0M648.1 424.7h0M651 426.2h0M653.4 425.8h0M657 425.9h0M659.8 424.8h0M662 425.8h0M665 425.6h0M667.5 425.9h0M671.3 425.9h0M673.8 425.6h0M676.6 425.3h0M679.7 425.9h0M683 424.8h0M685.4 424.5h0M687.7 425.1h0M692.3 424.6h0M694.4 425.5h0M697.8 424.9h0M699.8 425.4h0M703.3 424.8h0M706.7 425.8h0M708.5 425.3h0M711 425.4h0M713.8 425h0M717.2 426.1h0M720.6 426h0M723.7 425.1h0M726.8 424.2h0M728.1 425.5h0M732.4 425.1h0M576.8 428.4h0M580.6 427.3h0M582.1 427.5h0M584.6 428.5h0M588.8 428.7h0M591.6 428.4h0M594 427.1h0M597 428.4h0M600.1 428.2h0M602.4 426.9h0M605.6 427.1h0M608.3 427h0M610.8 427.1h0M615.4 428.1h0M618 428.6h0M620.8 428h0M623.9 428.1h0M626.9 427.6h0M628 428.2h0M632.6 428.7h0M634.1 427.9h0M636.8 426.9h0M640.4 427.1h0M644 428.4h0M646.8 428.3h0M648.9 427.9h0M651.6 427.4h0M655.2 426.9h0M657.3 426.9h0M660.5 428.6h0M663.9 427.7h0M667.3 427.1h0M669.1 427.1h0M673 428.6h0M674.7 427.1h0M678 428.5h0M681.1 428h0M683.8 427.6h0M686.6 427.9h0M689.4 426.9h0M692 426.7h0M696.1 428.6h0M699.1 428.4h0M700.5 427.3h0M704.2 427.9h0M706.7 426.8h0M709.4 427.2h0M713.7 427.2h0M716.1 426.8h0M719.4 427.2h0M724.7 428.1h0M728 428.2h0M730.3 427h0M732.9 427.8h0M575 430h0M578 431.2h0M581.9 431.2h0M584.9 430h0M587.1 430h0M590.7 429.6h0M592.5 430.9h0M595.5 430h0M599.1 430.8h0M601.7 431h0M603.8 430.7h0M607 429.2h0M610.5 429.6h0M613.5 429.9h0M616.2 430.6h0M619.6 430h0M621.6 431h0M624.1 430h0M628 429.6h0M631.4 429.9h0M633.7 430.5h0M635.2 431h0M639.7 430.9h0M642.5 430.7h0M645.8 431.1h0M647.4 431.1h0M650.1 431h0M654.5 429.9h0M655.8 431h0M659.2 430.5h0M663.2 429.8h0M665.2 430.2h0M668.5 429.6h0M670.6 430h0M674.4 430.7h0M676.6 429.9h0M680.4 429.6h0M682.5 431.1h0M686.3 430.1h0M687.9 429.7h0M690.7 430.5h0M694.7 430.7h0M697.1 430.5h0M699.9 429.9h0M702.6 430.3h0M705.9 430.6h0M708.9 431.2h0M711.8 430.4h0M714.4 429.7h0M716.5 430.9h0M729.1 429.5h0M732.2 429.2h0M734.3 430.7h0M576.6 432.8h0M579.4 433.5h0M583 432h0M584.6 433.5h0M588.9 432.8h0M591.3 433.6h0M593.1 433.7h0M597.2 431.8h0M600.2 431.8h0M601.9 431.9h0M606.3 432.4h0M608.2 432.2h0M611.1 433.6h0M613.9 433h0M616.5 432.5h0M620.8 432.2h0M623.5 432.6h0M626.1 432h0M629.8 432.1h0M631.2 431.8h0M635.4 433.6h0M637.3 432.4h0M640.1 432.7h0M643 432h0M646.6 431.8h0M649.9 433h0M653.1 432.2h0M654.3 433.6h0M658.7 433.1h0M661.3 432.3h0M664 433.3h0M667.1 432.8h0M668.7 432.8h0M672.7 433.3h0M675.2 433h0M679.2 433.4h0M680.8 431.9h0M683.5 433.2h0M687.7 431.9h0M689.5 432.4h0M693.4 432.7h0M694.9 432.9h0M697.8 432.4h0M701.5 431.9h0M704.1 433.6h0M707.7 433.6h0M709.9 433h0M712.5 433.6h0M715.9 432.7h0M576.2 434.3h0M578.8 436h0M581.9 436.1h0M585 436.3h0M587.6 434.8h0M589 435.2h0M593.1 435.2h0M595 435.1h0M598.5 435.4h0M601.6 435.1h0M604.3 436h0M607.4 435.8h0M609.4 434.9h0M613.5 436.1h0M615.3 434.5h0M618.9 434.6h0M622.2 436.2h0M625.2 436.1h0M626.8 435h0M630.7 434.6h0M633.8 436.2h0M637.1 436h0M638.5 435.1h0M642.6 435.9h0M645.2 434.3h0M646.9 435.3h0M651 435.1h0M653.2 436.3h0M655.7 435.3h0M660.1 434.3h0M661.8 435.2h0M665.5 434.8h0M668.6 435.4h0M670.7 434.3h0M673.4 434.9h0M677.5 434.5h0M679 435.1h0M683.5 435.7h0M684.8 435.4h0M687.8 435.8h0M692.2 436.2h0M694.8 435.5h0M697.1 436.1h0M700.1 435.3h0M703.4 434.5h0M704.8 435.4h0M709.1 435.5h0M712.2 436.3h0M713.9 435.3h0M574.6 438.5h0M577.6 438.7h0M579.1 438h0M582.4 437.8h0M585.3 438h0M588.8 437h0M591.2 438.4h0M594.6 437.3h0M597.7 437.2h0M600 436.9h0M602.9 437.1h0M605.7 437.8h0M608.4 438.6h0M612 437.1h0M614.9 438.5h0M617.8 437.1h0M619.8 438.5h0M624.1 437.9h0M626.9 438.4h0M628.8 437.3h0M632.5 438.3h0M633.9 437.7h0M637.7 438.1h0M639.5 437.4h0M643.3 437.4h0M645.8 437.8h0M648.7 438.7h0M652.9 438.6h0M655.9 437.2h0M657.7 437.1h0M661.1 437.1h0M664.4 438.4h0M666 436.8h0M670.5 437.1h0M672.3 438.3h0M675.8 437h0M678.8 437h0M681.8 438.4h0M684.9 438.1h0M686 437.8h0M689.7 437.5h0M692.5 437h0M696.3 437.8h0M699.3 438.8h0M700.7 437.5h0M705.1 438.2h0M707.5 438.5h0M709.5 437.7h0M712.9 437.9h0M715.8 438h0M575 440.2h0M579.1 439.9h0M580.8 440h0M584.4 440.2h0M587.8 439.6h0M590.8 440.4h0M591.7 439.7h0M596 439.6h0M597.6 440.9h0M601.1 440.5h0M603.8 440.4h0M607.6 441.2h0M610 440.5h0M613.5 440h0M615.6 440.9h0M618.9 441.1h0M621.7 440h0M625.1 439.7h0M626.8 440.9h0M630 440.3h0M633.3 439.4h0M637.1 440h0M639.3 440.3h0M642.4 440.5h0M644.5 439.8h0M648.4 440.3h0M650.6 441.1h0M653.7 439.9h0M657 440h0M659.3 441.3h0M661.9 439.8h0M665.8 440.5h0M667.5 440.4h0M670.7 439.4h0M673.9 441.3h0M676.5 439.7h0M680.2 440.5h0M682.2 440.2h0M685.4 440.3h0M688.4 441.2h0M691.9 439.9h0M694.1 441.2h0M696.2 441h0M700 441.3h0M701.9 439.9h0M706.1 439.5h0M708.7 439.7h0M711.2 440.1h0M714.1 441.1h0M717.3 439.6h0M719.9 440.7h0M574.5 443.5h0M575.8 442.5h0M580.3 442.8h0M582.5 443h0M584.8 443.6h0M588 442.4h0M591.3 442.2h0M593.8 442.6h0M596.1 443.6h0M600.4 443.7h0M602.5 443.2h0M605.8 443.1h0M608.3 442.8h0M611.3 443.3h0M613.9 442.9h0M617 443h0M619.6 443.5h0M623.8 442h0M625.3 443.4h0M628.4 443.8h0M631.6 442.3h0M634.4 443.6h0M638.3 442.6h0M640.2 443.1h0M643.2 442.6h0M646.9 442.8h0M648.5 443.3h0M651.6 442.5h0M655 442.8h0M658.5 442.7h0M661 441.9h0M664.5 443.1h0M667.5 443.8h0M668.6 442.9h0M672.4 443.1h0M674.5 442.8h0M678.3 443.5h0M682.1 442.5h0M684.2 442.3h0M687.5 443.8h0M689.8 442.9h0M692.3 443.2h0M694.8 442.5h0M698.4 442.4h0M701.1 442h0M703.5 443.6h0M707.2 442.5h0M709.8 443.5h0M712.5 442.9h0M716.9 442.3h0M718.3 443.7h0M722.2 442.8h0M572.8 445.1h0M575.9 446h0M577.7 444.9h0M581 445.7h0M584.6 445.5h0M587.2 444.9h0M590 445.8h0M593.4 446h0M596.2 444.9h0M598.2 445.9h0M601.5 444.6h0M603.5 444.6h0M608 445.1h0M610.2 445.8h0M613.9 444.4h0M616.3 445h0M618.9 445.3h0M622.3 445.2h0M624.8 446.1h0M627.1 444.4h0M630.5 445.3h0M632.6 444.8h0M636.3 445.2h0M639 445.4h0M643 445.5h0M645.7 444.6h0M647.2 444.7h0M650.5 446h0M654 445.4h0M657.2 444.6h0M660.3 446h0M662.1 444.6h0M664.4 444.5h0M668.1 445.1h0M670.6 446.2h0M673.3 444.8h0M677.6 444.8h0M678.8 445.8h0M682 445.6h0M685.5 445.9h0M689.2 446.2h0M690.7 444.4h0M693.3 445h0M697.1 444.9h0M700.6 445.1h0M702.1 444.5h0M705 445.1h0M708.1 444.8h0M712.5 444.9h0M714 446.2h0M717.4 446.3h0M721.1 445.4h0M722.3 446.1h0M574.4 447.9h0M577 447.8h0M580.4 448.5h0M582.6 447.8h0M585 446.9h0M587.8 447.3h0M590.8 448.3h0M594.4 447.1h0M597.7 447.7h0M599.9 447h0M603.4 448.8h0M606.1 448.8h0M608.6 448.8h0M611.7 448.1h0M614.2 447.9h0M617.5 447.6h0M619.4 447.3h0M624.1 447.8h0M626.7 447.4h0M628.1 448.1h0M632 447.4h0M635.4 447.4h0M637.5 447.1h0M641 448.2h0M643.2 447.9h0M645.5 447.8h0M649.5 447.8h0M652.1 448h0M654.7 447.4h0M657.7 447.5h0M661.2 447.4h0M662.9 447.5h0M666.9 447.5h0M670 447.7h0M673.3 447.2h0M674.8 448h0M678.5 448.7h0M680.7 448h0M684.1 447.4h0M687.2 447.1h0M689 448.3h0M692.3 448.6h0M695.6 447.6h0M699.1 447.6h0M700.8 448.3h0M705.2 447.3h0M707 447.5h0M709.8 447.3h0M712.9 447.1h0M715.7 447.6h0M718.1 447.3h0M721.8 448.2h0M578.4 450.1h0M580.6 450.3h0M584.1 450.8h0M586.6 449.5h0M588.9 450.9h0M593.4 450.7h0M595.2 451.3h0M598.6 450.2h0M601.7 450.5h0M604.9 451.4h0M608.1 450h0M610.6 451h0M612.6 450.5h0M615.7 450h0M619.7 450.1h0M621.9 449.6h0M624.3 449.8h0M628 450.4h0M630.4 450.8h0M633.2 449.8h0M636.4 450.5h0M638.6 449.5h0M642.4 449.9h0M644.3 451.1h0M647.3 450.1h0M649.7 451.1h0M653.2 450.1h0M656 450.8h0M659 451h0M663.2 449.7h0M665.6 450.1h0M668.8 449.7h0M671.2 449.9h0M673.3 450.7h0M675.9 451h0M679.3 451h0M683.4 451.3h0M685.3 450.1h0M689.2 451.3h0M692.1 450.1h0M694.1 451.4h0M697.8 450.7h0M700 449.9h0M703.8 451.3h0M706.2 450.1h0M709.5 449.6h0M710.9 449.5h0M714.3 450.9h0M718.3 451h0M581.9 452.9h0M586.2 453.2h0M588.3 453.1h0M590.8 452.4h0M593.6 453.9h0M596.5 453.9h0M599 452.7h0M603.2 453.7h0M604.8 453.5h0M608.9 453.6h0M611.6 453.8h0M614.7 453.5h0M616.6 453.3h0M621.1 452.9h0M622.4 453h0M626.3 452.1h0M629 453.5h0M630.9 453.8h0M635 453.9h0M637.4 452.5h0M640.5 452.2h0M644.1 452.3h0M646.4 452.4h0M648.5 453.5h0M652.9 452.5h0M655.4 453.3h0M657.5 452.8h0M661.3 452.8h0M664 452.1h0M666.4 453.3h0M668.7 453.3h0M671.6 452h0M675.3 452.2h0M678.4 452.8h0M681.2 453h0M683.3 452h0M685.9 453h0M690.6 453h0M692 453.6h0M695.8 452.6h0M698.3 453.2h0M701.1 452.7h0M705.3 453.5h0M707 453.4h0M711.1 452.4h0M713.1 453.4h0M581.4 455h0M584.5 455.3h0M586.1 455.7h0M589.4 455.3h0M591.7 456.4h0M596.2 454.5h0M598.5 456.1h0M600.9 455.4h0M604 454.8h0M606.2 454.8h0M610.8 455.8h0M612.1 455.1h0M616.7 456.3h0M619.1 455h0M621.8 455.6h0M624.1 455h0M627.1 455.2h0M630.5 455.2h0M633.4 455.7h0M636.4 454.7h0M639.4 455.9h0M642.5 455.7h0M644.4 455.6h0M647.5 454.9h0M651.6 455.1h0M652.7 456.1h0M657.2 454.9h0M659.8 455.7h0M662.8 455.4h0M665 455.4h0M667.1 455.1h0M670.2 456.1h0M674.7 454.9h0M677.5 455.1h0M680.2 456.4h0M683.4 456.3h0M684.9 455.4h0M688.6 454.7h0M692.1 455.6h0M693.8 456.3h0M696.3 455h0M699.3 455.5h0M703.2 455h0M705.7 454.8h0M708.5 456.2h0M711.6 455h0M588.5 458h0M590.4 457.8h0M594.6 458.4h0M596.4 458.5h0M599.9 457.7h0M601.9 457.6h0M605.7 458.6h0M609.6 457.4h0M611.2 457.3h0M614.4 457.8h0M617.9 458.5h0M620.3 458.2h0M624 457.7h0M626.1 458.5h0M628.5 458.2h0M631.2 457.8h0M634.4 457.3h0M637.6 458.2h0M640.6 457.9h0M643.4 458.1h0M645.6 457.1h0M648.5 457.1h0M652.8 457h0M654.5 457.8h0M657.1 457.8h0M660.2 457.7h0M664.1 458.6h0M666.3 457.3h0M669.9 458.6h0M672.6 457.8h0M675.2 457.2h0M678.8 458.2h0M681.9 458.4h0M683.3 458.5h0M687 457.2h0M690.6 458.4h0M693.3 457.1h0M696.3 458.4h0M698.4 457.8h0M701.1 457.9h0M703.6 457.3h0M707.4 458h0M590 459.7h0M593.5 459.6h0M594.7 460.6h0M597.6 459.6h0M602.3 459.8h0M603.9 460.2h0M607 461.5h0M610.8 461.1h0M613.4 460.6h0M615 461h0M619.1 461.5h0M621.9 461h0M624.7 461.2h0M627.3 461.2h0M629.8 460h0M633.8 460.4h0M637.1 460.7h0M638.3 459.5h0M641.9 459.7h0M645.6 461h0M647 461.4h0M651.2 460.9h0M653.1 460.6h0M656.1 459.9h0M659.8 460.4h0M662.9 460.8h0M666 459.9h0M667.2 461h0M670.1 460.2h0M674.5 460.7h0M677.2 461.4h0M679.5 459.6h0M682.1 460.9h0M686.2 460.1h0M689.2 460.6h0M691.9 461.2h0M694.6 459.7h0M696.7 459.8h0M701 460.5h0M702.4 459.8h0M706.4 460.2h0M592 462.1h0M594.6 463.5h0M597.4 463.8h0M599.7 462.5h0M603.5 463.8h0M605.2 464h0M608.4 462.9h0M610.6 463.4h0M613.9 462.9h0M616.7 463.3h0M619.6 462.7h0M623.8 463.2h0M626 463.2h0M629.8 462.7h0M632.5 462.9h0M635.3 463.6h0M637.4 462.7h0M640.7 463.4h0M643.7 462.5h0M646.9 463.7h0M649 463.7h0M651.5 462.1h0M654.1 462.7h0M657.3 463h0M660 462.7h0M664 463.2h0M666.3 463.9h0M669.1 463h0M672.6 463.9h0M674.3 463.7h0M677.3 462.6h0M680.1 464h0M683.1 463.4h0M686 462.4h0M689.6 462.8h0M693.7 463.6h0M695.9 463h0M698 464h0M701.7 463.2h0M598.1 466.4h0M600.6 466.5h0M605.2 465.2h0M606.8 466.3h0M610.3 465.6h0M612.7 466.4h0M615.1 465.7h0M618.4 466.5h0M621.6 466.4h0M623.9 466.5h0M628 465.1h0M631.3 466h0M632.7 466h0M635.8 464.6h0M639.2 465.2h0M641.9 465h0M644.2 466h0M647.3 464.9h0M650.2 464.8h0M653 465.9h0M655.9 466.4h0M660 466.1h0M661.7 465.1h0M665.7 464.8h0M667.1 466.2h0M671.2 465.7h0M673.5 465.3h0M676.3 465.5h0M679.9 464.9h0M683.4 465h0M684.5 466.5h0M689.2 466.6h0M691.3 466.2h0M694.8 464.9h0M599.1 467.6h0M602.8 468.9h0M605 467.4h0M607.8 468.3h0M610.7 468.9h0M614.1 467.2h0M617.4 468.5h0M620 467.7h0M623 468.1h0M626.5 468h0M628.3 467.9h0M631.7 468.4h0M634.2 468.6h0M638.3 468.9h0M639.9 468.2h0M655.4 467.1h0M663.8 467.1h0M667.4 468.9h0M668.8 468.1h0M672 467.4h0M676.3 468.7h0M679 468.9h0M680.9 467.7h0M684.7 467.7h0M687.7 468.3h0M690.1 467.3h0M607 470.3h0M610.1 471.2h0M612.4 470.6h0M615 470.8h0M619.1 471h0M620.9 470.2h0M624.9 471.4h0M628.1 469.6h0M665.3 470h0M671.6 471.3h0M677 471.1h0M680.6 470.7h0M622.4 472.7h0M626.1 472.7h0M798.6 118.1h0M800.8 117.2h0M803.1 117.9h0M806.6 117.1h0M809.5 117.5h0M812 118.9h0M817.7 118.9h0M793.3 120.3h0M796.1 119.9h0M798.8 120.6h0M802.2 120.9h0M805.6 119.7h0M809.1 121.5h0M811.1 120.8h0M814.8 120.6h0M816.3 120.2h0M819 120.8h0M789.6 123h0M792.6 122.9h0M795.4 122.6h0M798.4 123.2h0M800.9 123.9h0M803.5 123.3h0M806.5 123.9h0M809 122.8h0M811.7 123.1h0M814.5 123.5h0M818.7 122.6h0M822.3 123.9h0M788.4 125.6h0M790.5 125.7h0M794.4 126h0M797.3 126.1h0M798.7 126.5h0M802 126.1h0M805.6 124.7h0M808.8 126.1h0M811.7 125h0M814.2 125.2h0M817.8 125.7h0M819.5 126.1h0M786 129h0M789.3 127.3h0M792.8 127.2h0M795.6 127.6h0M797.7 127.9h0M800.5 127.7h0M803 127.5h0M806.8 128.4h0M810.6 128.1h0M811.8 128.3h0M816 128.6h0M819.3 129.1h0M820.6 128.1h0M785.7 130.5h0M787 130.5h0M790.7 131.1h0M793.8 129.9h0M796.5 131h0M800.4 129.8h0M801.9 130.1h0M804.7 131.6h0M809 131.5h0M811.7 131.2h0M814.2 130.9h0M817.2 130.9h0M787.3 132.4h0M789.1 133h0M793.1 133.9h0M795.4 133.4h0M798.2 132.3h0M800.6 133.5h0M804.5 132.6h0M806.4 133.5h0M809.3 133h0M812 132.4h0M814.9 133.5h0M817.6 133.7h0M787.8 136.1h0M790.4 136.2h0M793.5 134.9h0M797.2 134.7h0M799.1 136h0M802.4 136h0M804.6 135.7h0M807.3 135h0M811 134.7h0M813.9 136.3h0M817.7 134.9h0M787.4 138.4h0M789.8 138.3h0M792.1 137.4h0M794.8 137.4h0M797.5 138.7h0M801.7 138.4h0M804.4 138h0M806.4 137.5h0M809.9 139.2h0M812.6 138.7h0M815.3 137.3h0M817.7 137.6h0M785.3 141.5h0M788.6 141.3h0M790.6 141.7h0M794.6 139.8h0M796.2 139.8h0M800.3 141.3h0M802.6 139.9h0M804.9 141.4h0M807.6 140.3h0M810.8 140.5h0M813.3 140.8h0M816.8 141h0M785.7 143.5h0M789.7 142.6h0M792.6 143.6h0M795.4 144.1h0M798 142.4h0M800.4 142.3h0M804.2 142.4h0M806.7 144.1h0M810 144.1h0M812.2 144.1h0M815.3 143.3h0M785.1 146.6h0M788.8 146.2h0M791.6 145.8h0M793.5 144.8h0M795.7 146.6h0M798.7 146.1h0M802.5 145.4h0M805.2 146.6h0M809 145.9h0M810.4 145.8h0M813.1 145.5h0M786.3 147.7h0M789.1 148.5h0M791.8 147.8h0M795.5 147.5h0M797.2 149h0M801.5 149.3h0M804.3 148.5h0M806.9 148.7h0M809.3 147.5h0M811.9 147.4h0M815.1 148.3h0M785.9 151.1h0M788.6 150.8h0M791.1 150.1h0M792.9 151.4h0M796 151.6h0M799 150.5h0M802.7 151.8h0M805.9 151.3h0M808.3 151.8h0M811.2 151.1h0M813.7 151.2h0M788.7 153.3h0M791.5 152.8h0M795.3 153.8h0M797.8 152.4h0M800.7 152.6h0M804.5 153.3h0M806.6 154h0M810.1 152.5h0M813.4 153.3h0M815.9 154h0M790.8 156.7h0M793.7 156.9h0M796.5 154.9h0M799 155.7h0M802.3 155.6h0M805 156.4h0M808.5 156.5h0M810.4 155.5h0M814.2 155h0M817.8 155.7h0M792.7 157.7h0M797.8 157.7h0M801.3 157.5h0M803.2 158.1h0M807.6 157.6h0M809.7 159.3h0M813.2 157.7h0M815.9 157.5h0M818.4 157.8h0M799.3 160.5h0M802.7 160.2h0M805.5 161.6h0M808.6 160.6h0M811.4 161.1h0M814.2 160.6h0M817.8 160.8h0M804 163.7h0M807.7 164.4h0M810.6 164h0M812.8 163.1h0M815.4 163h0M805.5 165.3h0M809 165.4h0M810.2 165.5h0M814.1 165.8h0M817.1 166.7h0M889.1 434.8h0M884.7 438.1h0M886.3 437.5h0M890.6 436.8h0M892.7 437.8h0M897.8 437.4h0M885.9 440.3h0M888.3 439.4h0M892.1 439.7h0M893.6 439.6h0M896.8 439.7h0M900.8 439.1h0M902.9 439.5h0M884.9 441.3h0M886.9 442.9h0M890.1 442.4h0M892.2 442.4h0M895 442.2h0M898.6 442.4h0M901.4 441.2h0M905.2 443.2h0M885.6 445h0M887.8 445.2h0M890.7 444.5h0M894.9 445.5h0M896.6 443.8h0M901 443.8h0M902.2 443.7h0M906.6 445.5h0M908.2 445.3h0M911.4 445.1h0M887.8 447.5h0M890.4 446.8h0M892.4 448.1h0M896.4 447.2h0M898.7 447.6h0M901.7 447.1h0M903.8 448h0M908.4 446.8h0M909.7 447.8h0M912.8 447.6h0M892.4 449.7h0M897.4 449.5h0M899.6 449.2h0M903.4 449h0M906.8 450.5h0M909.6 449.7h0M911 450.7h0M913.8 450.5h0M902.6 452.7h0M904.4 452.6h0M907.3 452h0M909.4 452.8h0M913 452.7h0M916.2 452.4h0M918.2 452.9h0M909 454h0M911.6 454.8h0M915.4 455.3h0M918 454.5h0M920 455.6h0M913.7 456.9h0" stroke="#999999" stroke-width="7.8" stroke-linecap="round" fill="none"/>
<path d="M779.3 341.6h0M785.5 340.9h0M787.4 341h0M791.2 341.5h0M797.1 341.7h0M769.9 344.2h0M772.2 344.3h0M774.5 342.9h0M778.8 343.4h0M781.5 344.2h0M783.8 343.1h0M787.4 344.2h0M788.5 342.8h0M792.9 343.4h0M795 343.4h0M798.8 343.5h0M800.8 344.3h0M803 344.2h0M763.8 345.7h0M767.7 345.9h0M771.4 345.8h0M773.8 345.1h0M776.5 345.2h0M778.6 346.6h0M782.9 346.1h0M785 345.6h0M787.3 346.8h0M790.3 346.6h0M793.2 346.7h0M796.8 345.6h0M799.9 346h0M802.8 346.7h0M805.8 346.8h0M809.3 346.1h0M759.6 348h0M762.7 348.7h0M767 349.2h0M768.6 348.5h0M772.4 347.9h0M775.5 349h0M777.4 349.3h0M781.4 348.8h0M782.7 349.2h0M786 348.4h0M790.3 348.1h0M793.3 349.2h0M795.6 347.7h0M798 347.9h0M801.7 348.7h0M804.2 348.2h0M807.7 349.1h0M810.4 348.1h0M750.5 350.9h0M754.1 350.6h0M756 350.5h0M758.2 351.8h0M761.7 351.7h0M765.2 351.5h0M768.1 350.2h0M770.5 350.8h0M773.8 350.9h0M777.2 351h0M779.2 351.3h0M782.1 351.4h0M785.2 351.3h0M788.9 351.9h0M791.3 350.1h0M793.4 351.8h0M797 351.2h0M799.6 350.4h0M802 351.2h0M806.3 351.5h0M808.9 351.2h0M810.5 350.7h0M813.5 351.3h0M817.1 351.5h0M819.7 351.2h0M823.2 351.3h0M826.6 351.6h0M745 353.7h0M749.3 353.8h0M751.4 354.2h0M755 353h0M757.5 353.1h0M760.2 353.4h0M762.8 353.5h0M765.6 353.4h0M768.7 354.2h0M771.1 352.6h0M774.6 353h0M777.5 352.7h0M781.6 353.5h0M784.3 352.7h0M787 353.9h0M789.3 352.6h0M792.2 352.8h0M794.7 353h0M798.3 353.5h0M800.9 353.3h0M803 354.3h0M807.4 354h0M810.2 354.2h0M813 352.8h0M816.4 353.3h0M817.9 353.7h0M820.5 352.6h0M823.3 353.4h0M826.6 353.1h0M738.8 356.8h0M742.3 355.7h0M744.3 356.3h0M747 356h0M749.8 355.6h0M754 355.4h0M755.5 355h0M758.3 357h0M761.2 355.9h0M765.4 356.8h0M767.4 356.2h0M770.1 355.8h0M774.3 356.4h0M776.5 355.7h0M779.9 355.8h0M782.5 355.1h0M784.5 356h0M787.4 355.4h0M791 355.1h0M792.9 355.6h0M796.8 355.3h0M798.7 356h0M802.7 356.2h0M805.5 355.3h0M808.4 355.1h0M810.3 355.7h0M814.7 356.2h0M816.6 356.7h0M820.5 355.5h0M822 356.7h0M826 355.7h0M829.1 356.3h0M831.1 356.7h0M737.4 358.5h0M739.8 359.3h0M742.3 357.9h0M746.6 357.9h0M748.3 358.4h0M751.2 358.8h0M754.9 358.5h0M757.4 358.1h0M759.6 358.7h0M764.3 357.7h0M766.4 358.9h0M768.2 358.5h0M772.1 358.9h0M774.4 358.3h0M778.8 359.2h0M781 359.2h0M783.2 358.3h0M787.5 358.9h0M789.9 358.9h0M793.3 358.6h0M794.7 358.3h0M798.5 358.9h0M801.3 359.2h0M804.3 357.7h0M806.3 358.1h0M809.9 359.1h0M813 359.4h0M814.9 358.8h0M817.8 359.5h0M822 358.6h0M824.3 358.1h0M826.4 358.8h0M829.4 359h0M832.4 357.7h0M731 360.9h0M732.3 360.5h0M734.8 360.6h0M737.9 361.8h0M742.1 361.1h0M745.4 360.5h0M747.2 361.9h0M750.9 360.7h0M752.3 360.5h0M756 361.8h0M759.3 361.2h0M762.5 361.2h0M764.6 360.6h0M768.4 361.4h0M769.8 360.2h0M773.6 360.8h0M775.8 362h0M779.6 361h0M781.4 361.6h0M785.2 361.6h0M788.1 360.7h0M790.4 361.1h0M793.2 360.5h0M796 361.6h0M799.7 361.2h0M803.3 360.2h0M805.6 361.7h0M809.2 361h0M810.9 362h0M814.9 360.4h0M817.8 361.5h0M820.5 361.5h0M823.2 361.6h0M826.6 361.9h0M827.8 361h0M830.9 361.5h0M834.6 362h0M725.1 364.4h0M728.9 364.2h0M731.6 364.5h0M735.1 363.4h0M737.3 364.4h0M740.6 363.9h0M743.6 363.8h0M745.3 362.8h0M748.2 363.7h0M752.3 364.3h0M754.2 364h0M757.3 362.9h0M760.3 363h0M762.8 363.6h0M767.2 363.6h0M769.8 364.2h0M772.4 363.8h0M774.2 364.4h0M777.9 363h0M780.9 363.1h0M784.2 364.5h0M786.5 364.1h0M790.4 363.3h0M793.2 363.9h0M794.9 363.2h0M797.2 364.4h0M800.3 363.5h0M803.3 363.1h0M806.7 364.6h0M810 362.8h0M813.4 363.1h0M816.1 364.5h0M818 363.6h0M821.1 363.9h0M823.3 363.4h0M827.8 362.7h0M829.7 362.8h0M832.1 363.2h0M835.5 363.4h0M720.5 366.8h0M723.3 366.3h0M727 366.2h0M729.9 365.3h0M733 365.1h0M736.3 366.3h0M738.5 365.8h0M741 366.7h0M744 367h0M747.7 366.9h0M749.6 365.8h0M754.1 366.2h0M755.3 365.9h0M758.2 365.2h0M761.5 366.2h0M765.3 366.5h0M767.6 366.2h0M771.2 365.8h0M773.2 366h0M775.8 365.2h0M778.5 366.3h0M782.7 365.9h0M785.5 365.8h0M788.6 365.3h0M790.8 366.9h0M793.2 365.5h0M796.1 366.2h0M798.9 366.1h0M802.6 366.9h0M804.4 365.7h0M808.1 366.8h0M810.3 365.5h0M814 366.7h0M816 366.7h0M820.7 366.4h0M822.5 365.7h0M825.7 367.1h0M829.3 366.9h0M832.3 366.3h0M833.6 365.9h0M720.8 368.8h0M723.1 367.7h0M724.8 368h0M728.7 369h0M730.6 368.9h0M733.8 367.8h0M737.7 368.4h0M741.1 369.5h0M742.9 369.3h0M745.6 369.6h0M748.4 369.6h0M752.7 369.5h0M755.2 368h0M757.1 368.2h0M761.1 368.9h0M764 367.9h0M765.7 369.5h0M769.4 368.2h0M771.2 369.3h0M774.8 368.4h0M777.8 368.6h0M780.1 368.8h0M783.1 368.1h0M785.6 369.1h0M789.8 368.4h0M791.8 369.1h0M795.4 367.8h0M798.1 369.2h0M801.9 368.1h0M804.7 368.9h0M807.6 369.2h0M810 367.7h0M812.3 368.1h0M814.8 368.1h0M817.8 369.4h0M820.4 369.2h0M823.8 368h0M826.4 368.5h0M829 368.5h0M832 369.2h0M835.2 369.5h0M838.6 369h0M718.6 371.8h0M722.1 370.2h0M725.1 370.9h0M726.6 371.8h0M729.8 370.5h0M732.4 371.1h0M735.9 371.3h0M738.8 371.7h0M742.3 370.6h0M744.7 370.4h0M748 371.6h0M749.7 370.5h0M753.5 370.6h0M756.6 371.9h0M758.7 371.6h0M762.2 370.3h0M764.7 370.2h0M768.4 371.1h0M771.3 371.1h0M772.9 371.5h0M776.5 371.1h0M779.7 372h0M782.9 370.4h0M785.5 371h0M788.2 370.4h0M790.2 370.6h0M793.6 371.6h0M796.5 370.9h0M799.3 371.9h0M803 371.3h0M805.6 371.7h0M808.6 370.7h0M810.7 370.7h0M814.5 371.4h0M817.1 370.7h0M820.2 370.4h0M823.1 370.9h0M826 371.9h0M827.8 371.7h0M832.4 370.4h0M833.6 370.7h0M837.2 370.8h0M717.3 372.9h0M720.1 373.8h0M723.6 374.6h0M726.3 373h0M729 373.7h0M731.2 373.4h0M733.8 374.3h0M738.2 373.7h0M741.1 372.9h0M743.3 374.5h0M746.5 373.2h0M748.7 373.9h0M751.1 372.7h0M755.4 374.4h0M757.5 373.5h0M759.9 372.8h0M764.3 374.3h0M765.5 373.5h0M770.1 373.9h0M772 374.2h0M775.9 374.6h0M777.7 374.4h0M780.2 373.9h0M783.2 374.1h0M787.1 373.7h0M790.2 373.6h0M792 373.4h0M794.3 373.9h0M797.5 373.4h0M801.6 373.2h0M803 373.4h0M806.1 373.7h0M809.3 373.2h0M812.4 374h0M816.2 374.3h0M818.5 373.3h0M820.5 372.9h0M824 374.4h0M827.5 374.5h0M830.2 373.3h0M833.7 373h0M835 372.9h0M838.8 372.7h0M840.7 374.2h0M718.9 376.7h0M721.9 375.5h0M723.5 376h0M726.7 376.1h0M730.7 375.6h0M732.2 377.1h0M735.8 375.9h0M738.4 375.9h0M740.7 375.4h0M745.5 375.5h0M747.2 376.1h0M750.8 376.9h0M754.1 376.5h0M755.8 376.3h0M759.7 375.9h0M762 376.4h0M765.2 375.6h0M767.6 377h0M769.7 375.3h0M772.7 376.3h0M775.6 376.4h0M779.7 375.3h0M783.1 375.6h0M785.8 376.7h0M787.7 375.4h0M790 377h0M793.6 376.9h0M797.1 375.3h0M799.1 375.9h0M802.4 376.5h0M805.6 376.1h0M808.9 375.4h0M810.7 376.7h0M814.4 376h0M817.1 376.1h0M820.5 375.3h0M822.8 376.7h0M826.1 375.9h0M828.7 375.4h0M830.6 376.2h0M834.4 376.9h0M837.5 376.1h0M840.5 375.7h0M719.8 378.4h0M723.1 378.8h0M726.4 379.2h0M729.3 378.6h0M736.4 377.8h0M739.4 378.9h0M742.7 378.4h0M745.2 379h0M748.4 379.7h0M750.8 379.6h0M754.8 379.3h0M758 379.6h0M761.4 378.8h0M763 379h0M766.5 377.9h0M769 379.2h0M772.5 379.6h0M775.5 378.3h0M778.6 379.1h0M781.6 378.5h0M783.4 378.6h0M786.7 379.5h0M788.6 379.5h0M791.8 379.3h0M795.5 378.1h0M797.9 378.7h0M800.4 379.6h0M804.8 378.1h0M806.7 379.1h0M810 378.7h0M812.9 378h0M814.7 379h0M819.2 379.7h0M822.2 377.7h0M824.8 379.3h0M826.5 379.4h0M829.7 378.5h0M833.4 377.9h0M835.8 378.6h0M838.5 378.4h0M840.9 378.3h0M722.1 380.7h0M723.6 381.1h0M739.2 380.7h0M741.8 381.6h0M744.8 380.6h0M747.3 380.4h0M750.6 381.2h0M754.1 382h0M756.3 381.8h0M759.2 381.2h0M762.4 380.3h0M764.2 382h0M767.8 380.3h0M771.5 380.5h0M773.1 380.5h0M776.9 381.2h0M779.9 381.1h0M781.5 380.3h0M784.2 382h0M787.2 381.8h0M791.5 381.5h0M793 381.8h0M797.6 381.8h0M799.1 382.1h0M802.3 381.5h0M805.4 381.1h0M807.3 381.5h0M811 381.3h0M813.5 381.6h0M816.2 381.3h0M819.9 380.6h0M822.4 381.7h0M824.9 380.7h0M827.7 380.4h0M831 381.9h0M834.6 381.1h0M837 382.1h0M840.3 381.8h0M745.7 383.8h0M749.2 384.6h0M751.2 383.2h0M754.8 382.8h0M758.1 383.3h0M759.9 384.1h0M762.6 383h0M766.7 384.7h0M769.7 383.1h0M772 383.3h0M775.5 383.6h0M778.2 383.5h0M781.6 384h0M782.9 383.6h0M786.3 383.4h0M788.8 382.9h0M792.6 382.8h0M795.5 383.2h0M798.9 383h0M801 383.8h0M803.5 383.9h0M806.8 382.9h0M809.9 384.2h0M811.7 384h0M816.2 382.9h0M817.5 384.2h0M820.5 383.4h0M824.7 383.5h0M827 382.8h0M829.6 384.3h0M832.3 383h0M835.9 382.8h0M839.7 383.7h0M842.6 382.8h0M744.9 385.3h0M747.7 385.3h0M750.4 386h0M753.9 385.8h0M756.4 385.9h0M759.8 386.9h0M761.9 386.1h0M765.5 385.3h0M767.9 386.7h0M769.8 386.3h0M773 387.1h0M775.8 385.7h0M778.9 386.7h0M782.4 386.5h0M785.3 385.3h0M787.6 386.3h0M790.8 386.5h0M794.7 386.7h0M796.8 385.5h0M799.9 385.9h0M802 385.8h0M804.6 385.9h0M807.5 387.1h0M811.4 387.2h0M814.6 385.9h0M817.6 385.8h0M819.8 386.3h0M822.7 385.7h0M826.6 387.1h0M829.2 387.1h0M831.7 386.6h0M833.4 387.1h0M836.9 387.3h0M840.6 386.2h0M748.8 388.3h0M751.7 389.2h0M754.4 388.9h0M757.2 388.6h0M760.2 388.8h0M762.9 389.2h0M766.3 388.5h0M769.7 389.8h0M771.2 388.7h0M775 388.5h0M777.1 388.8h0M780.2 388.6h0M784.4 389h0M786.2 388.3h0M789.7 388.1h0M791.5 389.4h0M796 388.6h0M799 387.9h0M800.7 388h0M804.9 388h0M806.5 389.2h0M808.8 389h0M811.7 388.1h0M815.2 388.9h0M818.2 388h0M821.9 388.3h0M823.4 389.5h0M827.8 388.8h0M830.5 389.4h0M833.5 387.9h0M834.8 388h0M839.5 389.5h0M840.7 389.7h0M746.9 391.3h0M749.6 391.7h0M753.5 392.2h0M756.9 391.5h0M759 392h0M762 391.5h0M764.1 391.4h0M767.3 390.5h0M770 390.6h0M773.2 392.2h0M776.4 391.2h0M780 391.8h0M782.3 392h0M784.4 390.3h0M787.6 392.2h0M790.3 391.5h0M794.3 391.8h0M796.3 390.8h0M799.1 391h0M801.8 391.7h0M805.5 391.2h0M808.9 390.6h0M810.9 391.9h0M813.5 390.5h0M817.9 392.1h0M820 392h0M821.9 391.5h0M826.2 391.3h0M829.3 391.7h0M830.9 391.5h0M834.1 391.3h0M837.4 390.6h0M840 390.5h0M749.8 394.4h0M752.3 394.5h0M754.4 393.7h0M758 393.1h0M759.9 392.9h0M762.8 394h0M767.1 394.4h0M769.9 393.4h0M771.5 394.6h0M775.7 393h0M777 394.8h0M780.1 393h0M784 393h0M787.1 393.6h0M788.8 393.6h0M791.8 394.3h0M795.6 394h0M797.3 394.6h0M800.9 393.3h0M804.6 394.7h0M806.8 393h0M810.3 392.9h0M813.4 393.5h0M814.7 393h0M819.3 394.3h0M821.1 394.5h0M823.9 394.4h0M827.6 393.4h0M829.9 393.7h0M833.5 393.1h0M835.5 393.1h0M749.8 396.5h0M752.2 395.4h0M755.6 396.6h0M758.1 397.3h0M762.2 396.2h0M765.1 396.8h0M767 395.6h0M770.1 396.4h0M774.2 395.8h0M776.7 397.3h0M778.4 397.2h0M782.3 396.2h0M786 396.5h0M788.4 395.6h0M791.3 396.3h0M794.6 395.8h0M796.4 396.2h0M799.3 395.9h0M802.3 395.5h0M805.7 396.5h0M807.3 395.5h0M811.8 396.8h0M813.4 397.3h0M817.6 396.2h0M819.8 396.4h0M822.7 395.5h0M826.5 397.1h0M829.1 396.3h0M831.3 395.5h0M834 395.9h0M748.4 399.4h0M751.7 399h0M754.7 399.5h0M756.8 398.2h0M760.7 399.1h0M763.9 399.7h0M765.8 398.3h0M768.2 398.2h0M772 399.5h0M774.8 399.5h0M777.8 399.6h0M781.4 399.1h0M783.4 399.7h0M785.8 398.9h0M788.7 398h0M791.5 398.5h0M796.1 399.8h0M798.8 398.8h0M801 398.4h0M804.2 399.4h0M806.4 399.8h0M808.8 398.8h0M812.5 398.1h0M816.5 398.3h0M818.4 399.4h0M821.7 399.4h0M824.2 399.8h0M827 398.9h0M831 398.4h0M833.8 397.9h0M753.4 401.2h0M756.7 400.6h0M758.1 401.8h0M762.7 401.8h0M764.7 401.5h0M766.7 402.2h0M770.5 401.7h0M773 401.2h0M776.4 401.9h0M779.9 401.6h0M782.9 401.6h0M785.9 401.1h0M787.3 402h0M791 401.4h0M794.3 401.3h0M797.1 401h0M800 402.3h0M802 402.2h0M804.8 401.2h0M809.2 401.3h0M810.9 400.6h0M813.5 400.9h0M816.8 401.7h0M818.9 401.4h0M822.5 402.2h0M825.6 401.8h0M751.6 404.1h0M755.1 403.9h0M757.2 404.2h0M760.7 403.8h0M762.9 403.1h0M765.7 403.3h0M768.7 403.7h0M771.1 403.4h0M774.5 403.2h0M778.4 403h0M780.8 403.3h0M783.6 403.4h0M786.9 403h0M789.6 403.1h0M793.3 403.2h0M795.4 403.6h0M797.4 404.2h0M801.9 404.6h0M803.1 403.2h0M806.5 403.4h0M809.5 404.2h0M812.3 404.6h0M815.3 403.3h0M817.9 403.4h0M821 404.4h0M824.4 404.3h0M756 405.7h0M758.9 407.4h0M762.6 405.5h0M765.2 405.5h0M768.5 406.3h0M770.2 407.4h0M772.8 407h0M777.1 406.7h0M779.9 406.5h0M781.9 406.2h0M785.6 406.9h0M787.4 405.8h0M791.1 406.6h0M794.4 406.3h0M796.3 406.4h0M800.4 407.1h0M802.9 407.4h0M806.3 405.8h0M808.6 405.6h0M810.4 405.8h0M814.4 407.4h0M816.1 406.3h0M819 406.7h0M758.4 408.2h0M760.8 409.4h0M763.6 409.4h0M765.9 409.5h0M768.6 409.1h0M771.8 409.5h0M774.4 409.1h0M778.8 409.7h0M781.1 408.8h0M783.9 408.6h0M787.2 408.5h0M789.7 408.3h0M793 408.6h0M795.3 409h0M797.3 409h0M801.1 409.1h0M806.3 408.1h0M770.1 412.2h0M774.2 411.5h0M775.5 411.4h0M778.8 411.4h0M783.1 412.2h0M785.7 410.8h0M788.8 412.1h0M789.9 412.2h0M792.9 410.7h0M797.1 410.6h0M777.9 413.1h0M780.6 413.5h0M783.6 413.8h0" stroke="#E63946" stroke-width="7.8" stroke-linecap="round" fill="none"/>
<path d="M884.5 332.4h0M875.3 335.6h0M878 335.5h0M881 335.1h0M883.5 334.4h0M886.5 335.4h0M888.4 334.7h0M891.4 333.9h0M873.1 337.8h0M876.4 338.2h0M878.4 337.7h0M881.9 337.8h0M884.8 338h0M887.3 337.2h0M890.6 337.6h0M893.8 337.5h0M871.7 340.6h0M873.6 340.7h0M878.1 338.9h0M880.6 339.9h0M882.8 339.3h0M885.5 340.2h0M888.8 339.3h0M892 339.6h0M894.2 340.3h0M897.1 339.6h0M871.1 342.8h0M873.7 341.9h0M875.3 343h0M879 342.3h0M881.8 342.3h0M884.9 342.2h0M887.1 342.4h0M890 341.5h0M892.7 341.7h0M896.8 343.1h0M899.1 341.4h0M872 344.3h0M875 345.1h0M876.6 344.7h0M880.9 345.6h0M883.2 344.4h0M886.9 344.4h0M889.8 345.7h0M892.9 345.4h0M895.2 344.9h0M897.3 345.3h0M872.4 348.1h0M875.1 346.8h0M878.8 347.9h0M881.4 347.5h0M885 346.5h0M887.4 346.7h0M889.7 346.7h0M892.8 348.1h0M895.8 348.1h0M899 348.3h0M875.2 349.1h0M876.6 350.1h0M880.4 349.4h0M882.7 349.9h0M886.9 350.4h0M889.9 350.6h0M891 350h0M895.4 350h0M897.2 349.3h0M900.4 349.9h0M872.8 352.1h0M876.9 352.3h0M878.1 353.2h0M882.8 351.8h0M884.8 353.1h0M888.3 351.5h0M890.5 352.8h0M893.2 352.7h0M896.2 352.3h0M872.1 355.1h0M873.7 354.7h0M878.4 355.8h0M879.7 355h0M884.2 355.3h0M885.8 354.9h0M889.5 354.9h0M891.3 354.3h0M895.2 355.1h0M897 355.6h0M870.3 358h0M874 358.1h0M876.4 357.6h0M879.2 358.1h0M881 356.8h0M885.4 357h0M888.1 357.2h0M891.3 356.7h0M894.3 356.6h0M895.5 357.6h0M869.2 359.9h0M871.3 359.5h0M874.2 360.3h0M876.5 359.6h0M880.8 359.4h0M883.6 360.2h0M886.3 360.4h0M888.2 360.3h0M891.5 359.7h0M865.2 362h0M867.2 363.4h0M869.7 362.6h0M872.4 363.3h0M875.3 362.7h0M878.5 363.2h0M881.4 362.7h0M883.8 363h0M887 362.2h0M866.8 365.4h0M868.4 364.2h0M871.9 364.5h0M874.2 364h0M876.5 365.3h0M880.5 365.5h0M882.6 364.4h0M864.5 367.8h0M867 367.5h0M869.8 367.5h0M872.3 367.6h0M875.4 367.8h0M881.6 366.9h0M860.9 370.9h0M862.6 370.4h0M865.8 369.9h0M868 370.7h0M861.9 372.2h0M863.7 372h0M868.1 372.6h0" stroke="#E63946" stroke-width="7.8" stroke-linecap="round" fill="none"/>
<path d="M895.6 441.2h0M898.3 442.3h0M900.4 440.9h0M903.1 441.7h0M906.4 441.9h0M895.5 443.2h0M899.6 444.3h0M902.4 444.5h0M905.2 443.7h0M907.2 443.3h0M895.7 446h0M898.6 447.3h0M901.3 445.8h0M902.8 446.2h0M906.3 447.4h0M909.8 446.6h0M902.6 448.8h0M905 448.9h0M908.3 449.4h0M910.1 449h0M912.8 448.2h0M915.9 449.5h0M902.8 451.3h0M907.4 451.1h0M909.3 450.8h0M911.8 450.9h0M914.3 451.9h0M918.6 451.1h0M910.6 453.5h0M912.9 453.5h0M916.4 455.1h0" stroke="#E63946" stroke-width="7.8" stroke-linecap="round" fill="none"/>
<g fill="#E63946" fill-opacity="0.8" stroke="#E63946" stroke-opacity="0.95" stroke-width="1.5"><circle cx="589.1" cy="447.4" r="3.7"/><circle cx="665.9" cy="445.8" r="3.7"/><circle cx="686.5" cy="463.8" r="3.7"/><circle cx="665.2" cy="440.4" r="3.7"/><circle cx="624.8" cy="433.9" r="3.7"/><circle cx="591.8" cy="436.3" r="3.7"/><circle cx="598.2" cy="452.3" r="3.7"/><circle cx="712.7" cy="454" r="3.7"/><circle cx="651.4" cy="444.2" r="3.7"/><circle cx="627.4" cy="443.4" r="3.7"/><circle cx="675.5" cy="433.3" r="3.7"/><circle cx="655.6" cy="441.5" r="3.7"/><circle cx="614.1" cy="448.6" r="3.7"/><circle cx="634.6" cy="445" r="3.7"/><circle cx="618.4" cy="444.6" r="3.7"/><circle cx="593.6" cy="428.9" r="3.7"/><circle cx="595.5" cy="444.3" r="3.7"/><circle cx="661.5" cy="447.6" r="3.7"/><circle cx="616.7" cy="451.4" r="3.7"/><circle cx="634.3" cy="468.6" r="3.7"/><circle cx="634.6" cy="432" r="3.7"/><circle cx="692.3" cy="457.2" r="3.7"/><circle cx="710.9" cy="442" r="3.7"/><circle cx="683.3" cy="452.1" r="3.7"/><circle cx="601.7" cy="462.5" r="3.7"/><circle cx="624.9" cy="456.9" r="3.7"/><circle cx="674.3" cy="430.8" r="3.7"/><circle cx="609.5" cy="428.1" r="3.7"/><circle cx="643.4" cy="454.4" r="3.7"/><circle cx="646.6" cy="429.4" r="3.7"/><circle cx="688.9" cy="438.8" r="3.7"/><circle cx="641" cy="443" r="3.7"/><circle cx="622.8" cy="468.8" r="3.7"/><circle cx="586.5" cy="435.3" r="3.7"/><circle cx="685" cy="463.4" r="3.7"/><circle cx="699.3" cy="456.3" r="3.7"/><circle cx="597.4" cy="443.4" r="3.7"/><circle cx="655.7" cy="451.1" r="3.7"/><circle cx="694.7" cy="443.1" r="3.7"/><circle cx="680" cy="430.6" r="3.7"/><circle cx="642.2" cy="456.6" r="3.7"/><circle cx="615.5" cy="454.1" r="3.7"/><circle cx="646.8" cy="445.7" r="3.7"/><circle cx="654.3" cy="437.5" r="3.7"/><circle cx="605.3" cy="465.6" r="3.7"/><circle cx="690.2" cy="449.9" r="3.7"/><circle cx="601.8" cy="461" r="3.7"/><circle cx="695" cy="456.5" r="3.7"/><circle cx="684.3" cy="438.4" r="3.7"/><circle cx="712.9" cy="448.3" r="3.7"/><circle cx="609.8" cy="428.5" r="3.7"/><circle cx="665.3" cy="434.8" r="3.7"/><circle cx="614" cy="438.1" r="3.7"/><circle cx="603.3" cy="458.8" r="3.7"/><circle cx="592.6" cy="444.5" r="3.7"/><circle cx="640.1" cy="439.3" r="3.7"/><circle cx="630.6" cy="467.1" r="3.7"/><circle cx="575.9" cy="431.7" r="3.7"/><circle cx="696.3" cy="443.9" r="3.7"/><circle cx="591.6" cy="445.7" r="3.7"/><circle cx="647.2" cy="444.9" r="3.7"/><circle cx="607.9" cy="427.6" r="3.7"/><circle cx="642.1" cy="446.7" r="3.7"/><circle cx="703.2" cy="453.7" r="3.7"/><circle cx="668.5" cy="437.2" r="3.7"/><circle cx="647.5" cy="428.4" r="3.7"/><circle cx="677.1" cy="464.9" r="3.7"/><circle cx="626.5" cy="468.3" r="3.7"/><circle cx="602.6" cy="466.6" r="3.7"/><circle cx="657.7" cy="457.5" r="3.7"/><circle cx="627.9" cy="465.1" r="3.7"/><circle cx="637.3" cy="425.6" r="3.7"/><circle cx="667.1" cy="451" r="3.7"/><circle cx="635.1" cy="428.3" r="3.7"/><circle cx="679.8" cy="441.8" r="3.7"/><circle cx="661" cy="465.1" r="3.7"/><circle cx="630.6" cy="448.2" r="3.7"/><circle cx="660.6" cy="465.1" r="3.7"/><circle cx="701.5" cy="452" r="3.7"/><circle cx="605.7" cy="441" r="3.7"/><circle cx="623" cy="452" r="3.7"/><circle cx="663.7" cy="463.2" r="3.7"/><circle cx="661.4" cy="436.8" r="3.7"/><circle cx="641.6" cy="438" r="3.7"/><circle cx="707.8" cy="459.2" r="3.7"/><circle cx="642.4" cy="435.5" r="3.7"/><circle cx="595" cy="455.1" r="3.7"/><circle cx="700" cy="436.6" r="3.7"/><circle cx="603.9" cy="457.9" r="3.7"/><circle cx="638.3" cy="420.6" r="3.7"/><circle cx="612" cy="431.3" r="3.7"/><circle cx="584" cy="427.8" r="3.7"/><circle cx="684" cy="449.5" r="3.7"/><circle cx="602.3" cy="433.1" r="3.7"/><circle cx="673.1" cy="458.8" r="3.7"/><circle cx="612.9" cy="439.3" r="3.7"/><circle cx="626.9" cy="462.6" r="3.7"/><circle cx="613.6" cy="444.7" r="3.7"/><circle cx="638.6" cy="444.4" r="3.7"/><circle cx="673.1" cy="464.8" r="3.7"/><circle cx="636.9" cy="459.1" r="3.7"/><circle cx="622.9" cy="435.6" r="3.7"/><circle cx="596.9" cy="432.5" r="3.7"/><circle cx="630.8" cy="436.3" r="3.7"/><circle cx="657.5" cy="466.8" r="3.7"/><circle cx="686.6" cy="434.4" r="3.7"/><circle cx="636.4" cy="434.3" r="3.7"/><circle cx="708.7" cy="448.3" r="3.7"/><circle cx="586.8" cy="431" r="3.7"/><circle cx="622.9" cy="442.9" r="3.7"/><circle cx="646.7" cy="463.5" r="3.7"/><circle cx="615.1" cy="460.4" r="3.7"/><circle cx="672.9" cy="449.8" r="3.7"/><circle cx="672.9" cy="464.7" r="3.7"/><circle cx="688.5" cy="449.9" r="3.7"/><circle cx="597.3" cy="436.9" r="3.7"/><circle cx="634.4" cy="445.2" r="3.7"/><circle cx="649.2" cy="454" r="3.7"/><circle cx="625.4" cy="459.5" r="3.7"/><circle cx="674.6" cy="439.7" r="3.7"/><circle cx="696.2" cy="439.9" r="3.7"/><circle cx="597.9" cy="450.4" r="3.7"/><circle cx="594.1" cy="456" r="3.7"/><circle cx="669.4" cy="462.8" r="3.7"/><circle cx="683.2" cy="444.4" r="3.7"/><circle cx="635.9" cy="466" r="3.7"/><circle cx="672.8" cy="460.7" r="3.7"/><circle cx="651.1" cy="438.9" r="3.7"/><circle cx="627" cy="447.9" r="3.7"/><circle cx="607.3" cy="428.6" r="3.7"/><circle cx="636.2" cy="452.1" r="3.7"/><circle cx="661.8" cy="443.2" r="3.7"/><circle cx="659.3" cy="453.9" r="3.7"/><circle cx="658.7" cy="464.8" r="3.7"/><circle cx="655.6" cy="451" r="3.7"/><circle cx="681.8" cy="459.2" r="3.7"/><circle cx="690.8" cy="461.9" r="3.7"/><circle cx="693.9" cy="456" r="3.7"/><circle cx="657.7" cy="458.2" r="3.7"/><circle cx="637.4" cy="467.9" r="3.7"/><circle cx="673" cy="436.9" r="3.7"/><circle cx="606.9" cy="449.1" r="3.7"/><circle cx="641.8" cy="430" r="3.7"/><circle cx="666.1" cy="450.2" r="3.7"/><circle cx="683.8" cy="457.4" r="3.7"/><circle cx="661.8" cy="453.5" r="3.7"/><circle cx="698.5" cy="445.8" r="3.7"/><circle cx="669.4" cy="439.7" r="3.7"/><circle cx="605.8" cy="430.2" r="3.7"/><circle cx="685.7" cy="441.8" r="3.7"/><circle cx="629.5" cy="441.6" r="3.7"/><circle cx="588.7" cy="427.8" r="3.7"/><circle cx="676.4" cy="460.6" r="3.7"/><circle cx="578.9" cy="440.6" r="3.7"/><circle cx="640.1" cy="427.1" r="3.7"/><circle cx="651.2" cy="464.7" r="3.7"/><circle cx="589.1" cy="452.4" r="3.7"/><circle cx="636.4" cy="425.3" r="3.7"/><circle cx="630.1" cy="430.1" r="3.7"/><circle cx="602.7" cy="428.1" r="3.7"/><circle cx="689.9" cy="467.4" r="3.7"/><circle cx="616.9" cy="437.4" r="3.7"/><circle cx="632.9" cy="434.8" r="3.7"/><circle cx="699.8" cy="460.2" r="3.7"/><circle cx="702.5" cy="447.1" r="3.7"/><circle cx="613.2" cy="435.7" r="3.7"/><circle cx="685.7" cy="434.5" r="3.7"/><circle cx="648.6" cy="449.9" r="3.7"/><circle cx="677.6" cy="432.3" r="3.7"/><circle cx="627.1" cy="448.8" r="3.7"/><circle cx="605.3" cy="452.8" r="3.7"/><circle cx="606.3" cy="431.6" r="3.7"/><circle cx="636" cy="450.1" r="3.7"/><circle cx="626.9" cy="455.1" r="3.7"/><circle cx="603" cy="437.4" r="3.7"/><circle cx="701.5" cy="451" r="3.7"/><circle cx="644.2" cy="462.2" r="3.7"/><circle cx="675.2" cy="445.5" r="3.7"/><circle cx="644.8" cy="431.8" r="3.7"/><circle cx="644.9" cy="423.3" r="3.7"/><circle cx="583.9" cy="450.5" r="3.7"/><circle cx="601.3" cy="449.2" r="3.7"/><circle cx="681.2" cy="457.8" r="3.7"/><circle cx="681.5" cy="446.4" r="3.7"/><circle cx="624" cy="444.4" r="3.7"/><circle cx="682.4" cy="433" r="3.7"/><circle cx="584.3" cy="446.5" r="3.7"/><circle cx="596.9" cy="451.2" r="3.7"/><circle cx="659.1" cy="460.2" r="3.7"/><circle cx="656.7" cy="441.2" r="3.7"/><circle cx="691.3" cy="455.2" r="3.7"/><circle cx="579.5" cy="441.1" r="3.7"/><circle cx="662.3" cy="450.4" r="3.7"/><circle cx="645.5" cy="438.7" r="3.7"/><circle cx="655.8" cy="450.3" r="3.7"/><circle cx="605.1" cy="462.1" r="3.7"/><circle cx="626" cy="467.3" r="3.7"/><circle cx="695.2" cy="456.3" r="3.7"/><circle cx="622.4" cy="455" r="3.7"/><circle cx="661.4" cy="433.8" r="3.7"/><circle cx="650" cy="436" r="3.7"/><circle cx="638.1" cy="420.2" r="3.7"/><circle cx="617" cy="445.7" r="3.7"/><circle cx="629.7" cy="453.8" r="3.7"/><circle cx="603.6" cy="443.9" r="3.7"/><circle cx="608.9" cy="459.9" r="3.7"/><circle cx="613.1" cy="461.2" r="3.7"/><circle cx="630.9" cy="442.3" r="3.7"/><circle cx="644.5" cy="449" r="3.7"/><circle cx="695.1" cy="443.9" r="3.7"/><circle cx="657.6" cy="439.8" r="3.7"/><circle cx="619.5" cy="442.9" r="3.7"/><circle cx="579.9" cy="445.3" r="3.7"/><circle cx="618.6" cy="444.9" r="3.7"/><circle cx="626" cy="459.6" r="3.7"/><circle cx="713.9" cy="368.9" r="3.7"/><circle cx="709.7" cy="408.3" r="3.7"/><circle cx="696" cy="409" r="3.7"/><circle cx="694.9" cy="385.3" r="3.7"/><circle cx="714.4" cy="379.4" r="3.7"/><circle cx="708.8" cy="384.6" r="3.7"/><circle cx="706.7" cy="379.2" r="3.7"/><circle cx="718.2" cy="395.9" r="3.7"/><circle cx="698.7" cy="379.4" r="3.7"/><circle cx="728" cy="398.7" r="3.7"/><circle cx="697.7" cy="378.4" r="3.7"/><circle cx="694.7" cy="377.6" r="3.7"/><circle cx="726.4" cy="377.9" r="3.7"/><circle cx="721.8" cy="419.4" r="3.7"/><circle cx="724.6" cy="400.9" r="3.7"/><circle cx="703.7" cy="399" r="3.7"/><circle cx="729.1" cy="424.4" r="3.7"/><circle cx="687.6" cy="376.4" r="3.7"/><circle cx="710.3" cy="378.3" r="3.7"/><circle cx="735.3" cy="389.6" r="3.7"/><circle cx="704.2" cy="386.4" r="3.7"/><circle cx="733.3" cy="396.8" r="3.7"/><circle cx="720.3" cy="376.3" r="3.7"/><circle cx="726.9" cy="386.9" r="3.7"/><circle cx="694.7" cy="376.8" r="3.7"/><circle cx="712.4" cy="417.5" r="3.7"/><circle cx="711.2" cy="408.4" r="3.7"/><circle cx="713.7" cy="393.8" r="3.7"/><circle cx="697.2" cy="397.2" r="3.7"/><circle cx="734.2" cy="391.2" r="3.7"/><circle cx="707.3" cy="413.6" r="3.7"/><circle cx="745.3" cy="402.6" r="3.7"/><circle cx="692" cy="400.2" r="3.7"/><circle cx="721.2" cy="419.9" r="3.7"/><circle cx="734.3" cy="385.4" r="3.7"/><circle cx="720.4" cy="401.1" r="3.7"/><circle cx="709.2" cy="418.5" r="3.7"/><circle cx="732.6" cy="418.3" r="3.7"/><circle cx="688.3" cy="387.3" r="3.7"/><circle cx="726" cy="398" r="3.7"/><circle cx="739.5" cy="407.4" r="3.7"/><circle cx="731.6" cy="423.5" r="3.7"/><circle cx="719.4" cy="399.1" r="3.7"/><circle cx="715.5" cy="411.4" r="3.7"/><circle cx="705.8" cy="375.6" r="3.7"/><circle cx="715.6" cy="371.5" r="3.7"/><circle cx="730.6" cy="427.3" r="3.7"/><circle cx="730.9" cy="404.4" r="3.7"/><circle cx="695.8" cy="374" r="3.7"/><circle cx="729.2" cy="419.6" r="3.7"/><circle cx="711" cy="382.4" r="3.7"/><circle cx="694.2" cy="404.4" r="3.7"/><circle cx="704.9" cy="371.1" r="3.7"/><circle cx="728.8" cy="418.4" r="3.7"/><circle cx="724.5" cy="379.2" r="3.7"/><circle cx="687.9" cy="399.5" r="3.7"/><circle cx="716.4" cy="421.4" r="3.7"/><circle cx="702.6" cy="369.5" r="3.7"/><circle cx="716" cy="405.8" r="3.7"/><circle cx="743.4" cy="407.8" r="3.7"/><circle cx="711.4" cy="390.7" r="3.7"/><circle cx="687.1" cy="378.5" r="3.7"/><circle cx="712.8" cy="366.3" r="3.7"/><circle cx="725.2" cy="386.3" r="3.7"/><circle cx="746.9" cy="410.8" r="3.7"/><circle cx="713.4" cy="367.1" r="3.7"/><circle cx="723.1" cy="406.2" r="3.7"/><circle cx="735.5" cy="403.6" r="3.7"/><circle cx="719.7" cy="377.8" r="3.7"/><circle cx="695.8" cy="370.8" r="3.7"/><circle cx="637.7" cy="324.4" r="3.7"/><circle cx="658.5" cy="329.1" r="3.7"/><circle cx="611.5" cy="340.6" r="3.7"/><circle cx="575.9" cy="348.3" r="3.7"/><circle cx="662.8" cy="333" r="3.7"/><circle cx="636.9" cy="337.9" r="3.7"/><circle cx="589.8" cy="329" r="3.7"/><circle cx="636" cy="329.6" r="3.7"/><circle cx="586.3" cy="351.9" r="3.7"/><circle cx="626.8" cy="337.4" r="3.7"/><circle cx="647.9" cy="326.4" r="3.7"/><circle cx="614.3" cy="331.3" r="3.7"/><circle cx="676.2" cy="342.5" r="3.7"/><circle cx="571" cy="335.9" r="3.7"/><circle cx="630.2" cy="340.5" r="3.7"/><circle cx="677" cy="347.7" r="3.7"/><circle cx="662" cy="333.5" r="3.7"/><circle cx="609.5" cy="323.2" r="3.7"/><circle cx="665.3" cy="347.5" r="3.7"/><circle cx="631.4" cy="340.7" r="3.7"/><circle cx="614.1" cy="338.3" r="3.7"/><circle cx="595.1" cy="322.2" r="3.7"/><circle cx="660.2" cy="354.7" r="3.7"/><circle cx="654.6" cy="353" r="3.7"/><circle cx="657.7" cy="403.4" r="3.7"/><circle cx="663.5" cy="403.8" r="3.7"/><circle cx="595.2" cy="409.4" r="3.7"/><circle cx="603.6" cy="375.7" r="3.7"/><circle cx="611.2" cy="395" r="3.7"/><circle cx="601.8" cy="369.4" r="3.7"/><circle cx="644.9" cy="368.1" r="3.7"/><circle cx="601.1" cy="411.4" r="3.7"/><circle cx="603.7" cy="401.8" r="3.7"/><circle cx="669.1" cy="403.3" r="3.7"/><circle cx="595" cy="396.2" r="3.7"/><circle cx="665" cy="393.9" r="3.7"/><circle cx="592.1" cy="359.4" r="3.7"/><circle cx="600.2" cy="382.1" r="3.7"/><circle cx="621.2" cy="414.3" r="3.7"/><circle cx="592.9" cy="384.1" r="3.7"/><circle cx="643.4" cy="403.8" r="3.7"/><circle cx="659.8" cy="402.3" r="3.7"/><circle cx="591.6" cy="366" r="3.7"/><circle cx="600.6" cy="381.2" r="3.7"/><circle cx="648.9" cy="398.8" r="3.7"/><circle cx="599.5" cy="412.8" r="3.7"/><circle cx="616.5" cy="383.5" r="3.7"/><circle cx="675.7" cy="394" r="3.7"/><circle cx="658.9" cy="371.4" r="3.7"/><circle cx="650.6" cy="410.5" r="3.7"/><circle cx="617.4" cy="405.7" r="3.7"/><circle cx="618.9" cy="397.2" r="3.7"/><circle cx="663.3" cy="413.5" r="3.7"/><circle cx="664.6" cy="402.7" r="3.7"/><circle cx="675.4" cy="362.8" r="3.7"/><circle cx="660.2" cy="394.8" r="3.7"/><circle cx="758.5" cy="422.1" r="3.7"/><circle cx="848.5" cy="348" r="3.7"/><circle cx="855.2" cy="345.1" r="3.7"/><circle cx="861" cy="348" r="3.7"/><circle cx="849.4" cy="353.8" r="3.7"/><circle cx="841.7" cy="349.9" r="3.7"/><circle cx="830.1" cy="351.9" r="3.7"/><circle cx="835.9" cy="349.9" r="3.7"/><circle cx="847.5" cy="367.4" r="3.7"/><circle cx="853.3" cy="375.1" r="3.7"/><circle cx="861" cy="371.2" r="3.7"/><circle cx="866.8" cy="373.2" r="3.7"/><circle cx="853.3" cy="346.1" r="3.7"/><circle cx="859.1" cy="353.8" r="3.7"/><circle cx="864.9" cy="359.6" r="3.7"/><circle cx="863" cy="365.4" r="3.7"/><circle cx="886.2" cy="435" r="3.7"/><circle cx="890" cy="437.9" r="3.7"/><circle cx="597" cy="417.6" r="3.7"/><circle cx="594.1" cy="419.6" r="3.7"/><circle cx="624.5" cy="396.7" r="3.7"/><circle cx="629.9" cy="402.2" r="3.7"/><circle cx="617.9" cy="403.1" r="3.7"/><circle cx="803.1" cy="123.8" r="3.7"/><circle cx="815.8" cy="132.5" r="3.7"/><circle cx="802.1" cy="135.4" r="3.7"/><circle cx="797.6" cy="138.8" r="3.7"/><circle cx="789.5" cy="144.2" r="3.7"/><circle cx="812.8" cy="144.2" r="3.7"/><circle cx="813.8" cy="149.1" r="3.7"/><circle cx="811.5" cy="146.5" r="3.7"/><circle cx="805" cy="153" r="3.7"/><circle cx="795.3" cy="157.9" r="3.7"/><circle cx="801.5" cy="164.3" r="3.7"/><circle cx="814.2" cy="165.3" r="3.7"/></g>
<g fill="#999999" fill-opacity="0.7" stroke="#999999" stroke-opacity="0.95" stroke-width="1.5"><circle cx="864.9" cy="337.4" r="3.7"/><circle cx="826.2" cy="346.5" r="3.7"/><circle cx="857.2" cy="381.9" r="3.7"/><circle cx="874.6" cy="439.9" r="3.7"/><circle cx="881.3" cy="444.7" r="3.7"/><circle cx="888.1" cy="448.6" r="3.7"/><circle cx="731.5" cy="444.7" r="3.7"/><circle cx="723.7" cy="444.7" r="3.7"/><circle cx="684.1" cy="345.1" r="3.7"/></g>
<text x="989.9" y="38.5" font-size="27.5" textLength="137.9" lengthAdjust="spacingAndGlyphs">Legend for</text>
<text x="1134.4" y="38.5" font-size="27.5" font-weight="bold" stroke="#000" stroke-width="0.6">a</text>
<text x="1012.7" y="401.7" font-size="27.5" textLength="138.9" lengthAdjust="spacingAndGlyphs">Legend for</text>
<text x="1158.2" y="401.7" font-size="27.5" font-weight="bold" stroke="#000" stroke-width="0.6">b</text>
<circle cx="1011.2" cy="77.9" r="19.2" fill="#0570B8"/>
<text x="1042.3" y="85.8" font-size="27.3" textLength="469.9" lengthAdjust="spacingAndGlyphs">C6: CD4 naive/early memory (24.3%)</text>
<circle cx="1011.2" cy="121.7" r="19.2" fill="#44B000"/>
<text x="1042.3" y="129.6" font-size="27.3" textLength="283.6" lengthAdjust="spacingAndGlyphs">C7: CD4 Tcm 1 (10.5%)</text>
<circle cx="1011.2" cy="165.5" r="19.2" fill="#CC00D2"/>
<text x="1042.3" y="173.4" font-size="27.3" textLength="291.3" lengthAdjust="spacingAndGlyphs">C8: CD4 Tcm 2 (24.2%)</text>
<circle cx="1011.2" cy="209.2" r="19.2" fill="#8FB545"/>
<text x="1042.3" y="217.1" font-size="27.3" textLength="349" lengthAdjust="spacingAndGlyphs">C4: CD4 activated 1 (10.6%)</text>
<circle cx="1011.2" cy="253" r="19.2" fill="#8A5CFF"/>
<text x="1042.3" y="260.9" font-size="27.3" textLength="349" lengthAdjust="spacingAndGlyphs">C5: CD4 activated 2 (16.2%)</text>
<circle cx="1581.5" cy="77.9" r="19.2" fill="#EE9500"/>
<text x="1614.4" y="85.8" font-size="27.3" textLength="439" lengthAdjust="spacingAndGlyphs">C10: CD4 activated/effector (4.7%)</text>
<circle cx="1581.5" cy="121.7" r="19.2" fill="#5300A2"/>
<text x="1614.4" y="129.6" font-size="27.3" textLength="256.5" lengthAdjust="spacingAndGlyphs">C3: CD4 Treg (2.6%)</text>
<circle cx="1581.5" cy="165.5" r="19.2" fill="#E59C46"/>
<text x="1614.4" y="173.4" font-size="27.3" textLength="142.5" lengthAdjust="spacingAndGlyphs">C1: B (5.1%)</text>
<circle cx="1581.5" cy="209.2" r="19.2" fill="#0080FF"/>
<text x="1614.4" y="217.1" font-size="27.3" textLength="255.1" lengthAdjust="spacingAndGlyphs">C2: Monocyte (1.7%)</text>
<circle cx="1011" cy="441.6" r="19.2" fill="#999999"/>
<circle cx="1011" cy="485.4" r="19.2" fill="#E63946"/>
<text x="1042.9" y="449.9" font-size="27.3" textLength="41.9" lengthAdjust="spacingAndGlyphs">HIV</text>
<text x="1087.3" y="439" font-size="17" textLength="10.3" lengthAdjust="spacingAndGlyphs">−</text>
<text x="1104.8" y="449.9" font-size="27.3" textLength="89.4" lengthAdjust="spacingAndGlyphs">(81.3%)</text>
<text x="1042.9" y="493.7" font-size="27.3" textLength="41.9" lengthAdjust="spacingAndGlyphs">HIV</text>
<text x="1087.3" y="483.5" font-size="17" textLength="10.3" lengthAdjust="spacingAndGlyphs">+</text>
<text x="1104.7" y="493.7" font-size="27.3" textLength="87.4" lengthAdjust="spacingAndGlyphs">(18.7%)</text>
<text x="0.5" y="602.4" font-size="37.5" textLength="22.1" lengthAdjust="spacingAndGlyphs" font-weight="bold" stroke="#000" stroke-width="1.1">c</text>
<text x="776.3" y="602.4" font-size="37.5" textLength="23.8" lengthAdjust="spacingAndGlyphs" font-weight="bold" stroke="#000" stroke-width="1.1">d</text>
<path class="ax" d="M381.5 594V1353.4H654"/>
<path class="tk" d="M370.2 642.9H381.5M370.2 725.5H381.5M370.2 808.1H381.5M370.2 890.8H381.5M370.2 973.4H381.5M370.2 1056H381.5M370.2 1138.6H381.5M370.2 1221.2H381.5M370.2 1303.9H381.5"/>
<path class="tk" style="stroke:#111;stroke-width:1.2" d="M381.5 1353.4v11.4M454.3 1353.4v11.4M527.1 1353.4v11.4M599.9 1353.4v11.4"/>
<text x="43" y="651.3" font-size="27.3" textLength="316.5" lengthAdjust="spacingAndGlyphs">CD4 naive/early memory</text>
<text x="398.9" y="634" font-size="27.3" textLength="33.4" lengthAdjust="spacingAndGlyphs" fill="#E63946">20</text>
<text x="643.4" y="667.1" font-size="27.3" textLength="68" lengthAdjust="spacingAndGlyphs" fill="#9B9B9B">1,698</text>
<text x="223.7" y="733.9" font-size="27.3" textLength="135.9" lengthAdjust="spacingAndGlyphs">CD4 Tcm 1</text>
<text x="406.9" y="716.6" font-size="27.3" textLength="32.1" lengthAdjust="spacingAndGlyphs" fill="#E63946">68</text>
<text x="494.7" y="749.7" font-size="27.3" textLength="47.2" lengthAdjust="spacingAndGlyphs" fill="#9B9B9B">674</text>
<text x="219.5" y="816.5" font-size="27.3" textLength="140.1" lengthAdjust="spacingAndGlyphs">CD4 Tcm 2</text>
<text x="414.7" y="799.2" font-size="27.3" textLength="42.1" lengthAdjust="spacingAndGlyphs" fill="#E63946">128</text>
<text x="626.8" y="832.3" font-size="27.3" textLength="67.2" lengthAdjust="spacingAndGlyphs" fill="#9B9B9B">1,586</text>
<text x="161.2" y="899.2" font-size="27.3" textLength="198.3" lengthAdjust="spacingAndGlyphs">CD4 activated 1</text>
<text x="453.6" y="881.9" font-size="27.3" textLength="51.2" lengthAdjust="spacingAndGlyphs" fill="#E63946">409</text>
<text x="446.2" y="915" font-size="27.3" textLength="49" lengthAdjust="spacingAndGlyphs" fill="#9B9B9B">343</text>
<text x="157.3" y="981.8" font-size="27.3" textLength="202.2" lengthAdjust="spacingAndGlyphs">CD4 activated 2</text>
<text x="458.6" y="964.5" font-size="27.3" textLength="45.7" lengthAdjust="spacingAndGlyphs" fill="#E63946">427</text>
<text x="500.9" y="997.6" font-size="27.3" textLength="47.4" lengthAdjust="spacingAndGlyphs" fill="#9B9B9B">720</text>
<text x="68.9" y="1064.4" font-size="27.3" textLength="290.6" lengthAdjust="spacingAndGlyphs">CD4 activated/effector</text>
<text x="425.8" y="1047.1" font-size="27.3" textLength="50.4" lengthAdjust="spacingAndGlyphs" fill="#E63946">204</text>
<text x="414.7" y="1080.2" font-size="27.3" textLength="37.4" lengthAdjust="spacingAndGlyphs" fill="#9B9B9B">131</text>
<text x="239.4" y="1147" font-size="27.3" textLength="120.1" lengthAdjust="spacingAndGlyphs">CD4 Treg</text>
<text x="399.3" y="1129.7" font-size="27.3" textLength="31.4" lengthAdjust="spacingAndGlyphs" fill="#E63946">23</text>
<text x="419.7" y="1162.8" font-size="27.3" textLength="44" lengthAdjust="spacingAndGlyphs" fill="#9B9B9B">163</text>
<text x="343.2" y="1229.6" font-size="27.3" textLength="16.3" lengthAdjust="spacingAndGlyphs">B</text>
<text x="398.6" y="1212.3" font-size="27.3" textLength="25.4" lengthAdjust="spacingAndGlyphs" fill="#E63946">17</text>
<text x="446.2" y="1245.4" font-size="27.3" textLength="48.2" lengthAdjust="spacingAndGlyphs" fill="#9B9B9B">342</text>
<text x="233" y="1312.3" font-size="27.3" textLength="126.5" lengthAdjust="spacingAndGlyphs">Monocyte</text>
<text x="399.3" y="1295" font-size="27.3" textLength="30.9" lengthAdjust="spacingAndGlyphs" fill="#E63946">25</text>
<text x="410.9" y="1328.1" font-size="27.3" textLength="32.5" lengthAdjust="spacingAndGlyphs" fill="#9B9B9B">98</text>
<path d="M381.5 626.3H384.4M381.5 708.9H391.4M381.5 791.5H400.1M381.5 874.2H441.1M381.5 956.8H443.7M381.5 1039.4H411.2M381.5 1122H384.8M381.5 1204.6H384M381.5 1287.3H385.1" stroke="#E63946" stroke-width="4.2" stroke-dasharray="4.3 12.2" fill="none"/>
<path d="M381.5 659.5H628.7M381.5 742.1H479.6M381.5 824.7H612.4M381.5 907.4H431.4M381.5 990H486.3M381.5 1072.6H400.6M381.5 1155.2H405.2M381.5 1237.8H431.3M381.5 1320.5H395.8" stroke="#9B9B9B" stroke-width="4.2" stroke-dasharray="4.3 12.2" fill="none"/>
<g fill="#E63946"><circle cx="384.4" cy="626.3" r="6.9"/><circle cx="391.4" cy="708.9" r="6.9"/><circle cx="400.1" cy="791.5" r="6.9"/><circle cx="441.1" cy="874.2" r="6.9"/><circle cx="443.7" cy="956.8" r="6.9"/><circle cx="411.2" cy="1039.4" r="6.9"/><circle cx="384.8" cy="1122" r="6.9"/><circle cx="384" cy="1204.6" r="6.9"/><circle cx="385.1" cy="1287.3" r="6.9"/></g><g fill="#9B9B9B"><circle cx="628.7" cy="659.5" r="6.9"/><circle cx="479.6" cy="742.1" r="6.9"/><circle cx="612.4" cy="824.7" r="6.9"/><circle cx="431.4" cy="907.4" r="6.9"/><circle cx="486.3" cy="990" r="6.9"/><circle cx="400.6" cy="1072.6" r="6.9"/><circle cx="405.2" cy="1155.2" r="6.9"/><circle cx="431.3" cy="1237.8" r="6.9"/><circle cx="395.8" cy="1320.5" r="6.9"/></g>
<text x="379.9" y="1384" font-size="23" textLength="15.1" lengthAdjust="spacingAndGlyphs" transform="rotate(-45 394.1 1384)">0</text>
<text x="424" y="1384" font-size="23" textLength="43.8" lengthAdjust="spacingAndGlyphs" transform="rotate(-45 466.9 1384)">500</text>
<text x="478.8" y="1384" font-size="23" textLength="61.7" lengthAdjust="spacingAndGlyphs" transform="rotate(-45 539.7 1384)">1,000</text>
<text x="553.1" y="1384" font-size="23" textLength="60.2" lengthAdjust="spacingAndGlyphs" transform="rotate(-45 612.5 1384)">1,500</text>
<g transform="translate(24 973.2) rotate(-90)">
<text x="-46.1" y="0" font-size="27.3" textLength="92" lengthAdjust="spacingAndGlyphs">Cluster</text>
</g>
<text x="417.1" y="1465.1" font-size="27.3" textLength="202.1" lengthAdjust="spacingAndGlyphs">Number of cells</text>
<text x="444" y="1496.1" font-size="27.3" textLength="8.1" lengthAdjust="spacingAndGlyphs">(</text>
<text x="453.2" y="1496.1" font-size="27.3" textLength="42.1" lengthAdjust="spacingAndGlyphs" fill="#9B9B9B">HIV</text>
<text x="497.5" y="1482.7" font-size="16" textLength="9.6" lengthAdjust="spacingAndGlyphs" fill="#9B9B9B">−</text>
<text x="515.6" y="1496.1" font-size="27.3" textLength="3.8" lengthAdjust="spacingAndGlyphs">|</text>
<text x="529.8" y="1496.1" font-size="27.3" textLength="42.5" lengthAdjust="spacingAndGlyphs" fill="#E63946">HIV</text>
<text x="572.9" y="1482.7" font-size="16" textLength="10.1" lengthAdjust="spacingAndGlyphs" fill="#E63946">+</text>
<text x="583.2" y="1496.1" font-size="27.3" textLength="8.1" lengthAdjust="spacingAndGlyphs">)</text>
<path class="ax" style="stroke:#404040" d="M1126.7 593.5V1353.4"/>
<path class="ax" d="M1126.1 1353.4H1403.3"/>
<path class="tk" d="M1115.6 642.9H1126.6M1115.6 725.5H1126.6M1115.6 808.1H1126.6M1115.6 890.8H1126.6M1115.6 973.4H1126.6M1115.6 1056H1126.6M1115.6 1138.6H1126.6M1115.6 1221.2H1126.6M1115.6 1303.9H1126.6"/>
<path class="tk" style="stroke:#111;stroke-width:1.2" d="M1139.4 1353.4v11.4M1206.7 1353.4v11.4M1274 1353.4v11.4M1341.3 1353.4v11.4"/>
<text x="789.6" y="651.3" font-size="27.3" textLength="316.5" lengthAdjust="spacingAndGlyphs">CD4 naive/early memory</text>
<text x="1165.1" y="650.9" font-size="27.3" textLength="55.7" lengthAdjust="spacingAndGlyphs" fill="#E63946">1.5%</text>
<text x="970.3" y="733.9" font-size="27.3" textLength="135.9" lengthAdjust="spacingAndGlyphs">CD4 Tcm 1</text>
<text x="1190" y="733.5" font-size="27.3" textLength="55.2" lengthAdjust="spacingAndGlyphs" fill="#E63946">5.1%</text>
<text x="966.1" y="816.5" font-size="27.3" textLength="140.1" lengthAdjust="spacingAndGlyphs">CD4 Tcm 2</text>
<text x="1221" y="816.1" font-size="27.3" textLength="59.3" lengthAdjust="spacingAndGlyphs" fill="#E63946">9.7%</text>
<text x="907.8" y="899.2" font-size="27.3" textLength="198.3" lengthAdjust="spacingAndGlyphs">CD4 activated 1</text>
<text x="1363.2" y="898.8" font-size="27.3" textLength="74.6" lengthAdjust="spacingAndGlyphs" fill="#E63946">31.0%</text>
<text x="903.9" y="981.8" font-size="27.3" textLength="202.2" lengthAdjust="spacingAndGlyphs">CD4 activated 2</text>
<text x="1372.7" y="981.4" font-size="27.3" textLength="76.4" lengthAdjust="spacingAndGlyphs" fill="#E63946">32.3%</text>
<text x="815.5" y="1064.4" font-size="27.3" textLength="290.6" lengthAdjust="spacingAndGlyphs">CD4 activated/effector</text>
<text x="1258.8" y="1064" font-size="27.3" textLength="72.6" lengthAdjust="spacingAndGlyphs" fill="#E63946">15.4%</text>
<text x="986" y="1147" font-size="27.3" textLength="120.1" lengthAdjust="spacingAndGlyphs">CD4 Treg</text>
<text x="1166.1" y="1146.6" font-size="27.3" textLength="54.8" lengthAdjust="spacingAndGlyphs" fill="#E63946">1.7%</text>
<text x="1089.8" y="1229.6" font-size="27.3" textLength="16.3" lengthAdjust="spacingAndGlyphs">B</text>
<text x="1162.8" y="1229.2" font-size="27.3" textLength="57.1" lengthAdjust="spacingAndGlyphs" fill="#E63946">1.3%</text>
<text x="979.6" y="1312.3" font-size="27.3" textLength="126.5" lengthAdjust="spacingAndGlyphs">Monocyte</text>
<text x="1166.8" y="1311.9" font-size="27.3" textLength="57.1" lengthAdjust="spacingAndGlyphs" fill="#E63946">1.9%</text>
<path d="M1139.1 642.9H1149.5M1139.1 725.5H1173.7M1139.1 808.1H1204.7M1139.1 890.8H1348M1139.1 973.4H1356.8M1139.1 1056H1243M1139.1 1138.6H1150.8M1139.1 1221.2H1148.1M1139.1 1303.9H1152.2" stroke="#E63946" stroke-width="4.2" stroke-dasharray="4.3 12.2" fill="none"/>
<g fill="#E63946"><circle cx="1149.5" cy="642.9" r="6.9"/><circle cx="1173.7" cy="725.5" r="6.9"/><circle cx="1204.7" cy="808.1" r="6.9"/><circle cx="1348" cy="890.8" r="6.9"/><circle cx="1356.8" cy="973.4" r="6.9"/><circle cx="1243" cy="1056" r="6.9"/><circle cx="1150.8" cy="1138.6" r="6.9"/><circle cx="1148.1" cy="1221.2" r="6.9"/><circle cx="1152.2" cy="1303.9" r="6.9"/></g>
<text x="1131.9" y="1390.2" font-size="22.6" textLength="15.1" lengthAdjust="spacingAndGlyphs">0</text>
<text x="1191.4" y="1390.2" font-size="22.6" textLength="31" lengthAdjust="spacingAndGlyphs">0.1</text>
<text x="1256.9" y="1390.2" font-size="22.6" textLength="34.3" lengthAdjust="spacingAndGlyphs">0.2</text>
<text x="1323.7" y="1390.2" font-size="22.6" textLength="35.3" lengthAdjust="spacingAndGlyphs">0.3</text>
<g transform="translate(799.8 973) rotate(-90)">
<text x="-46.1" y="0" font-size="27.3" textLength="92" lengthAdjust="spacingAndGlyphs">Cluster</text>
</g>
<text x="1178.3" y="1429.8" font-size="27.3" textLength="167.3" lengthAdjust="spacingAndGlyphs">Proportion of</text>
<text x="1205.2" y="1461" font-size="27.3" textLength="43.3" lengthAdjust="spacingAndGlyphs" fill="#E63946">HIV</text>
<text x="1249.1" y="1447.2" font-size="16" textLength="10.1" lengthAdjust="spacingAndGlyphs" fill="#E63946">+</text>
<text x="1265.7" y="1461" font-size="27.3" textLength="60.3" lengthAdjust="spacingAndGlyphs">cells</text>
<text x="1490.2" y="300.6" font-size="37.5" textLength="22.7" lengthAdjust="spacingAndGlyphs" font-weight="bold" stroke="#000" stroke-width="1.1">e</text>
<path d="M1862.7 1345H2134.8" stroke="#707070" stroke-width="1.8" fill="none"/>
<path class="ax" style="stroke:#3a3a3a;stroke-width:1.25" d="M1863.3 292.5V589.3M1863.3 610.4V1345.9"/>
<text x="1759.2" y="315.6" font-size="27.2" textLength="84.7" lengthAdjust="spacingAndGlyphs">CD62L</text>
<text x="1661.7" y="339.9" font-size="27.2" textLength="182.3" lengthAdjust="spacingAndGlyphs">CD127 (IL-7Rα)</text>
<text x="1762.8" y="364.3" font-size="27.2" textLength="81.2" lengthAdjust="spacingAndGlyphs">CD49f</text>
<text x="1647.5" y="388.6" font-size="27.2" textLength="196.5" lengthAdjust="spacingAndGlyphs">CD185 (CXCR5)</text>
<text x="1663.4" y="412.9" font-size="27.2" textLength="180.6" lengthAdjust="spacingAndGlyphs">CD194 (CCR4)</text>
<text x="1776.4" y="437.2" font-size="27.2" textLength="67.6" lengthAdjust="spacingAndGlyphs">CD27</text>
<text x="1664.3" y="461.6" font-size="27.2" textLength="179.7" lengthAdjust="spacingAndGlyphs">TIGIT (VSTM3)</text>
<text x="1778.7" y="485.9" font-size="27.2" textLength="65.3" lengthAdjust="spacingAndGlyphs">CD31</text>
<text x="1773.8" y="510.2" font-size="27.2" textLength="70.2" lengthAdjust="spacingAndGlyphs">CD55</text>
<text x="1791" y="534.6" font-size="27.2" textLength="53" lengthAdjust="spacingAndGlyphs">CD7</text>
<text x="1789.4" y="558.9" font-size="27.2" textLength="54.6" lengthAdjust="spacingAndGlyphs">CD5</text>
<text x="1762.8" y="583.2" font-size="27.2" textLength="81.1" lengthAdjust="spacingAndGlyphs">CD162</text>
<text x="1665" y="633.4" font-size="27.2" textLength="179" lengthAdjust="spacingAndGlyphs">CD195 (CCR5)</text>
<text x="1662.7" y="657.7" font-size="27.2" textLength="181.3" lengthAdjust="spacingAndGlyphs">CD150 (SLAM)</text>
<text x="1790.4" y="682.1" font-size="27.2" textLength="53.6" lengthAdjust="spacingAndGlyphs">CD2</text>
<text x="1757.6" y="706.4" font-size="27.2" textLength="86.4" lengthAdjust="spacingAndGlyphs">GPR56</text>
<text x="1680.6" y="730.7" font-size="27.2" textLength="163.4" lengthAdjust="spacingAndGlyphs">CD279 (PD-1)</text>
<text x="1705.6" y="755" font-size="27.2" textLength="138.3" lengthAdjust="spacingAndGlyphs">CD95 (Fas)</text>
<text x="1551.6" y="779.4" font-size="27.2" textLength="292.4" lengthAdjust="spacingAndGlyphs">CD119 (IFN-γ R α chain)</text>
<text x="1773.8" y="803.7" font-size="27.2" textLength="70.2" lengthAdjust="spacingAndGlyphs">CD26</text>
<text x="1642.3" y="828" font-size="27.2" textLength="201.7" lengthAdjust="spacingAndGlyphs">HLA-DR, DP, DQ</text>
<text x="1683.8" y="852.4" font-size="27.2" textLength="160.2" lengthAdjust="spacingAndGlyphs">CD244 (2B4)</text>
<text x="1769.2" y="876.7" font-size="27.2" textLength="74.6" lengthAdjust="spacingAndGlyphs">CD11a</text>
<text x="1662.1" y="901" font-size="27.2" textLength="181.9" lengthAdjust="spacingAndGlyphs">CD305 (LAIR1)</text>
<text x="1761.1" y="925.4" font-size="27.2" textLength="82.8" lengthAdjust="spacingAndGlyphs">CD146</text>
<text x="1767" y="949.7" font-size="27.2" textLength="76.9" lengthAdjust="spacingAndGlyphs">CD161</text>
<text x="1489.9" y="974" font-size="27.2" textLength="354.1" lengthAdjust="spacingAndGlyphs">CD73 (Ecto-5'-nucleotidase)</text>
<text x="1747.2" y="998.4" font-size="27.2" textLength="96.7" lengthAdjust="spacingAndGlyphs">HLA-DR</text>
<text x="1773.1" y="1022.7" font-size="27.2" textLength="70.9" lengthAdjust="spacingAndGlyphs">CD54</text>
<text x="1653.6" y="1047" font-size="27.2" textLength="190.4" lengthAdjust="spacingAndGlyphs">CD151 (PETA-3)</text>
<text x="1663.4" y="1071.3" font-size="27.2" textLength="180.6" lengthAdjust="spacingAndGlyphs">CD196 (CCR6)</text>
<text x="1666.6" y="1095.7" font-size="27.2" textLength="177.4" lengthAdjust="spacingAndGlyphs">CD192 (CCR2)</text>
<text x="1772.5" y="1120" font-size="27.2" textLength="71.5" lengthAdjust="spacingAndGlyphs">CD48</text>
<text x="1774.8" y="1144.3" font-size="27.2" textLength="69.2" lengthAdjust="spacingAndGlyphs">CD25</text>
<text x="1755.6" y="1168.7" font-size="27.2" textLength="88.3" lengthAdjust="spacingAndGlyphs">CD49b</text>
<text x="1665.3" y="1193" font-size="27.2" textLength="178.7" lengthAdjust="spacingAndGlyphs">KLRG1 (MAFA)</text>
<text x="1757.6" y="1217.3" font-size="27.2" textLength="86.3" lengthAdjust="spacingAndGlyphs">CD49a</text>
<text x="1678" y="1241.7" font-size="27.2" textLength="166" lengthAdjust="spacingAndGlyphs">CD101 (BB27)</text>
<text x="1772.2" y="1266" font-size="27.2" textLength="71.8" lengthAdjust="spacingAndGlyphs">CD99</text>
<text x="1774.7" y="1290.3" font-size="27.2" textLength="69.3" lengthAdjust="spacingAndGlyphs">CD47</text>
<text x="1774.7" y="1314.6" font-size="27.2" textLength="69.3" lengthAdjust="spacingAndGlyphs">CD52</text>
<text x="1774" y="1339" font-size="27.2" textLength="70" lengthAdjust="spacingAndGlyphs">CD82</text>
<path class="tk" d="M1852.2 307.2H1863.3M1852.2 331.5H1863.3M1852.2 355.9H1863.3M1852.2 380.2H1863.3M1852.2 404.5H1863.3M1852.2 428.8H1863.3M1852.2 453.2H1863.3M1852.2 477.5H1863.3M1852.2 501.8H1863.3M1852.2 526.2H1863.3M1852.2 550.5H1863.3M1852.2 574.8H1863.3M1852.2 625H1863.3M1852.2 649.3H1863.3M1852.2 673.7H1863.3M1852.2 698H1863.3M1852.2 722.3H1863.3M1852.2 746.6H1863.3M1852.2 771H1863.3M1852.2 795.3H1863.3M1852.2 819.6H1863.3M1852.2 844H1863.3M1852.2 868.3H1863.3M1852.2 892.6H1863.3M1852.2 917H1863.3M1852.2 941.3H1863.3M1852.2 965.6H1863.3M1852.2 990H1863.3M1852.2 1014.3H1863.3M1852.2 1038.6H1863.3M1852.2 1062.9H1863.3M1852.2 1087.3H1863.3M1852.2 1111.6H1863.3M1852.2 1135.9H1863.3M1852.2 1160.3H1863.3M1852.2 1184.6H1863.3M1852.2 1208.9H1863.3M1852.2 1233.2H1863.3M1852.2 1257.6H1863.3M1852.2 1281.9H1863.3M1852.2 1306.2H1863.3M1852.2 1330.6H1863.3"/>
<path class="tk" style="stroke:#3a3a3a;stroke-width:1.2" d="M1863.3 1345v11M1913.3 1345v11M1963.3 1345v11M2013.4 1345v11M2063.4 1345v11M2113.4 1345v11"/>
<path d="M1863.3 307.2H2132.9M1863.3 331.5H1962.1M1863.3 355.9H1929.9M1863.3 380.2H1923.4M1863.3 404.5H1900.7M1863.3 428.8H1930.3M1863.3 453.2H1889M1863.3 477.5H1881.2M1863.3 501.8H1885.8M1863.3 526.2H1873.7M1863.3 550.5H1878M1863.3 574.8H1878M1863.3 625H2021.2M1863.3 649.3H2036.8M1863.3 673.7H2039.7M1863.3 698H1933.8M1863.3 722.3H1953M1863.3 746.6H1940M1863.3 771H1911.1M1863.3 795.3H1891.3M1863.3 819.6H1886.4M1863.3 844H1880.9M1863.3 868.3H1899.4M1863.3 892.6H1886.4M1863.3 917H1880.2M1863.3 941.3H1876.7M1863.3 965.6H1876.7M1863.3 990H1880.6M1863.3 1014.3H1888.4M1863.3 1038.6H1877M1863.3 1062.9H1874.1M1863.3 1087.3H1872.1M1863.3 1111.6H1881.2M1863.3 1135.9H1876.7M1863.3 1160.3H1873.4M1863.3 1184.6H1870.8M1863.3 1208.9H1870.2M1863.3 1233.2H1870.2M1863.3 1257.6H1874.4M1863.3 1281.9H1894.5M1863.3 1306.2H1875.5M1863.3 1330.6H1871.9" stroke="#595959" stroke-width="4.2" stroke-dasharray="4.3 12.16" fill="none"/>
<g stroke="#000" stroke-width="2.8"><circle cx="2132.9" cy="307.2" r="8.3" fill="#B89CF5"/><circle cx="1962.1" cy="331.5" r="8.3" fill="#CDB6F8"/><circle cx="1929.9" cy="355.9" r="8.3" fill="#BE9FF6"/><circle cx="1923.4" cy="380.2" r="8.3" fill="#C3A6F6"/><circle cx="1900.7" cy="404.5" r="8.3" fill="#DBCAF9"/><circle cx="1930.3" cy="428.8" r="8.3" fill="#F0E9FD"/><circle cx="1889" cy="453.2" r="8.3" fill="#E0D1FA"/><circle cx="1881.2" cy="477.5" r="8.3" fill="#E4D7FA"/><circle cx="1885.8" cy="501.8" r="8.3" fill="#F7F3FE"/><circle cx="1873.7" cy="526.2" r="8.3" fill="#FAF8FE"/><circle cx="1878" cy="550.5" r="8.3" fill="#FDFCFF"/><circle cx="1878" cy="574.8" r="8.3" fill="#FEFEFF"/><circle cx="2021.2" cy="625" r="8.3" fill="#FF0000"/><circle cx="2036.8" cy="649.3" r="8.3" fill="#FF4B2B"/><circle cx="2039.7" cy="673.7" r="8.3" fill="#FCA98C"/><circle cx="1933.8" cy="698" r="8.3" fill="#FF2B13"/><circle cx="1953" cy="722.3" r="8.3" fill="#FF6B4B"/><circle cx="1940" cy="746.6" r="8.3" fill="#FDB49B"/><circle cx="1911.1" cy="771" r="8.3" fill="#FC9B7D"/><circle cx="1891.3" cy="795.3" r="8.3" fill="#FC9C7F"/><circle cx="1886.4" cy="819.6" r="8.3" fill="#FC9579"/><circle cx="1880.9" cy="844" r="8.3" fill="#FD7B5B"/><circle cx="1899.4" cy="868.3" r="8.3" fill="#FEC9B6"/><circle cx="1886.4" cy="892.6" r="8.3" fill="#FC977B"/><circle cx="1880.2" cy="917" r="8.3" fill="#FD8566"/><circle cx="1876.7" cy="941.3" r="8.3" fill="#FD7C5C"/><circle cx="1876.7" cy="965.6" r="8.3" fill="#FD7F5F"/><circle cx="1880.6" cy="990" r="8.3" fill="#FC9177"/><circle cx="1888.4" cy="1014.3" r="8.3" fill="#FDC1AD"/><circle cx="1877" cy="1038.6" r="8.3" fill="#FCA189"/><circle cx="1874.1" cy="1062.9" r="8.3" fill="#FD9074"/><circle cx="1872.1" cy="1087.3" r="8.3" fill="#FD8363"/><circle cx="1881.2" cy="1111.6" r="8.3" fill="#FED1C1"/><circle cx="1876.7" cy="1135.9" r="8.3" fill="#FDBCA7"/><circle cx="1873.4" cy="1160.3" r="8.3" fill="#FCA68D"/><circle cx="1870.8" cy="1184.6" r="8.3" fill="#FD8B6D"/><circle cx="1870.2" cy="1208.9" r="8.3" fill="#FC9B7F"/><circle cx="1870.2" cy="1233.2" r="8.3" fill="#FC9D81"/><circle cx="1874.4" cy="1257.6" r="8.3" fill="#FECEBE"/><circle cx="1894.5" cy="1281.9" r="8.3" fill="#FFF4EF"/><circle cx="1875.5" cy="1306.2" r="8.3" fill="#FFEEE7"/><circle cx="1871.9" cy="1330.6" r="8.3" fill="#FFEAE2"/></g>
<text x="1855.9" y="1381.9" font-size="22.6" textLength="15" lengthAdjust="spacingAndGlyphs">0</text>
<text x="1901.7" y="1381.9" font-size="22.6" textLength="23.9" lengthAdjust="spacingAndGlyphs">10</text>
<text x="1948.8" y="1381.9" font-size="22.6" textLength="28.1" lengthAdjust="spacingAndGlyphs">20</text>
<text x="1998.4" y="1381.9" font-size="22.6" textLength="29.1" lengthAdjust="spacingAndGlyphs">30</text>
<text x="2048.5" y="1381.9" font-size="22.6" textLength="29.5" lengthAdjust="spacingAndGlyphs">40</text>
<text x="2098.6" y="1381.9" font-size="22.6" textLength="28.7" lengthAdjust="spacingAndGlyphs">50</text>
<text x="1931.2" y="1424.1" font-size="27.2" textLength="54.9" lengthAdjust="spacingAndGlyphs">–log</text>
<text x="1987.5" y="1432.6" font-size="16.3" textLength="18.8" lengthAdjust="spacingAndGlyphs">10</text>
<text x="2007.1" y="1424.1" font-size="27.2" textLength="8.5" lengthAdjust="spacingAndGlyphs">(</text>
<text x="2016" y="1424.1" font-size="27.2" textLength="17.3" lengthAdjust="spacingAndGlyphs" font-style="italic">P</text>
<text x="2031.4" y="1432.6" font-size="16.3" textLength="26.8" lengthAdjust="spacingAndGlyphs">adj</text>
<text x="2058.2" y="1424.1" font-size="27.2" textLength="7.9" lengthAdjust="spacingAndGlyphs">)</text>
<g transform="translate(2147.9 414.5) rotate(90)">
<text x="-0.9" y="0" font-size="27.2" textLength="44.9" lengthAdjust="spacingAndGlyphs">HIV</text>
<text x="44.4" y="-10.5" font-size="17">−</text>
</g>
<g transform="translate(2147.9 952) rotate(90)">
<text x="-0.9" y="0" font-size="27.2" textLength="44.9" lengthAdjust="spacingAndGlyphs">HIV</text>
<text x="44.4" y="-10.5" font-size="17">+</text>
</g>
<defs><linearGradient id="cb" x1="0" x2="1" y1="0" y2="0"><stop offset="0" stop-color="#B897F8"/><stop offset="0.15" stop-color="#D6C4F9"/><stop offset="0.297" stop-color="#FFFFFF"/><stop offset="0.45" stop-color="#FDD3C4"/><stop offset="0.6" stop-color="#FCA88C"/><stop offset="0.8" stop-color="#FD7657"/><stop offset="1" stop-color="#FF0F0A"/></linearGradient></defs>
<rect x="1921.9" y="1453.1" width="223" height="20.4" fill="url(#cb)"/>
<path d="M1936.3 1453.1v4M1936.3 1473.5v-4M1988.7 1453.1v4M1988.7 1473.5v-4M2041.1 1453.1v4M2041.1 1473.5v-4M2093.4 1453.1v4M2093.4 1473.5v-4" stroke="#fff" stroke-width="1.3" opacity=".85"/>
<text x="1807.6" y="1472.3" font-size="27.2" textLength="36.1" lengthAdjust="spacingAndGlyphs">log</text>
<text x="1848" y="1480" font-size="16.3" textLength="10.6" lengthAdjust="spacingAndGlyphs">2</text>
<text x="1858.6" y="1472" font-size="27.2" textLength="51.9" lengthAdjust="spacingAndGlyphs">(FC)</text>
<g transform="translate(1945.1 1485.4) rotate(-90)">
<text x="-62.9" y="0" font-size="27.2" textLength="63.8" lengthAdjust="spacingAndGlyphs">−0.3</text>
</g>
<g transform="translate(1997.2 1484.2) rotate(-90)">
<text x="-15.9" y="0" font-size="27.2" textLength="16.8" lengthAdjust="spacingAndGlyphs">0</text>
</g>
<g transform="translate(2049.4 1485.4) rotate(-90)">
<text x="-39.2" y="0" font-size="27.2" textLength="40.1" lengthAdjust="spacingAndGlyphs">0.3</text>
</g>
<g transform="translate(2101.3 1485.4) rotate(-90)">
<text x="-39.2" y="0" font-size="27.2" textLength="40.1" lengthAdjust="spacingAndGlyphs">0.6</text>
</g>
</svg>
</body></html>
